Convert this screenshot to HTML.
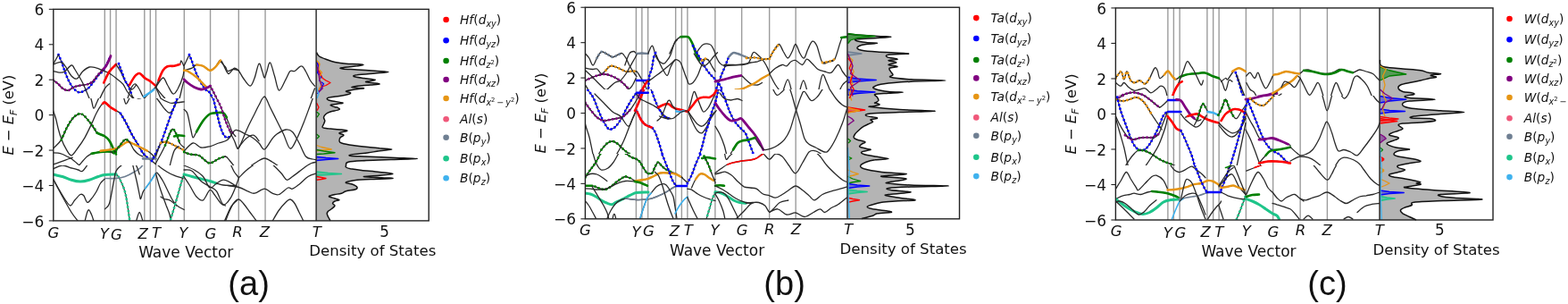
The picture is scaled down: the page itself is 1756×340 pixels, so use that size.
<!DOCTYPE html>
<html><head><meta charset="utf-8"><style>
html,body{margin:0;padding:0;background:#fff;width:1756px;height:340px;overflow:hidden}
svg{display:block}
text{font-family:'DejaVu Sans', 'Liberation Sans', sans-serif;fill:#111}
</style></head><body>
<svg width="1756" height="340" viewBox="0 0 1756 340">
<line x1="117.30" y1="10.35" x2="117.30" y2="246.90" stroke="#9c9c9c" stroke-width="1.4"/>
<line x1="123.55" y1="10.35" x2="123.55" y2="246.90" stroke="#9c9c9c" stroke-width="1.4"/>
<line x1="130.05" y1="10.35" x2="130.05" y2="246.90" stroke="#9c9c9c" stroke-width="1.4"/>
<line x1="161.80" y1="10.35" x2="161.80" y2="246.90" stroke="#9c9c9c" stroke-width="1.4"/>
<line x1="168.30" y1="10.35" x2="168.30" y2="246.90" stroke="#9c9c9c" stroke-width="1.4"/>
<line x1="174.55" y1="10.35" x2="174.55" y2="246.90" stroke="#9c9c9c" stroke-width="1.4"/>
<line x1="206.30" y1="10.35" x2="206.30" y2="246.90" stroke="#9c9c9c" stroke-width="1.4"/>
<line x1="235.55" y1="10.35" x2="235.55" y2="246.90" stroke="#9c9c9c" stroke-width="1.4"/>
<line x1="267.30" y1="10.35" x2="267.30" y2="246.90" stroke="#9c9c9c" stroke-width="1.4"/>
<line x1="297.05" y1="10.35" x2="297.05" y2="246.90" stroke="#9c9c9c" stroke-width="1.4"/>
<line x1="54.80" y1="10.35" x2="59.80" y2="10.35" stroke="#222" stroke-width="1.1"/>
<text x="49.40" y="16.95" text-anchor="end" font-size="17">6</text>
<line x1="54.80" y1="49.78" x2="59.80" y2="49.78" stroke="#222" stroke-width="1.1"/>
<text x="49.40" y="56.38" text-anchor="end" font-size="17">4</text>
<line x1="54.80" y1="89.20" x2="59.80" y2="89.20" stroke="#222" stroke-width="1.1"/>
<text x="49.40" y="95.80" text-anchor="end" font-size="17">2</text>
<line x1="54.80" y1="128.62" x2="59.80" y2="128.62" stroke="#222" stroke-width="1.1"/>
<text x="49.40" y="135.22" text-anchor="end" font-size="17">0</text>
<line x1="54.80" y1="168.05" x2="59.80" y2="168.05" stroke="#222" stroke-width="1.1"/>
<text x="49.40" y="174.65" text-anchor="end" font-size="17">−2</text>
<line x1="54.80" y1="207.48" x2="59.80" y2="207.48" stroke="#222" stroke-width="1.1"/>
<text x="49.40" y="214.08" text-anchor="end" font-size="17">−4</text>
<line x1="54.80" y1="246.90" x2="59.80" y2="246.90" stroke="#222" stroke-width="1.1"/>
<text x="49.40" y="253.50" text-anchor="end" font-size="17">−6</text>
<clipPath id="clipa"><rect x="59.80" y="10.35" width="294.30" height="236.55"/></clipPath>
<g clip-path="url(#clipa)" fill="none" stroke-linecap="round" stroke-linejoin="round">
<clipPath id="ta0"><rect x="0" y="0" width="1756" height="110"/></clipPath><g clip-path="url(#ta0)">
<path d="M65.5,61.2C66.1,62.6 67.9,66.7 69.0,69.5C70.1,72.3 70.8,75.0 72.0,78.2C73.2,81.5 74.7,85.5 76.2,88.8C77.8,92.0 79.4,95.1 81.2,97.5C83.1,99.9 85.6,102.2 87.5,103.0C89.4,103.8 90.6,103.2 92.5,102.5C94.4,101.8 96.7,100.6 98.8,98.8C100.8,96.9 103.0,93.8 105.0,91.2C107.0,88.8 108.8,85.7 110.5,83.8C112.2,81.8 113.5,81.5 115.0,79.5C116.5,77.5 118.0,74.8 119.5,72.0C121.0,69.2 123.0,64.1 123.8,62.5" stroke="#2a2a2a" stroke-width="1.2"/>
<path d="M65.5,61.2C66.1,62.6 67.9,66.7 69.0,69.5C70.1,72.3 70.8,75.0 72.0,78.2C73.2,81.5 74.7,85.5 76.2,88.8C77.8,92.0 79.4,95.1 81.2,97.5C83.1,99.9 85.6,102.2 87.5,103.0C89.4,103.8 90.6,103.2 92.5,102.5C94.4,101.8 96.7,100.6 98.8,98.8C100.8,96.9 103.0,93.8 105.0,91.2C107.0,88.8 108.8,85.7 110.5,83.8C112.2,81.8 113.5,81.5 115.0,79.5C116.5,77.5 118.0,74.8 119.5,72.0C121.0,69.2 123.0,64.1 123.8,62.5" stroke="#0000ff" stroke-width="2.9" stroke-dasharray="0 4.4"/>
<path d="M59.5,72.0L65.5,61.2" stroke="#2a2a2a" stroke-width="1.3"/>
<path d="M59.5,89.5C60.4,90.2 63.2,92.2 65.0,93.8C66.8,95.3 68.1,97.5 70.0,98.8C71.9,100.0 74.2,101.5 76.2,101.2C78.3,101.0 80.2,98.5 82.5,97.5C84.8,96.5 87.5,96.0 90.0,95.5C92.5,95.0 95.2,95.2 97.5,94.5C99.8,93.8 101.9,92.8 103.8,91.2C105.6,89.7 107.1,87.0 108.8,85.0C110.4,83.0 112.1,81.4 113.8,79.5C115.4,77.6 117.3,76.0 118.8,73.8C120.2,71.5 121.6,68.1 122.5,66.2C123.4,64.4 123.8,63.1 124.0,62.5" stroke="#2a2a2a" stroke-width="1.3"/>
<path d="M59.5,89.5C60.4,90.2 63.2,92.2 65.0,93.8C66.8,95.3 68.1,97.5 70.0,98.8C71.9,100.0 74.2,101.5 76.2,101.2C78.3,101.0 80.2,98.5 82.5,97.5C84.8,96.5 87.5,96.0 90.0,95.5C92.5,95.0 95.2,95.2 97.5,94.5C99.8,93.8 101.9,92.8 103.8,91.2C105.6,89.7 107.1,87.0 108.8,85.0C110.4,83.0 112.9,80.4 113.8,79.5" stroke="#2a2a2a" stroke-width="1.2"/>
<path d="M59.5,89.5C60.4,90.2 63.2,92.2 65.0,93.8C66.8,95.3 68.1,97.5 70.0,98.8C71.9,100.0 74.2,101.5 76.2,101.2C78.3,101.0 80.2,98.5 82.5,97.5C84.8,96.5 87.5,96.0 90.0,95.5C92.5,95.0 95.2,95.2 97.5,94.5C99.8,93.8 101.9,92.8 103.8,91.2C105.6,89.7 107.1,87.0 108.8,85.0C110.4,83.0 112.9,80.4 113.8,79.5" stroke="#800080" stroke-width="2.9" stroke-dasharray="0 4.4"/>
<path d="M113.8,79.5C114.6,78.5 117.3,76.0 118.8,73.8C120.2,71.5 121.6,68.1 122.5,66.2C123.4,64.4 123.8,63.1 124.0,62.5" stroke="#800080" stroke-width="2.8"/>
<path d="M59.5,72.0C61.0,71.6 66.4,69.0 68.8,69.5C71.1,70.0 71.9,72.4 73.8,75.0C75.6,77.6 77.9,82.8 80.0,85.0C82.1,87.2 84.2,88.8 86.2,88.0C88.3,87.2 90.2,82.2 92.5,80.0C94.8,77.8 97.5,75.7 100.0,75.0C102.5,74.3 105.0,75.1 107.5,75.8C110.0,76.4 112.5,77.7 115.0,78.8C117.5,79.8 120.0,80.5 122.5,82.0C125.0,83.5 127.5,85.5 130.0,87.5C132.5,89.5 135.4,91.2 137.5,93.8C139.6,96.2 140.6,99.8 142.5,102.5C144.4,105.2 147.7,108.8 148.8,110.0" stroke="#2a2a2a" stroke-width="1.3"/>
<path d="M59.5,79.5C60.8,79.8 65.3,81.2 67.5,81.2C69.7,81.3 70.4,81.4 72.5,80.0C74.6,78.6 78.1,73.4 80.0,73.0C81.9,72.6 81.7,74.2 83.8,77.5C85.8,80.8 89.8,87.1 92.5,92.5C95.2,97.9 97.9,105.2 100.0,110.0C102.1,114.8 103.1,121.0 105.0,121.2C106.9,121.5 109.2,115.0 111.2,111.2C113.3,107.5 115.6,101.7 117.5,98.8C119.4,95.8 121.7,94.6 122.5,93.8" stroke="#2a2a2a" stroke-width="1.3"/>
<path d="M116.2,92.5C117.3,90.4 120.2,83.4 122.5,80.0C124.8,76.6 128.8,73.3 130.0,72.0" stroke="#ff0000" stroke-width="2.6"/>
<path d="M130.0,72.0C130.8,73.3 133.1,76.6 135.0,80.0C136.9,83.4 139.2,89.2 141.2,92.5C143.3,95.8 145.6,99.6 147.5,100.0C149.4,100.4 151.7,95.8 152.5,95.0" stroke="#2a2a2a" stroke-width="1.3"/>
<path d="M133.0,71.2C133.5,72.7 135.1,76.9 136.2,80.0C137.4,83.1 138.8,87.3 140.0,90.0C141.2,92.7 142.4,93.3 143.8,96.2C145.1,99.2 147.3,105.6 148.0,107.5" stroke="#2a2a2a" stroke-width="1.2"/>
<path d="M133.0,71.2C133.5,72.7 135.1,76.9 136.2,80.0C137.4,83.1 138.8,87.3 140.0,90.0C141.2,92.7 142.4,93.3 143.8,96.2C145.1,99.2 147.3,105.6 148.0,107.5" stroke="#0000ff" stroke-width="2.9" stroke-dasharray="0 4.4"/>
<path d="M148.0,107.5C149.0,108.7 152.2,113.5 153.8,114.5C155.3,115.5 156.0,114.7 157.5,113.8C159.0,112.8 160.6,110.6 162.5,108.8C164.4,106.9 166.8,104.4 168.8,102.5C170.8,100.6 173.5,98.3 174.5,97.5" stroke="#2a2a2a" stroke-width="1.3"/>
<path d="M145.0,95.0C146.0,93.3 149.4,87.2 151.2,85.0C153.1,82.8 154.4,81.6 156.2,82.0C158.1,82.4 160.4,86.0 162.5,87.5C164.6,89.0 166.8,89.8 168.8,91.2C170.8,92.7 173.5,95.4 174.5,96.2" stroke="#ff0000" stroke-width="2.6"/>
<path d="M141.2,116.2C142.1,113.5 144.6,103.8 146.2,100.0C147.9,96.2 149.6,93.8 151.2,93.8C152.9,93.8 154.8,97.7 156.2,100.0C157.7,102.3 158.5,105.4 160.0,107.5C161.5,109.6 164.2,111.7 165.0,112.5" stroke="#2a2a2a" stroke-width="1.3"/>
<path d="M161.2,108.0C162.3,107.3 165.6,105.1 167.5,103.8C169.4,102.4 171.7,100.6 172.5,100.0" stroke="#3fb2ee" stroke-width="2.4"/>
<path d="M174.5,97.5C175.0,96.2 176.2,93.1 177.5,90.0C178.8,86.9 180.8,81.4 182.5,78.8C184.2,76.1 185.4,75.1 187.5,74.2C189.6,73.4 192.7,74.1 195.0,73.8C197.3,73.4 199.9,73.0 201.2,72.0C202.6,71.0 202.2,67.7 203.0,68.0C203.8,68.3 205.3,72.8 205.8,73.8" stroke="#2a2a2a" stroke-width="1.3"/>
<path d="M177.5,90.0C178.3,88.1 180.8,81.4 182.5,78.8C184.2,76.1 185.4,75.1 187.5,74.2C189.6,73.4 192.7,74.1 195.0,73.8C197.3,73.4 200.2,72.3 201.2,72.0" stroke="#ff0000" stroke-width="2.6"/>
<path d="M174.5,97.5C175.8,95.8 180.3,87.4 182.5,87.0C184.7,86.6 185.6,92.0 187.5,95.0C189.4,98.0 191.9,104.2 193.8,105.0C195.6,105.8 196.9,103.3 198.8,100.0C200.6,96.7 203.8,89.2 205.0,85.0C206.2,80.8 206.0,76.7 206.2,75.0" stroke="#2a2a2a" stroke-width="1.3"/>
<path d="M174.5,97.5C175.8,99.2 179.9,104.6 182.5,107.5C185.1,110.4 187.5,113.7 190.0,115.0C192.5,116.3 194.8,115.6 197.5,115.5C200.2,115.4 204.8,114.7 206.2,114.5" stroke="#2a2a2a" stroke-width="1.3"/>
<path d="M174.5,97.5C175.4,99.6 178.2,106.2 180.0,110.0C181.8,113.8 183.1,117.3 185.0,120.0C186.9,122.7 189.0,126.7 191.2,126.2C193.5,125.8 196.5,122.9 198.8,117.5C201.0,112.1 203.8,98.1 205.0,93.8C206.2,89.4 206.0,91.7 206.2,91.2" stroke="#2a2a2a" stroke-width="1.3"/>
<path d="M206.0,73.8L212.0,61.2" stroke="#2a2a2a" stroke-width="1.3"/>
<path d="M212.0,61.2C212.5,62.5 213.7,65.2 215.0,68.8C216.3,72.3 218.3,78.5 220.0,82.5C221.7,86.5 223.3,89.6 225.0,92.5C226.7,95.4 228.3,98.1 230.0,100.0C231.7,101.9 233.5,101.7 235.0,103.8C236.5,105.8 237.5,109.0 238.8,112.5C240.0,116.0 241.5,121.2 242.5,125.0C243.5,128.8 244.6,133.3 245.0,135.0" stroke="#2a2a2a" stroke-width="1.2"/>
<path d="M212.0,61.2C212.5,62.5 213.7,65.2 215.0,68.8C216.3,72.3 218.3,78.5 220.0,82.5C221.7,86.5 223.3,89.6 225.0,92.5C226.7,95.4 228.3,98.1 230.0,100.0C231.7,101.9 233.5,101.7 235.0,103.8C236.5,105.8 237.5,109.0 238.8,112.5C240.0,116.0 241.5,121.2 242.5,125.0C243.5,128.8 244.6,133.3 245.0,135.0" stroke="#0000ff" stroke-width="2.9" stroke-dasharray="0 4.4"/>
<path d="M206.0,78.8C207.5,78.3 212.7,77.3 215.0,76.2C217.3,75.2 217.9,72.9 220.0,72.5C222.1,72.1 225.0,72.7 227.5,73.8C230.0,74.8 232.7,78.5 235.0,78.8C237.3,79.0 239.2,76.9 241.2,75.0C243.2,73.1 245.1,67.1 247.0,67.5C248.9,67.9 251.0,75.0 252.5,77.5C254.0,80.0 254.6,82.7 256.2,82.5C257.9,82.3 260.6,76.8 262.5,76.2C264.4,75.8 265.8,77.6 267.5,79.5C269.2,81.4 270.4,84.7 272.5,87.5C274.6,90.3 277.9,96.2 280.0,96.2C282.1,96.2 283.3,91.7 285.0,87.5C286.7,83.3 288.5,72.5 290.0,71.2C291.5,70.0 292.7,77.4 293.8,80.0C294.8,82.6 295.4,87.0 296.2,87.0C297.1,87.0 297.7,82.8 298.8,80.0C299.8,77.2 301.0,69.2 302.5,70.0C304.0,70.8 305.8,79.8 307.5,85.0C309.2,90.2 310.4,100.6 312.5,101.2C314.6,101.9 317.9,92.4 320.0,88.8C322.1,85.1 323.3,81.0 325.0,79.5C326.7,78.0 327.9,80.5 330.0,79.5C332.1,78.5 335.4,73.7 337.5,73.8C339.6,73.8 340.8,77.3 342.5,80.0C344.2,82.7 345.8,87.3 347.5,90.0C349.2,92.7 351.7,95.2 352.5,96.2" stroke="#2a2a2a" stroke-width="1.3"/>
<path d="M247.0,68.8C247.9,69.8 251.2,73.2 252.5,75.0C253.8,76.8 253.5,79.1 255.0,79.5C256.5,79.9 259.2,77.6 261.2,77.5C263.3,77.4 266.5,78.5 267.5,78.8" stroke="#2a2a2a" stroke-width="1.3"/>
<path d="M220.0,72.5C221.2,72.7 225.0,72.7 227.5,73.8C230.0,74.8 232.7,78.5 235.0,78.8C237.3,79.0 239.2,76.9 241.2,75.0C243.2,73.1 246.0,68.8 247.0,67.5" stroke="#e69514" stroke-width="2.4"/>
<path d="M206.0,78.8C206.7,78.9 207.7,78.2 210.0,79.5C212.3,80.8 217.1,83.9 220.0,86.2C222.9,88.6 225.6,91.9 227.5,93.8C229.4,95.6 230.6,96.9 231.2,97.5" stroke="#2a2a2a" stroke-width="1.3"/>
<path d="M206.0,78.8C206.7,78.9 207.7,78.2 210.0,79.5C212.3,80.8 217.1,83.9 220.0,86.2C222.9,88.6 225.6,91.9 227.5,93.8C229.4,95.6 230.6,96.9 231.2,97.5" stroke="#e69514" stroke-width="2.4"/>
<path d="M206.0,88.8C206.7,89.4 208.1,91.0 210.0,92.5C211.9,94.0 215.0,96.2 217.5,97.5C220.0,98.8 222.9,99.8 225.0,100.0C227.1,100.2 228.2,99.4 230.0,98.8C231.8,98.1 234.6,96.7 235.5,96.2" stroke="#800080" stroke-width="2.8"/>
<path d="M235.5,96.2C236.0,97.3 237.2,99.4 238.8,102.5C240.3,105.6 243.1,110.4 245.0,115.0C246.9,119.6 248.8,126.7 250.0,130.0C251.2,133.3 252.1,134.2 252.5,135.0" stroke="#2a2a2a" stroke-width="1.2"/>
<path d="M235.5,96.2C236.0,97.3 237.2,99.4 238.8,102.5C240.3,105.6 243.1,110.4 245.0,115.0C246.9,119.6 248.8,126.7 250.0,130.0C251.2,133.3 252.1,134.2 252.5,135.0" stroke="#800080" stroke-width="2.9" stroke-dasharray="0 4.4"/>
<path d="M227.5,131.2C228.8,130.4 232.1,127.3 235.0,126.2C237.9,125.2 242.1,124.4 245.0,125.0C247.9,125.6 251.2,129.2 252.5,130.0" stroke="#008000" stroke-width="2.6"/>
<path d="M272.5,135.0C275.4,132.1 286.0,122.0 290.0,117.5C294.0,113.0 294.2,107.6 296.2,108.0C298.3,108.4 300.6,116.3 302.5,120.0C304.4,123.7 306.2,127.5 307.5,130.0C308.8,132.5 309.6,134.2 310.0,135.0" stroke="#2a2a2a" stroke-width="1.3"/>
<path d="M342.5,125.0L352.5,98.8" stroke="#2a2a2a" stroke-width="1.3"/>
</g>
<clipPath id="ta1"><rect x="0" y="110" width="1756" height="75"/></clipPath><g clip-path="url(#ta1)">
<path d="M59.5,123.8C60.0,125.2 61.5,129.0 62.5,132.5C63.5,136.0 64.5,141.2 65.5,145.0C66.5,148.8 67.4,152.0 68.8,155.5C70.1,159.0 71.9,163.2 73.8,166.2C75.6,169.3 77.7,174.0 80.0,173.8C82.3,173.5 85.0,168.3 87.5,165.0C90.0,161.7 92.5,158.1 95.0,153.8C97.5,149.4 100.4,143.1 102.5,138.8C104.6,134.4 105.8,130.8 107.5,127.5C109.2,124.2 110.8,120.9 112.5,118.8C114.2,116.6 115.6,114.3 117.5,114.5C119.4,114.7 121.7,118.5 123.8,120.0C125.8,121.5 128.1,122.6 130.0,123.8C131.9,124.9 133.1,124.7 135.0,127.0C136.9,129.3 139.2,133.7 141.2,137.5C143.3,141.3 145.2,145.8 147.5,150.0C149.8,154.2 152.9,159.0 155.0,162.5C157.1,166.0 158.3,169.0 160.0,171.2C161.7,173.5 163.3,174.8 165.0,176.2C166.7,177.7 168.4,178.8 170.0,180.0C171.6,181.2 173.8,183.1 174.5,183.8" stroke="#2a2a2a" stroke-width="1.3"/>
<path d="M115.0,116.0C115.4,115.8 116.0,113.8 117.5,114.5C119.0,115.2 121.7,118.5 123.8,120.0C125.8,121.5 129.0,123.1 130.0,123.8" stroke="#ff0000" stroke-width="2.6"/>
<path d="M135.0,127.0C136.0,128.8 139.2,133.7 141.2,137.5C143.3,141.3 145.2,145.8 147.5,150.0C149.8,154.2 152.9,159.0 155.0,162.5C157.1,166.0 158.3,169.0 160.0,171.2C161.7,173.5 164.2,175.4 165.0,176.2" stroke="#2a2a2a" stroke-width="1.2"/>
<path d="M135.0,127.0C136.0,128.8 139.2,133.7 141.2,137.5C143.3,141.3 145.2,145.8 147.5,150.0C149.8,154.2 152.9,159.0 155.0,162.5C157.1,166.0 158.3,169.0 160.0,171.2C161.7,173.5 164.2,175.4 165.0,176.2" stroke="#0000ff" stroke-width="2.9" stroke-dasharray="0 4.4"/>
<path d="M59.5,166.2C61.0,164.6 66.2,160.2 68.8,156.2C71.3,152.3 72.7,146.7 75.0,142.5C77.3,138.3 79.8,133.8 82.5,131.2C85.2,128.8 88.1,126.5 91.2,127.5C94.4,128.5 98.3,134.0 101.2,137.5C104.2,141.0 106.0,146.2 108.8,148.8C111.5,151.2 115.2,151.0 117.5,152.5C119.8,154.0 120.8,155.0 122.5,157.5C124.2,160.0 126.2,165.0 127.5,167.5C128.8,170.0 129.6,171.7 130.0,172.5" stroke="#2a2a2a" stroke-width="1.3"/>
<path d="M68.8,156.2C69.8,154.0 72.7,146.7 75.0,142.5C77.3,138.3 79.8,133.8 82.5,131.2C85.2,128.8 88.1,126.5 91.2,127.5C94.4,128.5 98.3,134.0 101.2,137.5C104.2,141.0 107.5,146.9 108.8,148.8" stroke="#2a2a2a" stroke-width="1.2"/>
<path d="M68.8,156.2C69.8,154.0 72.7,146.7 75.0,142.5C77.3,138.3 79.8,133.8 82.5,131.2C85.2,128.8 88.1,126.5 91.2,127.5C94.4,128.5 98.3,134.0 101.2,137.5C104.2,141.0 107.5,146.9 108.8,148.8" stroke="#008000" stroke-width="2.9" stroke-dasharray="0 4.4"/>
<path d="M108.8,148.8C110.2,149.4 115.2,151.0 117.5,152.5C119.8,154.0 120.8,155.0 122.5,157.5C124.2,160.0 126.2,165.0 127.5,167.5C128.8,170.0 129.6,171.7 130.0,172.5" stroke="#008000" stroke-width="2.6"/>
<path d="M98.8,98.8C99.4,101.0 101.5,108.8 102.5,112.5C103.5,116.2 104.0,121.0 105.0,121.2C106.0,121.5 107.3,116.9 108.8,113.8C110.2,110.6 112.7,105.0 113.8,102.5C114.8,100.0 114.8,99.4 115.0,98.8" stroke="#2a2a2a" stroke-width="1.3"/>
<path d="M59.5,170.8C60.4,170.8 63.2,171.0 65.0,171.2C66.8,171.5 68.3,171.9 70.0,172.5C71.7,173.1 73.3,174.2 75.0,175.0C76.7,175.8 77.9,176.0 80.0,177.5C82.1,179.0 85.8,182.3 87.5,183.8C89.2,185.2 89.6,185.8 90.0,186.2" stroke="#2a2a2a" stroke-width="1.3"/>
<path d="M87.5,186.2C89.2,184.4 94.6,177.5 97.5,175.0C100.4,172.5 102.5,172.1 105.0,171.2C107.5,170.4 110.0,170.3 112.5,170.0C115.0,169.7 117.1,169.5 120.0,169.5C122.9,169.5 128.3,169.9 130.0,170.0" stroke="#2a2a2a" stroke-width="1.3"/>
<path d="M102.5,171.8C104.2,171.5 109.6,170.4 112.5,170.0C115.4,169.6 117.1,169.5 120.0,169.5C122.9,169.5 128.3,169.9 130.0,170.0" stroke="#008000" stroke-width="2.6"/>
<path d="M60.0,183.8C61.2,183.3 64.6,182.3 67.5,181.2C70.4,180.2 75.2,178.3 77.5,177.5C79.8,176.7 80.6,176.5 81.2,176.2" stroke="#2a2a2a" stroke-width="1.3"/>
<path d="M112.5,168.8C115.4,168.3 125.4,167.7 130.0,166.2C134.6,164.8 137.7,161.2 140.0,160.0C142.3,158.8 142.1,158.5 143.8,158.8C145.4,159.0 147.3,160.0 150.0,161.2C152.7,162.5 157.5,165.0 160.0,166.2C162.5,167.5 163.3,167.7 165.0,168.8C166.7,169.8 168.4,171.0 170.0,172.5C171.6,174.0 173.8,176.7 174.5,177.5" stroke="#2a2a2a" stroke-width="1.3"/>
<path d="M112.5,168.8C115.4,168.3 125.4,167.7 130.0,166.2C134.6,164.8 137.7,161.2 140.0,160.0C142.3,158.8 142.1,158.5 143.8,158.8C145.4,159.0 147.3,160.0 150.0,161.2C152.7,162.5 157.5,165.0 160.0,166.2C162.5,167.5 164.2,168.3 165.0,168.8" stroke="#e69514" stroke-width="2.4"/>
<path d="M123.8,169.5C124.4,169.8 126.0,172.0 127.5,171.2C129.0,170.5 130.4,167.5 132.5,165.0C134.6,162.5 137.9,157.3 140.0,156.2C142.1,155.2 143.3,156.9 145.0,158.8C146.7,160.6 148.3,165.2 150.0,167.5C151.7,169.8 153.3,171.2 155.0,172.5C156.7,173.8 159.2,174.6 160.0,175.0" stroke="#2a2a2a" stroke-width="1.3"/>
<path d="M127.5,171.2C128.3,170.2 130.4,167.5 132.5,165.0C134.6,162.5 137.9,157.3 140.0,156.2C142.1,155.2 144.2,158.3 145.0,158.8" stroke="#2a2a2a" stroke-width="1.2"/>
<path d="M127.5,171.2C128.3,170.2 130.4,167.5 132.5,165.0C134.6,162.5 137.9,157.3 140.0,156.2C142.1,155.2 144.2,158.3 145.0,158.8" stroke="#008000" stroke-width="2.9" stroke-dasharray="0 4.4"/>
<path d="M160.0,177.5L174.5,177.5" stroke="#6f7f92" stroke-width="2.4"/>
<path d="M77.5,98.0C78.3,98.5 80.8,100.4 82.5,101.2C84.2,102.1 85.8,102.9 87.5,103.0C89.2,103.1 90.8,102.8 92.5,102.0C94.2,101.2 96.7,98.7 97.5,98.0" stroke="#2a2a2a" stroke-width="1.2"/>
<path d="M77.5,98.0C78.3,98.5 80.8,100.4 82.5,101.2C84.2,102.1 85.8,102.9 87.5,103.0C89.2,103.1 90.8,102.8 92.5,102.0C94.2,101.2 96.7,98.7 97.5,98.0" stroke="#0000ff" stroke-width="2.9" stroke-dasharray="0 4.4"/>
<path d="M65.0,97.5C65.8,97.9 68.1,99.4 70.0,100.0C71.9,100.6 74.2,101.6 76.2,101.2C78.3,100.9 81.5,98.5 82.5,98.0" stroke="#2a2a2a" stroke-width="1.2"/>
<path d="M65.0,97.5C65.8,97.9 68.1,99.4 70.0,100.0C71.9,100.6 74.2,101.6 76.2,101.2C78.3,100.9 81.5,98.5 82.5,98.0" stroke="#800080" stroke-width="2.9" stroke-dasharray="0 4.4"/>
<path d="M135.0,98.8C135.6,100.6 137.7,107.1 138.8,110.0C139.8,112.9 140.2,116.2 141.2,116.2C142.3,116.2 143.5,112.5 145.0,110.0C146.5,107.5 149.2,102.7 150.0,101.2" stroke="#2a2a2a" stroke-width="1.3"/>
<path d="M142.5,98.8C143.5,100.0 146.7,104.4 148.8,106.2C150.8,108.1 153.1,109.6 155.0,110.0C156.9,110.4 158.3,109.4 160.0,108.8C161.7,108.1 163.3,107.1 165.0,106.2C166.7,105.4 168.4,104.8 170.0,103.8C171.6,102.7 173.8,100.6 174.5,100.0" stroke="#2a2a2a" stroke-width="1.3"/>
<path d="M160.0,108.8C160.8,108.3 163.3,107.1 165.0,106.2C166.7,105.4 169.2,104.2 170.0,103.8" stroke="#3fb2ee" stroke-width="2.4"/>
<path d="M170.0,100.0C171.7,101.7 176.7,107.5 180.0,110.0C183.3,112.5 187.5,114.2 190.0,115.0C192.5,115.8 192.3,115.2 195.0,115.0C197.7,114.8 204.4,114.0 206.2,113.8" stroke="#2a2a2a" stroke-width="1.3"/>
<path d="M170.0,102.5C171.2,104.2 175.0,109.2 177.5,112.5C180.0,115.8 182.9,120.2 185.0,122.5C187.1,124.8 188.3,126.7 190.0,126.2C191.7,125.8 193.3,123.1 195.0,120.0C196.7,116.9 198.8,111.0 200.0,107.5C201.2,104.0 202.1,100.2 202.5,98.8" stroke="#2a2a2a" stroke-width="1.3"/>
<path d="M170.0,180.0C171.7,176.7 176.7,167.9 180.0,160.0C183.3,152.1 187.1,140.4 190.0,132.5C192.9,124.6 195.6,118.1 197.5,112.5C199.4,106.9 200.6,101.0 201.2,98.8" stroke="#2a2a2a" stroke-width="1.2"/>
<path d="M170.0,180.0C171.7,176.7 176.7,167.9 180.0,160.0C183.3,152.1 187.1,140.4 190.0,132.5C192.9,124.6 195.6,118.1 197.5,112.5C199.4,106.9 200.6,101.0 201.2,98.8" stroke="#0000ff" stroke-width="2.9" stroke-dasharray="0 4.4"/>
<path d="M174.5,182.5C175.4,180.8 178.2,175.8 180.0,172.5C181.8,169.2 182.9,167.1 185.0,162.5C187.1,157.9 190.4,147.1 192.5,145.0C194.6,142.9 196.0,147.5 197.5,150.0C199.0,152.5 199.8,157.5 201.2,160.0C202.7,162.5 205.4,164.2 206.2,165.0" stroke="#2a2a2a" stroke-width="1.3"/>
<path d="M185.0,162.5C186.2,159.6 190.4,147.1 192.5,145.0C194.6,142.9 196.0,147.5 197.5,150.0C199.0,152.5 200.6,158.3 201.2,160.0" stroke="#2a2a2a" stroke-width="1.2"/>
<path d="M185.0,162.5C186.2,159.6 190.4,147.1 192.5,145.0C194.6,142.9 196.0,147.5 197.5,150.0C199.0,152.5 200.6,158.3 201.2,160.0" stroke="#008000" stroke-width="2.9" stroke-dasharray="0 4.4"/>
<path d="M195.0,152.5C195.8,152.3 198.1,151.3 200.0,151.2C201.9,151.2 205.2,151.9 206.2,152.0" stroke="#008000" stroke-width="2.6"/>
<path d="M174.5,175.0C175.4,172.5 178.2,162.7 180.0,160.0C181.8,157.3 183.3,158.8 185.0,158.8C186.7,158.8 188.3,159.4 190.0,160.0C191.7,160.6 193.3,161.7 195.0,162.5C196.7,163.3 198.3,164.2 200.0,165.0C201.7,165.8 204.2,167.1 205.0,167.5" stroke="#2a2a2a" stroke-width="1.3"/>
<path d="M180.0,160.0C180.8,159.8 183.3,158.8 185.0,158.8C186.7,158.8 188.3,159.4 190.0,160.0C191.7,160.6 193.3,161.7 195.0,162.5C196.7,163.3 198.3,164.2 200.0,165.0C201.7,165.8 204.2,167.1 205.0,167.5" stroke="#2a2a2a" stroke-width="1.2"/>
<path d="M180.0,160.0C180.8,159.8 183.3,158.8 185.0,158.8C186.7,158.8 188.3,159.4 190.0,160.0C191.7,160.6 193.3,161.7 195.0,162.5C196.7,163.3 198.3,164.2 200.0,165.0C201.7,165.8 204.2,167.1 205.0,167.5" stroke="#e69514" stroke-width="2.9" stroke-dasharray="0 4.4"/>
<path d="M190.0,186.2C190.8,183.3 193.3,172.5 195.0,168.8C196.7,165.0 199.2,164.6 200.0,163.8" stroke="#2a2a2a" stroke-width="1.3"/>
<path d="M206.2,122.5C206.9,123.3 208.8,123.8 210.0,127.5C211.2,131.2 212.7,140.6 213.8,145.0C214.8,149.4 215.2,153.3 216.2,153.8C217.3,154.2 218.1,150.6 220.0,147.5C221.9,144.4 225.0,138.3 227.5,135.0C230.0,131.7 232.5,129.0 235.0,127.5C237.5,126.0 240.0,126.5 242.5,126.2C245.0,126.0 247.9,124.8 250.0,126.2C252.1,127.7 253.3,131.5 255.0,135.0C256.7,138.5 258.5,144.6 260.0,147.5C261.5,150.4 263.1,151.7 263.8,152.5" stroke="#2a2a2a" stroke-width="1.3"/>
<path d="M220.0,147.5C221.2,145.4 225.0,138.3 227.5,135.0C230.0,131.7 232.5,129.0 235.0,127.5C237.5,126.0 240.0,126.5 242.5,126.2C245.0,126.0 248.1,125.4 250.0,126.2C251.9,127.1 253.1,130.4 253.8,131.2" stroke="#008000" stroke-width="2.6"/>
<path d="M235.0,98.8C235.6,100.6 237.5,105.6 238.8,110.0C240.0,114.4 241.2,120.0 242.5,125.0C243.8,130.0 245.0,135.8 246.2,140.0C247.5,144.2 248.8,147.7 250.0,150.0C251.2,152.3 252.3,153.3 253.8,153.8C255.2,154.2 257.9,152.7 258.8,152.5" stroke="#2a2a2a" stroke-width="1.2"/>
<path d="M235.0,98.8C235.6,100.6 237.5,105.6 238.8,110.0C240.0,114.4 241.2,120.0 242.5,125.0C243.8,130.0 245.0,135.8 246.2,140.0C247.5,144.2 248.8,147.7 250.0,150.0C251.2,152.3 252.3,153.3 253.8,153.8C255.2,154.2 257.9,152.7 258.8,152.5" stroke="#0000ff" stroke-width="2.9" stroke-dasharray="0 4.4"/>
<path d="M237.5,101.2C238.3,102.7 240.8,106.9 242.5,110.0C244.2,113.1 245.8,115.8 247.5,120.0C249.2,124.2 250.8,130.6 252.5,135.0C254.2,139.4 256.0,144.0 257.5,146.2C259.0,148.5 260.6,148.3 261.2,148.8" stroke="#2a2a2a" stroke-width="1.2"/>
<path d="M237.5,101.2C238.3,102.7 240.8,106.9 242.5,110.0C244.2,113.1 245.8,115.8 247.5,120.0C249.2,124.2 250.8,130.6 252.5,135.0C254.2,139.4 256.0,144.0 257.5,146.2C259.0,148.5 260.6,148.3 261.2,148.8" stroke="#800080" stroke-width="2.9" stroke-dasharray="0 4.4"/>
<path d="M206.2,168.8C207.9,167.3 213.1,160.6 216.2,160.0C219.4,159.4 221.9,164.4 225.0,165.0C228.1,165.6 231.7,164.6 235.0,163.8C238.3,162.9 241.7,161.2 245.0,160.0C248.3,158.8 252.1,158.5 255.0,156.2C257.9,154.0 260.4,147.9 262.5,146.2C264.6,144.6 265.4,145.6 267.5,146.2C269.6,146.9 272.5,148.8 275.0,150.0C277.5,151.2 280.0,152.1 282.5,153.8C285.0,155.4 287.7,157.8 290.0,160.0C292.3,162.2 293.8,167.8 296.2,167.0C298.8,166.2 302.7,157.8 305.0,155.0C307.3,152.2 307.5,151.7 310.0,150.0C312.5,148.3 317.1,145.4 320.0,145.0C322.9,144.6 325.0,145.0 327.5,147.5C330.0,150.0 332.5,155.4 335.0,160.0C337.5,164.6 340.0,172.0 342.5,175.0C345.0,178.0 348.0,177.4 350.0,178.0C352.0,178.6 353.8,178.6 354.5,178.8" stroke="#2a2a2a" stroke-width="1.3"/>
<path d="M257.5,147.5C258.3,149.2 261.0,154.4 262.5,157.5C264.0,160.6 265.0,165.8 266.2,166.2C267.5,166.7 268.1,164.0 270.0,160.0C271.9,156.0 275.0,147.9 277.5,142.5C280.0,137.1 282.9,131.7 285.0,127.5C287.1,123.3 288.1,120.8 290.0,117.5C291.9,114.2 294.2,107.6 296.2,108.0C298.3,108.4 300.2,115.5 302.5,120.0C304.8,124.5 307.5,130.0 310.0,135.0C312.5,140.0 315.0,144.8 317.5,150.0C320.0,155.2 322.5,165.4 325.0,166.2C327.5,167.1 330.0,159.8 332.5,155.0C335.0,150.2 337.5,143.8 340.0,137.5C342.5,131.2 345.4,123.1 347.5,117.5C349.6,111.9 351.3,106.9 352.5,103.8C353.7,100.6 354.2,99.6 354.5,98.8" stroke="#2a2a2a" stroke-width="1.3"/>
<path d="M266.2,166.2C267.7,164.5 272.1,158.0 275.0,155.5C277.9,153.0 281.2,150.9 283.8,151.2C286.2,151.6 289.0,156.5 290.0,157.5" stroke="#2a2a2a" stroke-width="1.3"/>
<path d="M206.2,170.0C207.3,170.4 209.8,171.9 212.5,172.5C215.2,173.1 220.0,172.9 222.5,173.8C225.0,174.6 225.4,176.0 227.5,177.5C229.6,179.0 232.1,182.5 235.0,182.5C237.9,182.5 242.1,178.8 245.0,177.5C247.9,176.2 250.4,174.6 252.5,175.0C254.6,175.4 255.8,178.1 257.5,180.0C259.2,181.9 261.7,185.2 262.5,186.2" stroke="#2a2a2a" stroke-width="1.3"/>
<path d="M206.2,170.0C207.3,170.4 209.8,171.9 212.5,172.5C215.2,173.1 220.0,172.9 222.5,173.8C225.0,174.6 225.4,176.0 227.5,177.5C229.6,179.0 232.1,182.5 235.0,182.5C237.9,182.5 242.1,178.8 245.0,177.5C247.9,176.2 251.2,175.4 252.5,175.0" stroke="#2a2a2a" stroke-width="1.2"/>
<path d="M206.2,170.0C207.3,170.4 209.8,171.9 212.5,172.5C215.2,173.1 220.0,172.9 222.5,173.8C225.0,174.6 225.4,176.0 227.5,177.5C229.6,179.0 232.1,182.5 235.0,182.5C237.9,182.5 242.1,178.8 245.0,177.5C247.9,176.2 251.2,175.4 252.5,175.0" stroke="#008000" stroke-width="2.9" stroke-dasharray="0 4.4"/>
<path d="M280.0,186.2C281.2,185.4 284.8,182.8 287.5,181.2C290.2,179.7 293.3,177.0 296.2,177.0C299.2,177.0 302.3,179.7 305.0,181.2C307.7,182.8 311.2,185.4 312.5,186.2" stroke="#2a2a2a" stroke-width="1.3"/>
<path d="M342.5,186.2C343.5,185.6 346.8,183.3 348.8,182.5C350.8,181.7 353.5,181.5 354.5,181.2" stroke="#2a2a2a" stroke-width="1.3"/>
</g>
<clipPath id="ta2"><rect x="0" y="185" width="1756" height="75"/></clipPath><g clip-path="url(#ta2)">
<path d="M59.5,195.0C61.2,195.4 66.6,196.5 70.0,197.5C73.4,198.5 76.7,200.3 80.0,201.2C83.3,202.2 86.7,203.0 90.0,203.0C93.3,203.0 96.7,202.2 100.0,201.2C103.3,200.3 107.1,198.5 110.0,197.5C112.9,196.5 114.2,195.9 117.5,195.5C120.8,195.1 127.9,195.1 130.0,195.0" stroke="#1ec58a" stroke-width="3.0"/>
<path d="M130.0,195.0C130.4,195.4 131.2,195.4 132.5,197.5C133.8,199.6 136.0,203.8 137.5,207.5C139.0,211.2 140.0,213.8 141.2,220.0C142.5,226.2 144.2,239.6 145.0,245.0C145.8,250.4 146.0,251.2 146.2,252.5" stroke="#2a2a2a" stroke-width="1.2"/>
<path d="M130.0,195.0C130.4,195.4 131.2,195.4 132.5,197.5C133.8,199.6 136.0,203.8 137.5,207.5C139.0,211.2 140.0,213.8 141.2,220.0C142.5,226.2 144.2,239.6 145.0,245.0C145.8,250.4 146.0,251.2 146.2,252.5" stroke="#1ec58a" stroke-width="2.9" stroke-dasharray="0 4.4"/>
<path d="M59.5,188.8C61.2,188.1 66.6,185.1 70.0,185.0C73.4,184.9 77.1,187.2 80.0,188.0C82.9,188.8 85.4,189.5 87.5,190.0C89.6,190.5 90.4,192.7 92.5,191.2C94.6,189.8 97.9,184.4 100.0,181.2C102.1,178.1 103.8,174.4 105.0,172.5C106.2,170.6 107.1,170.4 107.5,170.0" stroke="#2a2a2a" stroke-width="1.3"/>
<path d="M59.5,200.0C60.4,201.7 62.8,206.2 65.0,210.0C67.2,213.8 70.2,219.2 72.5,222.5C74.8,225.8 76.9,229.8 78.8,230.0C80.6,230.2 81.9,225.8 83.8,223.8C85.6,221.7 88.3,218.3 90.0,217.5C91.7,216.7 92.5,217.3 93.8,218.8C95.0,220.2 96.2,225.4 97.5,226.2C98.8,227.1 99.6,225.6 101.2,223.8C102.9,221.9 105.6,218.1 107.5,215.0C109.4,211.9 110.8,207.5 112.5,205.0C114.2,202.5 116.7,200.8 117.5,200.0" stroke="#2a2a2a" stroke-width="1.3"/>
<path d="M60.0,201.2C61.7,204.4 66.7,214.0 70.0,220.0C73.3,226.0 77.1,232.9 80.0,237.5C82.9,242.1 86.2,245.8 87.5,247.5" stroke="#2a2a2a" stroke-width="1.3"/>
<path d="M95.0,247.5C95.6,245.4 97.5,236.2 98.8,235.0C100.0,233.8 101.5,237.9 102.5,240.0C103.5,242.1 104.6,246.2 105.0,247.5" stroke="#2a2a2a" stroke-width="1.3"/>
<path d="M117.5,199.5C119.6,199.5 126.2,199.8 130.0,199.5C133.8,199.2 136.7,198.7 140.0,197.5C143.3,196.3 147.1,194.2 150.0,192.5C152.9,190.8 155.4,189.4 157.5,187.5C159.6,185.6 160.6,182.9 162.5,181.2C164.4,179.6 167.1,178.2 168.8,177.5C170.4,176.8 171.9,177.1 172.5,177.0" stroke="#6f7f92" stroke-width="1.6"/>
<path d="M117.5,233.8C118.3,232.7 120.8,232.7 122.5,227.5C124.2,222.3 126.2,208.5 127.5,202.5C128.8,196.5 128.3,194.4 130.0,191.2C131.7,188.1 134.6,185.7 137.5,183.8C140.4,181.8 145.0,179.3 147.5,179.5C150.0,179.7 151.0,182.4 152.5,185.0C154.0,187.6 155.6,193.3 156.2,195.0" stroke="#2a2a2a" stroke-width="1.3"/>
<path d="M147.5,179.5C148.3,182.9 151.0,193.7 152.5,200.0C154.0,206.3 155.4,213.8 156.2,217.5C157.1,221.2 156.9,222.9 157.5,222.5C158.1,222.1 159.2,216.9 160.0,215.0C160.8,213.1 161.0,213.3 162.5,211.2C164.0,209.2 166.8,205.4 168.8,202.5C170.8,199.6 173.0,195.0 174.5,193.8C176.0,192.5 176.2,193.5 177.5,195.0C178.8,196.5 180.8,199.6 182.5,202.5C184.2,205.4 185.8,209.2 187.5,212.5C189.2,215.8 190.8,219.6 192.5,222.5C194.2,225.4 196.7,228.8 197.5,230.0" stroke="#2a2a2a" stroke-width="1.3"/>
<path d="M162.5,211.2C163.5,209.8 166.8,205.4 168.8,202.5C170.8,199.6 173.5,195.2 174.5,193.8" stroke="#3fb2ee" stroke-width="1.6"/>
<path d="M174.5,193.8C175.0,195.6 176.2,200.6 177.5,205.0C178.8,209.4 181.0,215.8 182.5,220.0C184.0,224.2 185.0,226.7 186.2,230.0C187.5,233.3 189.2,237.1 190.0,240.0C190.8,242.9 191.0,246.2 191.2,247.5" stroke="#2a2a2a" stroke-width="1.3"/>
<path d="M180.0,220.0C180.6,220.4 182.1,221.9 183.8,222.5C185.4,223.1 188.1,222.9 190.0,223.8C191.9,224.6 193.3,226.2 195.0,227.5C196.7,228.8 198.1,230.1 200.0,231.2C201.9,232.4 205.2,234.0 206.2,234.5" stroke="#2a2a2a" stroke-width="1.3"/>
<path d="M191.2,245.0C191.9,242.9 193.5,237.5 195.0,232.5C196.5,227.5 198.3,220.8 200.0,215.0C201.7,209.2 204.0,200.8 205.0,197.5C206.0,194.2 206.0,195.4 206.2,195.0" stroke="#2a2a2a" stroke-width="1.2"/>
<path d="M191.2,245.0C191.9,242.9 193.5,237.5 195.0,232.5C196.5,227.5 198.3,220.8 200.0,215.0C201.7,209.2 204.0,200.8 205.0,197.5C206.0,194.2 206.0,195.4 206.2,195.0" stroke="#1ec58a" stroke-width="2.9" stroke-dasharray="0 4.4"/>
<path d="M174.5,182.5C175.4,183.3 177.8,185.8 180.0,187.5C182.2,189.2 185.0,191.0 187.5,192.5C190.0,194.0 192.1,195.1 195.0,196.2C197.9,197.4 203.3,199.0 205.0,199.5" stroke="#2a2a2a" stroke-width="1.3"/>
<path d="M152.5,247.5C153.1,245.8 155.0,237.5 156.2,237.5C157.5,237.5 159.4,245.8 160.0,247.5" stroke="#2a2a2a" stroke-width="1.3"/>
<path d="M206.0,195.0C207.5,195.4 211.8,196.7 215.0,197.5C218.2,198.3 221.7,199.2 225.0,200.0C228.3,200.8 232.1,201.7 235.0,202.5C237.9,203.3 241.2,204.6 242.5,205.0" stroke="#1ec58a" stroke-width="3.0"/>
<path d="M242.5,205.0C243.8,205.3 247.5,206.6 250.0,207.0C252.5,207.4 255.0,207.4 257.5,207.5C260.0,207.6 263.8,207.5 265.0,207.5" stroke="#2a2a2a" stroke-width="1.3"/>
<path d="M206.0,170.0C207.5,170.8 211.8,173.3 215.0,175.0C218.2,176.7 221.7,178.5 225.0,180.0C228.3,181.5 231.7,183.8 235.0,183.8C238.3,183.8 242.1,181.5 245.0,180.0C247.9,178.5 250.4,174.6 252.5,175.0C254.6,175.4 255.8,179.6 257.5,182.5C259.2,185.4 260.8,189.8 262.5,192.5C264.2,195.2 266.7,197.7 267.5,198.8" stroke="#2a2a2a" stroke-width="1.3"/>
<path d="M206.0,170.0C207.5,170.8 211.8,173.3 215.0,175.0C218.2,176.7 221.7,178.5 225.0,180.0C228.3,181.5 231.7,183.8 235.0,183.8C238.3,183.8 242.1,181.5 245.0,180.0C247.9,178.5 251.2,175.8 252.5,175.0" stroke="#008000" stroke-width="1.6"/>
<path d="M206.0,185.0C207.9,185.8 213.9,187.9 217.5,190.0C221.1,192.1 224.6,194.2 227.5,197.5C230.4,200.8 232.5,208.8 235.0,210.0C237.5,211.2 240.0,206.5 242.5,205.0C245.0,203.5 247.5,201.5 250.0,201.2C252.5,201.0 255.0,202.5 257.5,203.8C260.0,205.0 263.8,207.9 265.0,208.8" stroke="#2a2a2a" stroke-width="1.3"/>
<path d="M206.0,190.0C207.5,190.2 211.8,189.2 215.0,191.2C218.2,193.3 221.7,199.6 225.0,202.5C228.3,205.4 232.1,206.9 235.0,208.8C237.9,210.6 240.0,210.4 242.5,213.8C245.0,217.1 247.5,227.3 250.0,228.8C252.5,230.2 255.4,225.2 257.5,222.5C259.6,219.8 260.8,216.5 262.5,212.5C264.2,208.5 266.7,201.0 267.5,198.8" stroke="#2a2a2a" stroke-width="1.3"/>
<path d="M206.0,197.5C207.1,199.2 210.2,203.8 212.5,207.5C214.8,211.2 217.5,217.3 220.0,220.0C222.5,222.7 225.0,225.0 227.5,223.8C230.0,222.5 232.9,213.5 235.0,212.5C237.1,211.5 237.9,215.0 240.0,217.5C242.1,220.0 245.4,225.4 247.5,227.5C249.6,229.6 251.7,229.6 252.5,230.0" stroke="#2a2a2a" stroke-width="1.3"/>
<path d="M267.5,198.8C268.8,197.5 272.1,193.8 275.0,191.2C277.9,188.8 281.5,186.0 285.0,183.8C288.5,181.5 292.9,177.5 296.2,177.5C299.6,177.5 301.9,181.0 305.0,183.8C308.1,186.5 312.3,190.8 315.0,193.8C317.7,196.7 319.2,200.6 321.2,201.2C323.3,201.9 324.8,199.4 327.5,197.5C330.2,195.6 334.2,192.5 337.5,190.0C340.8,187.5 344.7,184.6 347.5,182.5C350.3,180.4 353.3,178.3 354.5,177.5" stroke="#2a2a2a" stroke-width="1.3"/>
<path d="M255.0,207.5C257.1,207.8 263.8,208.5 267.5,209.5C271.2,210.5 274.6,212.6 277.5,213.8C280.4,214.9 281.9,216.7 285.0,216.2C288.1,215.8 292.9,211.2 296.2,211.2C299.6,211.2 302.3,215.2 305.0,216.2C307.7,217.3 309.6,218.5 312.5,217.5C315.4,216.5 320.0,211.0 322.5,210.0C325.0,209.0 325.4,211.9 327.5,211.2C329.6,210.6 332.1,208.5 335.0,206.2C337.9,204.0 341.8,199.6 345.0,197.5C348.2,195.4 352.9,194.4 354.5,193.8" stroke="#2a2a2a" stroke-width="1.3"/>
<path d="M252.5,247.5C253.3,245.4 255.8,238.5 257.5,235.0C259.2,231.5 260.8,228.2 262.5,226.2C264.2,224.2 265.8,222.8 267.5,223.0C269.2,223.2 270.4,225.1 272.5,227.5C274.6,229.9 277.5,234.2 280.0,237.5C282.5,240.8 286.2,245.8 287.5,247.5" stroke="#2a2a2a" stroke-width="1.3"/>
<path d="M251.2,247.5C252.5,244.8 256.5,235.1 258.8,231.2C261.0,227.4 264.0,225.6 265.0,224.5" stroke="#2a2a2a" stroke-width="1.3"/>
<path d="M305.0,247.5C306.2,245.4 310.0,238.5 312.5,235.0C315.0,231.5 317.9,228.2 320.0,226.2C322.1,224.2 323.3,222.8 325.0,223.0C326.7,223.2 328.3,225.1 330.0,227.5C331.7,229.9 333.3,234.2 335.0,237.5C336.7,240.8 339.2,245.8 340.0,247.5" stroke="#2a2a2a" stroke-width="1.3"/>
<path d="M342.5,170.0C343.3,170.8 345.5,173.3 347.5,175.0C349.5,176.7 353.3,179.2 354.5,180.0" stroke="#2a2a2a" stroke-width="1.3"/>
</g>
</g>
<path d="M354.5,58.8C355.0,59.5 355.8,61.8 357.5,63.0C359.2,64.2 362.1,65.2 365.0,66.2C367.9,67.3 371.2,68.7 375.0,69.5C378.8,70.3 383.3,70.9 387.5,71.2C391.7,71.6 396.8,71.5 400.0,71.8C403.2,72.0 407.0,72.2 407.0,72.5C407.0,72.8 404.1,73.2 400.0,73.8C395.9,74.3 385.2,75.2 382.5,75.8C379.8,76.3 380.8,76.6 383.8,77.0C386.7,77.4 394.0,77.6 400.0,78.0C406.0,78.4 414.2,78.8 420.0,79.2C425.8,79.7 435.0,80.0 435.0,80.5C435.0,81.0 425.8,81.5 420.0,82.0C414.2,82.5 404.0,83.2 400.0,83.8C396.0,84.3 395.0,84.9 396.2,85.5C397.5,86.1 403.5,86.9 407.5,87.5C411.5,88.1 419.0,88.7 420.0,89.2C421.0,89.8 415.4,90.3 413.8,90.8C412.1,91.2 408.1,91.2 410.0,91.8C411.9,92.2 424.2,93.2 425.0,93.8C425.8,94.3 419.2,94.6 415.0,95.0C410.8,95.4 403.5,95.8 400.0,96.2C396.5,96.7 393.8,97.2 393.8,97.5C393.8,97.8 397.7,98.0 400.0,98.2C402.3,98.5 407.9,98.5 407.5,98.8C407.1,99.0 400.8,99.5 397.5,100.0C394.2,100.5 388.3,101.4 387.5,102.0C386.7,102.6 392.1,103.2 392.5,103.8C392.9,104.3 392.1,104.9 390.0,105.5C387.9,106.1 383.3,107.0 380.0,107.5C376.7,108.0 372.3,108.2 370.0,108.8C367.7,109.2 366.2,109.9 366.2,110.5C366.2,111.1 367.1,111.8 370.0,112.5C372.9,113.2 382.5,114.4 383.8,115.0C385.0,115.6 379.8,115.8 377.5,116.2C375.2,116.7 370.2,116.9 370.0,117.5C369.8,118.1 375.0,119.6 376.2,120.0C377.5,120.4 376.9,119.6 377.5,120.0C378.1,120.4 381.2,121.7 380.0,122.5C378.8,123.3 372.5,124.2 370.0,125.0C367.5,125.8 366.2,126.5 365.0,127.5C363.8,128.5 362.7,130.0 362.5,131.2C362.3,132.5 363.8,133.8 363.8,135.0C363.8,136.2 362.9,137.5 362.5,138.8C362.1,140.0 360.4,141.7 361.2,142.5C362.1,143.3 364.0,143.3 367.5,143.8C371.0,144.2 379.0,144.6 382.5,145.0C386.0,145.4 389.2,145.6 388.8,146.2C388.3,146.9 380.6,147.9 380.0,148.8C379.4,149.6 384.8,150.4 385.0,151.2C385.2,152.1 382.1,152.7 381.2,153.8C380.4,154.8 379.8,156.5 380.0,157.5C380.2,158.5 380.0,159.2 382.5,160.0C385.0,160.8 390.0,161.8 395.0,162.5C400.0,163.2 407.5,164.0 412.5,164.5C417.5,165.0 420.6,165.3 425.0,165.8C429.4,166.2 438.8,166.5 438.8,167.0C438.8,167.5 429.4,168.1 425.0,168.8C420.6,169.4 417.7,170.0 412.5,170.8C407.3,171.5 397.1,172.4 393.8,173.0C390.4,173.6 390.2,173.9 392.5,174.2C394.8,174.6 400.0,174.7 407.5,175.0C415.0,175.3 427.5,175.8 437.5,176.2C447.5,176.7 467.5,177.1 467.5,177.5C467.5,177.9 447.1,178.2 437.5,178.5C427.9,178.8 417.9,179.0 410.0,179.5C402.1,180.0 393.8,180.3 390.0,181.2C386.2,182.2 387.9,184.0 387.5,185.0C387.1,186.0 386.7,186.4 387.5,187.0C388.3,187.6 389.6,188.2 392.5,188.8C395.4,189.3 399.6,189.9 405.0,190.5C410.4,191.1 419.2,191.8 425.0,192.5C430.8,193.2 440.0,193.9 440.0,194.5C440.0,195.1 430.4,195.8 425.0,196.2C419.6,196.8 408.8,197.2 407.5,197.5C406.2,197.8 412.1,197.9 417.5,198.2C422.9,198.6 440.4,199.1 440.0,199.5C439.6,199.9 421.7,200.2 415.0,200.5C408.3,200.8 404.2,200.8 400.0,201.2C395.8,201.7 392.1,202.5 390.0,203.0C387.9,203.5 386.7,204.0 387.5,204.5C388.3,205.0 392.9,205.4 395.0,206.2C397.1,207.1 399.6,208.5 400.0,209.5C400.4,210.5 399.6,211.3 397.5,212.0C395.4,212.7 390.0,213.0 387.5,213.8C385.0,214.5 384.6,215.6 382.5,216.2C380.4,216.9 377.1,217.1 375.0,217.5C372.9,217.9 371.0,218.3 370.0,218.8C369.0,219.2 367.9,219.5 368.8,220.0C369.6,220.5 373.1,221.4 375.0,222.0C376.9,222.6 380.0,223.2 380.0,223.8C380.0,224.2 376.2,224.4 375.0,225.0C373.8,225.6 372.5,226.7 372.5,227.5C372.5,228.3 375.2,229.0 375.0,230.0C374.8,231.0 372.5,232.7 371.2,233.8C370.0,234.8 368.3,235.4 367.5,236.2C366.7,237.1 366.2,237.7 366.2,238.8C366.2,239.8 366.9,241.2 367.5,242.5C368.1,243.8 369.6,246.0 370.0,246.8L354.10,246.90L354.10,58.75Z" fill="#b4b4b4" stroke="none"/>
<path d="M354.10,175.50 L354.50,175.50 L365.00,176.50 L378.75,177.50 L365.00,178.50 L354.50,179.50 L354.10,179.50Z" fill="#8080c0" stroke="none"/>
<path d="M354.10,192.00 L354.50,192.00 L367.50,193.50 L382.50,194.50 L367.50,195.50 L354.50,196.25 L354.10,196.25Z" fill="#60c0a0" stroke="none"/>
<path d="M354.5,58.8C355.0,59.5 355.8,61.8 357.5,63.0C359.2,64.2 362.1,65.2 365.0,66.2C367.9,67.3 371.2,68.7 375.0,69.5C378.8,70.3 383.3,70.9 387.5,71.2C391.7,71.6 396.8,71.5 400.0,71.8C403.2,72.0 407.0,72.2 407.0,72.5C407.0,72.8 404.1,73.2 400.0,73.8C395.9,74.3 385.2,75.2 382.5,75.8C379.8,76.3 380.8,76.6 383.8,77.0C386.7,77.4 394.0,77.6 400.0,78.0C406.0,78.4 414.2,78.8 420.0,79.2C425.8,79.7 435.0,80.0 435.0,80.5C435.0,81.0 425.8,81.5 420.0,82.0C414.2,82.5 404.0,83.2 400.0,83.8C396.0,84.3 395.0,84.9 396.2,85.5C397.5,86.1 403.5,86.9 407.5,87.5C411.5,88.1 419.0,88.7 420.0,89.2C421.0,89.8 415.4,90.3 413.8,90.8C412.1,91.2 408.1,91.2 410.0,91.8C411.9,92.2 424.2,93.2 425.0,93.8C425.8,94.3 419.2,94.6 415.0,95.0C410.8,95.4 403.5,95.8 400.0,96.2C396.5,96.7 393.8,97.2 393.8,97.5C393.8,97.8 397.7,98.0 400.0,98.2C402.3,98.5 407.9,98.5 407.5,98.8C407.1,99.0 400.8,99.5 397.5,100.0C394.2,100.5 388.3,101.4 387.5,102.0C386.7,102.6 392.1,103.2 392.5,103.8C392.9,104.3 392.1,104.9 390.0,105.5C387.9,106.1 383.3,107.0 380.0,107.5C376.7,108.0 372.3,108.2 370.0,108.8C367.7,109.2 366.2,109.9 366.2,110.5C366.2,111.1 367.1,111.8 370.0,112.5C372.9,113.2 382.5,114.4 383.8,115.0C385.0,115.6 379.8,115.8 377.5,116.2C375.2,116.7 370.2,116.9 370.0,117.5C369.8,118.1 375.0,119.6 376.2,120.0C377.5,120.4 376.9,119.6 377.5,120.0C378.1,120.4 381.2,121.7 380.0,122.5C378.8,123.3 372.5,124.2 370.0,125.0C367.5,125.8 366.2,126.5 365.0,127.5C363.8,128.5 362.7,130.0 362.5,131.2C362.3,132.5 363.8,133.8 363.8,135.0C363.8,136.2 362.9,137.5 362.5,138.8C362.1,140.0 360.4,141.7 361.2,142.5C362.1,143.3 364.0,143.3 367.5,143.8C371.0,144.2 379.0,144.6 382.5,145.0C386.0,145.4 389.2,145.6 388.8,146.2C388.3,146.9 380.6,147.9 380.0,148.8C379.4,149.6 384.8,150.4 385.0,151.2C385.2,152.1 382.1,152.7 381.2,153.8C380.4,154.8 379.8,156.5 380.0,157.5C380.2,158.5 380.0,159.2 382.5,160.0C385.0,160.8 390.0,161.8 395.0,162.5C400.0,163.2 407.5,164.0 412.5,164.5C417.5,165.0 420.6,165.3 425.0,165.8C429.4,166.2 438.8,166.5 438.8,167.0C438.8,167.5 429.4,168.1 425.0,168.8C420.6,169.4 417.7,170.0 412.5,170.8C407.3,171.5 397.1,172.4 393.8,173.0C390.4,173.6 390.2,173.9 392.5,174.2C394.8,174.6 400.0,174.7 407.5,175.0C415.0,175.3 427.5,175.8 437.5,176.2C447.5,176.7 467.5,177.1 467.5,177.5C467.5,177.9 447.1,178.2 437.5,178.5C427.9,178.8 417.9,179.0 410.0,179.5C402.1,180.0 393.8,180.3 390.0,181.2C386.2,182.2 387.9,184.0 387.5,185.0C387.1,186.0 386.7,186.4 387.5,187.0C388.3,187.6 389.6,188.2 392.5,188.8C395.4,189.3 399.6,189.9 405.0,190.5C410.4,191.1 419.2,191.8 425.0,192.5C430.8,193.2 440.0,193.9 440.0,194.5C440.0,195.1 430.4,195.8 425.0,196.2C419.6,196.8 408.8,197.2 407.5,197.5C406.2,197.8 412.1,197.9 417.5,198.2C422.9,198.6 440.4,199.1 440.0,199.5C439.6,199.9 421.7,200.2 415.0,200.5C408.3,200.8 404.2,200.8 400.0,201.2C395.8,201.7 392.1,202.5 390.0,203.0C387.9,203.5 386.7,204.0 387.5,204.5C388.3,205.0 392.9,205.4 395.0,206.2C397.1,207.1 399.6,208.5 400.0,209.5C400.4,210.5 399.6,211.3 397.5,212.0C395.4,212.7 390.0,213.0 387.5,213.8C385.0,214.5 384.6,215.6 382.5,216.2C380.4,216.9 377.1,217.1 375.0,217.5C372.9,217.9 371.0,218.3 370.0,218.8C369.0,219.2 367.9,219.5 368.8,220.0C369.6,220.5 373.1,221.4 375.0,222.0C376.9,222.6 380.0,223.2 380.0,223.8C380.0,224.2 376.2,224.4 375.0,225.0C373.8,225.6 372.5,226.7 372.5,227.5C372.5,228.3 375.2,229.0 375.0,230.0C374.8,231.0 372.5,232.7 371.2,233.8C370.0,234.8 368.3,235.4 367.5,236.2C366.7,237.1 366.2,237.7 366.2,238.8C366.2,239.8 366.9,241.2 367.5,242.5C368.1,243.8 369.6,246.0 370.0,246.8" fill="none" stroke="#111" stroke-width="1.5" stroke-linejoin="round"/>
<path d="M354.50,70.00 L357.50,72.50 L356.25,77.50 L358.75,82.50 L361.25,87.50 L365.00,90.00 L370.00,92.50 L365.00,95.50 L358.75,97.50 L356.25,102.50" fill="none" stroke="#ff0000" stroke-width="1.3" stroke-linejoin="round"/>
<path d="M354.50,68.75 L357.00,75.00 L355.50,81.25 L359.50,86.25 L357.50,90.00 L362.50,93.75 L358.75,100.00 L355.50,105.00" fill="none" stroke="#0000ff" stroke-width="1.3" stroke-linejoin="round"/>
<path d="M354.50,67.50 L358.00,71.25 L357.00,77.50 L360.50,81.25 L357.50,86.25 L360.00,95.00 L357.00,101.25" fill="none" stroke="#e69514" stroke-width="1.3" stroke-linejoin="round"/>
<path d="M354.50,72.50 L356.50,80.00 L358.00,90.00 L361.25,98.75 L356.25,103.75" fill="none" stroke="#800080" stroke-width="1.3" stroke-linejoin="round"/>
<path d="M354.50,97.50 L357.00,105.00 L355.00,110.00" fill="none" stroke="#3fb2ee" stroke-width="1.3" stroke-linejoin="round"/>
<path d="M354.50,115.00 L357.00,120.00 L355.00,123.75" fill="none" stroke="#ff0000" stroke-width="1.3" stroke-linejoin="round"/>
<path d="M354.50,162.50 L360.00,164.50 L371.25,167.00 L360.00,168.00 L354.50,168.75" fill="none" stroke="#e69514" stroke-width="1.3" stroke-linejoin="round"/>
<path d="M354.50,167.50 L362.50,169.00 L375.00,170.75 L362.50,172.00 L354.50,172.50" fill="none" stroke="#008000" stroke-width="1.3" stroke-linejoin="round"/>
<path d="M354.50,175.50 L365.00,176.50 L378.75,177.50 L365.00,178.50 L354.50,179.50" fill="none" stroke="#0000ff" stroke-width="1.3" stroke-linejoin="round"/>
<path d="M354.50,192.00 L367.50,193.50 L382.50,194.50 L367.50,195.50 L354.50,196.25" fill="none" stroke="#1ec58a" stroke-width="1.3" stroke-linejoin="round"/>
<path d="M354.50,197.50 L360.00,198.50 L365.00,199.50 L360.00,200.50 L354.50,201.25" fill="none" stroke="#ff0000" stroke-width="1.3" stroke-linejoin="round"/>
<path d="M354.50,125.00 L357.50,127.50 L355.00,131.25" fill="none" stroke="#008000" stroke-width="1.3" stroke-linejoin="round"/>
<path d="M354.50,150.00 L357.50,152.50 L355.00,155.00" fill="none" stroke="#008000" stroke-width="1.3" stroke-linejoin="round"/>
<rect x="59.80" y="10.35" width="420.40" height="236.55" fill="none" stroke="#222" stroke-width="1.4"/>
<line x1="354.10" y1="10.35" x2="354.10" y2="246.90" stroke="#222" stroke-width="1.4"/>
<text x="60.00" y="265.50" text-anchor="middle" font-size="16.5" font-style="italic">G</text>
<text x="116.80" y="267.40" text-anchor="middle" font-size="16.5" font-style="italic">Y</text>
<text x="130.50" y="268.00" text-anchor="middle" font-size="16.5" font-style="italic">G</text>
<text x="160.10" y="266.80" text-anchor="middle" font-size="16.5" font-style="italic">Z</text>
<text x="175.10" y="266.20" text-anchor="middle" font-size="16.5" font-style="italic">T</text>
<text x="205.20" y="266.00" text-anchor="middle" font-size="16.5" font-style="italic">Y</text>
<text x="235.80" y="266.80" text-anchor="middle" font-size="16.5" font-style="italic">G</text>
<text x="266.10" y="264.90" text-anchor="middle" font-size="16.5" font-style="italic">R</text>
<text x="296.30" y="264.90" text-anchor="middle" font-size="16.5" font-style="italic">Z</text>
<text x="354.80" y="264.90" text-anchor="middle" font-size="16.5" font-style="italic">T</text>
<text x="430.50" y="264.60" text-anchor="middle" font-size="16.8">5</text>
<text x="208.25" y="287.50" text-anchor="middle" font-size="17">Wave Vector</text>
<text x="417.25" y="286.40" text-anchor="middle" font-size="16.6">Density of States</text>
<text transform="translate(15.30,128.62) rotate(-90)" text-anchor="middle" font-size="16.3" ><tspan font-style="italic">E</tspan> − <tspan font-style="italic">E</tspan><tspan font-size="11" dy="3.5" font-style="italic">F</tspan><tspan dy="-3.5"> (eV)</tspan></text>
<circle cx="499.60" cy="22.00" r="3.3" fill="#ff0000"/>
<text x="515.00" y="26.80" font-size="13.8"><tspan font-style="italic">Hf</tspan>(<tspan font-style="italic">d</tspan><tspan font-size="9.6" dy="3.2" font-style="italic">xy</tspan><tspan dy="-3.2">)</tspan></text>
<circle cx="499.60" cy="45.25" r="3.3" fill="#0000ff"/>
<text x="515.00" y="50.05" font-size="13.8"><tspan font-style="italic">Hf</tspan>(<tspan font-style="italic">d</tspan><tspan font-size="9.6" dy="3.2" font-style="italic">yz</tspan><tspan dy="-3.2">)</tspan></text>
<circle cx="499.60" cy="68.00" r="3.3" fill="#008000"/>
<text x="515.00" y="72.80" font-size="13.8"><tspan font-style="italic">Hf</tspan>(<tspan font-style="italic">d</tspan><tspan font-size="9.6" dy="3.2" font-style="italic">z</tspan><tspan font-size="6.8" dy="-4.5">2</tspan><tspan dy="1.3">)</tspan></text>
<circle cx="499.60" cy="89.00" r="3.3" fill="#800080"/>
<text x="515.00" y="93.80" font-size="13.8"><tspan font-style="italic">Hf</tspan>(<tspan font-style="italic">d</tspan><tspan font-size="9.6" dy="3.2" font-style="italic">xz</tspan><tspan dy="-3.2">)</tspan></text>
<circle cx="499.60" cy="110.00" r="3.3" fill="#e69514"/>
<text x="515.00" y="114.80" font-size="13.8"><tspan font-style="italic">Hf</tspan>(<tspan font-style="italic">d</tspan><tspan font-size="9.6" dy="3.2" font-style="italic">x</tspan><tspan font-size="6.8" dy="-4.5">2</tspan><tspan font-size="9.6" dy="4.5"> − </tspan><tspan font-size="9.6" font-style="italic">y</tspan><tspan font-size="6.8" dy="-4.5">2</tspan><tspan dy="1.3">)</tspan></text>
<circle cx="499.60" cy="133.25" r="3.3" fill="#f0587a"/>
<text x="515.00" y="138.05" font-size="13.8"><tspan font-style="italic">Al</tspan>(<tspan font-style="italic">s</tspan>)</text>
<circle cx="499.60" cy="153.75" r="3.3" fill="#6f7f92"/>
<text x="515.00" y="158.55" font-size="13.8"><tspan font-style="italic">B</tspan>(<tspan font-style="italic">p</tspan><tspan font-size="9.6" dy="3.2" font-style="italic">y</tspan><tspan dy="-3.2">)</tspan></text>
<circle cx="499.60" cy="177.30" r="3.3" fill="#1ec58a"/>
<text x="515.00" y="182.10" font-size="13.8"><tspan font-style="italic">B</tspan>(<tspan font-style="italic">p</tspan><tspan font-size="9.6" dy="3.2" font-style="italic">x</tspan><tspan dy="-3.2">)</tspan></text>
<circle cx="499.60" cy="199.20" r="3.3" fill="#3fb2ee"/>
<text x="515.00" y="204.00" font-size="13.8"><tspan font-style="italic">B</tspan>(<tspan font-style="italic">p</tspan><tspan font-size="9.6" dy="3.2" font-style="italic">z</tspan><tspan dy="-3.2">)</tspan></text>
<text x="278.60" y="330" text-anchor="middle" style="font-family:'Liberation Sans',Arial,sans-serif;font-size:38px">(a)</text>
<line x1="712.40" y1="8.24" x2="712.40" y2="244.80" stroke="#9c9c9c" stroke-width="1.4"/>
<line x1="718.90" y1="8.24" x2="718.90" y2="244.80" stroke="#9c9c9c" stroke-width="1.4"/>
<line x1="725.65" y1="8.24" x2="725.65" y2="244.80" stroke="#9c9c9c" stroke-width="1.4"/>
<line x1="756.65" y1="8.24" x2="756.65" y2="244.80" stroke="#9c9c9c" stroke-width="1.4"/>
<line x1="763.40" y1="8.24" x2="763.40" y2="244.80" stroke="#9c9c9c" stroke-width="1.4"/>
<line x1="769.90" y1="8.24" x2="769.90" y2="244.80" stroke="#9c9c9c" stroke-width="1.4"/>
<line x1="800.90" y1="8.24" x2="800.90" y2="244.80" stroke="#9c9c9c" stroke-width="1.4"/>
<line x1="830.65" y1="8.24" x2="830.65" y2="244.80" stroke="#9c9c9c" stroke-width="1.4"/>
<line x1="861.65" y1="8.24" x2="861.65" y2="244.80" stroke="#9c9c9c" stroke-width="1.4"/>
<line x1="891.15" y1="8.24" x2="891.15" y2="244.80" stroke="#9c9c9c" stroke-width="1.4"/>
<line x1="650.40" y1="8.24" x2="655.40" y2="8.24" stroke="#222" stroke-width="1.1"/>
<text x="645.00" y="14.84" text-anchor="end" font-size="17">6</text>
<line x1="650.40" y1="47.67" x2="655.40" y2="47.67" stroke="#222" stroke-width="1.1"/>
<text x="645.00" y="54.27" text-anchor="end" font-size="17">4</text>
<line x1="650.40" y1="87.09" x2="655.40" y2="87.09" stroke="#222" stroke-width="1.1"/>
<text x="645.00" y="93.69" text-anchor="end" font-size="17">2</text>
<line x1="650.40" y1="126.52" x2="655.40" y2="126.52" stroke="#222" stroke-width="1.1"/>
<text x="645.00" y="133.12" text-anchor="end" font-size="17">0</text>
<line x1="650.40" y1="165.95" x2="655.40" y2="165.95" stroke="#222" stroke-width="1.1"/>
<text x="645.00" y="172.55" text-anchor="end" font-size="17">−2</text>
<line x1="650.40" y1="205.37" x2="655.40" y2="205.37" stroke="#222" stroke-width="1.1"/>
<text x="645.00" y="211.97" text-anchor="end" font-size="17">−4</text>
<line x1="650.40" y1="244.80" x2="655.40" y2="244.80" stroke="#222" stroke-width="1.1"/>
<text x="645.00" y="251.40" text-anchor="end" font-size="17">−6</text>
<clipPath id="clipb"><rect x="655.40" y="8.24" width="293.50" height="236.56"/></clipPath>
<g clip-path="url(#clipb)" fill="none" stroke-linecap="round" stroke-linejoin="round">
<clipPath id="tb0"><rect x="0" y="0" width="1756" height="100"/></clipPath><g clip-path="url(#tb0)">
<path d="M655.5,60.0C656.2,60.8 658.3,62.8 659.8,65.0C661.2,67.2 662.5,73.0 664.0,73.0C665.5,73.0 666.9,67.5 668.5,65.0C670.1,62.5 671.6,58.8 673.5,58.0C675.4,57.2 677.7,59.5 679.8,60.5C681.8,61.5 683.9,63.6 686.0,63.8C688.1,63.9 690.5,62.0 692.2,61.2C694.0,60.5 695.0,58.9 696.5,59.5C698.0,60.1 699.6,62.8 701.0,65.0C702.4,67.2 703.3,70.3 704.8,73.0C706.2,75.7 708.4,79.2 709.8,81.2C711.1,83.3 712.5,84.8 713.0,85.5" stroke="#2a2a2a" stroke-width="1.3"/>
<path d="M668.5,65.0C669.3,63.8 671.6,58.8 673.5,58.0C675.4,57.2 677.7,59.5 679.8,60.5C681.8,61.5 683.9,63.6 686.0,63.8C688.1,63.9 690.5,62.0 692.2,61.2C694.0,60.5 695.8,59.8 696.5,59.5" stroke="#2a2a2a" stroke-width="1.2"/>
<path d="M668.5,65.0C669.3,63.8 671.6,58.8 673.5,58.0C675.4,57.2 677.7,59.5 679.8,60.5C681.8,61.5 683.9,63.6 686.0,63.8C688.1,63.9 690.5,62.0 692.2,61.2C694.0,60.5 695.8,59.8 696.5,59.5" stroke="#6f7f92" stroke-width="2.9" stroke-dasharray="0 4.4"/>
<path d="M699.8,73.0C700.6,70.8 703.1,62.6 704.8,60.0C706.4,57.4 708.4,57.5 709.8,57.5C711.1,57.5 711.5,59.7 713.0,60.0C714.5,60.3 716.4,59.5 718.5,59.5C720.6,59.5 724.5,59.9 725.8,60.0" stroke="#2a2a2a" stroke-width="1.3"/>
<path d="M713.0,60.0C713.9,59.9 716.4,59.5 718.5,59.5C720.6,59.5 724.5,59.9 725.8,60.0" stroke="#6f7f92" stroke-width="2.4"/>
<path d="M655.5,76.2C656.8,76.5 661.3,77.4 663.5,77.5C665.7,77.6 666.8,76.2 668.5,77.0C670.2,77.8 671.8,82.2 673.5,82.5C675.2,82.8 676.8,80.2 678.5,78.8C680.2,77.3 681.4,74.3 683.5,73.8C685.6,73.2 688.1,74.5 691.0,75.5C693.9,76.5 698.1,79.3 701.0,80.0C703.9,80.7 706.5,79.5 708.5,79.5C710.5,79.5 711.5,78.9 713.0,80.0C714.5,81.1 715.7,83.8 717.2,86.2C718.8,88.8 720.8,91.9 722.2,95.0C723.7,98.1 725.4,103.3 726.0,105.0" stroke="#2a2a2a" stroke-width="1.3"/>
<path d="M678.5,78.8C679.3,77.9 681.4,74.3 683.5,73.8C685.6,73.2 688.1,74.5 691.0,75.5C693.9,76.5 698.1,79.3 701.0,80.0C703.9,80.7 706.5,79.5 708.5,79.5C710.5,79.5 712.2,79.9 713.0,80.0" stroke="#2a2a2a" stroke-width="1.2"/>
<path d="M678.5,78.8C679.3,77.9 681.4,74.3 683.5,73.8C685.6,73.2 688.1,74.5 691.0,75.5C693.9,76.5 698.1,79.3 701.0,80.0C703.9,80.7 706.5,79.5 708.5,79.5C710.5,79.5 712.2,79.9 713.0,80.0" stroke="#e69514" stroke-width="2.9" stroke-dasharray="0 4.4"/>
<path d="M655.5,90.0C657.2,89.2 662.6,86.7 666.0,85.5C669.4,84.3 673.1,83.2 676.0,83.0C678.9,82.8 681.0,83.7 683.5,84.5C686.0,85.3 688.5,86.5 691.0,88.0C693.5,89.5 696.3,91.8 698.5,93.8C700.7,95.7 702.3,99.3 704.0,99.5C705.7,99.7 707.1,97.0 708.5,95.0C709.9,93.0 711.6,88.8 712.2,87.5" stroke="#2a2a2a" stroke-width="1.3"/>
<path d="M655.5,90.0C657.2,89.2 662.6,86.7 666.0,85.5C669.4,84.3 673.1,83.2 676.0,83.0C678.9,82.8 681.0,83.7 683.5,84.5C686.0,85.3 688.5,86.5 691.0,88.0C693.5,89.5 696.3,91.8 698.5,93.8C700.7,95.7 703.1,98.5 704.0,99.5" stroke="#2a2a2a" stroke-width="1.2"/>
<path d="M655.5,90.0C657.2,89.2 662.6,86.7 666.0,85.5C669.4,84.3 673.1,83.2 676.0,83.0C678.9,82.8 681.0,83.7 683.5,84.5C686.0,85.3 688.5,86.5 691.0,88.0C693.5,89.5 696.3,91.8 698.5,93.8C700.7,95.7 703.1,98.5 704.0,99.5" stroke="#800080" stroke-width="2.9" stroke-dasharray="0 4.4"/>
<path d="M655.5,78.8C656.4,79.6 659.2,82.1 661.0,83.8C662.8,85.4 663.9,86.7 666.0,88.8C668.1,90.8 671.4,94.3 673.5,96.2C675.6,98.2 677.0,100.2 678.5,100.5C680.0,100.8 680.6,99.3 682.2,98.0C683.9,96.7 686.4,93.8 688.5,92.5C690.6,91.2 692.7,91.7 694.8,90.0C696.8,88.3 699.1,85.2 701.0,82.5C702.9,79.8 704.3,76.7 706.0,73.8C707.7,70.8 709.8,67.1 711.0,65.0C712.2,62.9 712.7,61.9 713.0,61.2" stroke="#2a2a2a" stroke-width="1.3"/>
<path d="M655.5,95.0C656.0,95.8 657.6,98.3 658.5,100.0C659.4,101.7 660.6,104.2 661.0,105.0" stroke="#2a2a2a" stroke-width="1.3"/>
<path d="M713.0,90.0L725.8,90.0" stroke="#0000ff" stroke-width="2.4"/>
<path d="M713.0,103.0L725.8,103.0" stroke="#0000ff" stroke-width="2.4"/>
<path d="M716.5,105.0C717.5,103.3 720.7,97.5 722.2,95.0C723.8,92.5 725.2,90.8 725.8,90.0" stroke="#ff0000" stroke-width="2.6"/>
<path d="M725.8,60.0C726.5,58.5 729.0,50.6 730.5,51.2C732.0,51.9 733.4,60.8 734.8,63.8C736.1,66.7 737.0,67.5 738.5,68.8C740.0,70.0 742.0,71.5 743.5,71.2C745.0,71.0 746.0,69.2 747.2,67.5C748.5,65.8 749.6,64.6 751.0,61.2C752.4,57.9 754.2,50.4 755.5,47.5C756.8,44.6 757.4,44.8 758.5,43.8C759.6,42.7 761.6,41.7 762.2,41.2" stroke="#2a2a2a" stroke-width="1.3"/>
<path d="M762.2,41.2C763.1,41.2 765.8,41.0 767.2,41.0C768.7,41.0 770.0,40.8 771.0,41.5C772.0,42.2 772.7,43.6 773.5,45.0C774.3,46.4 775.2,47.9 776.0,50.0C776.8,52.1 777.7,55.2 778.5,57.5C779.3,59.8 780.2,62.1 781.0,63.8C781.8,65.4 783.1,66.9 783.5,67.5" stroke="#008000" stroke-width="2.6"/>
<path d="M749.8,60.0C750.7,58.0 754.0,50.6 755.5,48.0C757.0,45.4 758.0,45.1 758.5,44.5" stroke="#2a2a2a" stroke-width="1.3"/>
<path d="M726.0,102.5C726.2,99.6 726.6,89.2 727.2,85.0C727.9,80.8 728.9,81.0 729.8,77.5C730.6,74.0 731.4,67.0 732.2,63.8C733.1,60.5 734.3,59.0 734.8,58.0" stroke="#2a2a2a" stroke-width="1.2"/>
<path d="M726.0,102.5C726.2,99.6 726.6,89.2 727.2,85.0C727.9,80.8 728.9,81.0 729.8,77.5C730.6,74.0 731.4,67.0 732.2,63.8C733.1,60.5 734.3,59.0 734.8,58.0" stroke="#0000ff" stroke-width="2.9" stroke-dasharray="0 4.4"/>
<path d="M734.8,61.2C735.4,62.7 737.2,67.3 738.5,70.0C739.8,72.7 740.8,75.1 742.2,77.5C743.7,79.9 745.8,84.9 747.2,84.5C748.7,84.1 749.6,77.8 751.0,75.0C752.4,72.2 754.2,68.8 755.5,67.5C756.8,66.2 757.4,66.6 758.5,67.0C759.6,67.4 761.0,67.8 762.2,70.0C763.5,72.2 764.8,76.7 766.0,80.0C767.2,83.3 768.8,87.7 769.8,90.0C770.7,92.3 770.5,93.3 771.5,93.8C772.5,94.2 774.4,94.0 776.0,92.5C777.6,91.0 779.3,88.3 781.0,85.0C782.7,81.7 784.5,75.6 786.0,72.5C787.5,69.4 788.5,67.1 789.8,66.2C791.0,65.4 792.2,66.2 793.5,67.5C794.8,68.8 796.0,71.7 797.2,73.8C798.5,75.8 800.4,79.0 801.0,80.0" stroke="#2a2a2a" stroke-width="1.3"/>
<path d="M725.8,91.2C727.0,90.3 731.0,87.4 733.5,85.5C736.0,83.6 738.5,82.0 741.0,80.0C743.5,78.0 746.0,75.9 748.5,73.8C751.0,71.6 754.8,68.1 756.0,67.0" stroke="#2a2a2a" stroke-width="1.3"/>
<path d="M776.0,51.2C776.8,52.7 779.3,57.1 781.0,60.0C782.7,62.9 784.3,65.8 786.0,68.8C787.7,71.7 789.3,75.0 791.0,77.5C792.7,80.0 794.3,81.9 796.0,83.8C797.7,85.6 799.3,86.9 801.0,88.8C802.7,90.6 804.3,92.3 806.0,95.0C807.7,97.7 810.2,103.3 811.0,105.0" stroke="#2a2a2a" stroke-width="1.2"/>
<path d="M776.0,51.2C776.8,52.7 779.3,57.1 781.0,60.0C782.7,62.9 784.3,65.8 786.0,68.8C787.7,71.7 789.3,75.0 791.0,77.5C792.7,80.0 794.3,81.9 796.0,83.8C797.7,85.6 799.3,86.9 801.0,88.8C802.7,90.6 804.3,92.3 806.0,95.0C807.7,97.7 810.2,103.3 811.0,105.0" stroke="#0000ff" stroke-width="2.9" stroke-dasharray="0 4.4"/>
<path d="M781.0,57.5C782.0,56.2 785.0,51.3 787.2,50.0C789.5,48.7 792.9,48.9 794.8,49.5C796.6,50.1 797.5,52.0 798.5,53.8C799.5,55.5 800.6,59.0 801.0,60.0" stroke="#2a2a2a" stroke-width="1.3"/>
<path d="M777.2,60.0C778.3,61.7 781.8,67.7 783.5,70.0C785.2,72.3 786.0,73.3 787.2,73.8C788.5,74.2 789.8,73.3 791.0,72.5C792.2,71.7 793.3,70.4 794.8,68.8C796.2,67.1 798.3,64.2 799.8,62.5C801.2,60.8 802.9,59.4 803.5,58.8" stroke="#2a2a2a" stroke-width="1.3"/>
<path d="M786.0,67.5C786.6,67.2 788.5,65.8 789.8,65.8C791.0,65.7 792.9,66.8 793.5,67.0" stroke="#2a2a2a" stroke-width="1.2"/>
<path d="M786.0,67.5C786.6,67.2 788.5,65.8 789.8,65.8C791.0,65.7 792.9,66.8 793.5,67.0" stroke="#e69514" stroke-width="2.9" stroke-dasharray="0 4.4"/>
<path d="M801.0,102.5C801.6,100.8 803.5,95.8 804.8,92.5C806.0,89.2 807.2,85.6 808.5,82.5C809.8,79.4 811.0,76.9 812.2,73.8C813.5,70.6 815.4,65.4 816.0,63.8" stroke="#2a2a2a" stroke-width="1.2"/>
<path d="M801.0,102.5C801.6,100.8 803.5,95.8 804.8,92.5C806.0,89.2 807.2,85.6 808.5,82.5C809.8,79.4 811.0,76.9 812.2,73.8C813.5,70.6 815.4,65.4 816.0,63.8" stroke="#0000ff" stroke-width="2.9" stroke-dasharray="0 4.4"/>
<path d="M816.0,63.8C816.8,63.0 819.3,59.9 821.0,59.2C822.7,58.6 824.3,59.5 826.0,60.0C827.7,60.5 829.1,61.2 831.0,62.0C832.9,62.8 836.2,64.1 837.2,64.5" stroke="#2a2a2a" stroke-width="1.3"/>
<path d="M816.0,63.8C816.8,63.0 819.3,59.9 821.0,59.2C822.7,58.6 824.3,59.5 826.0,60.0C827.7,60.5 829.1,61.2 831.0,62.0C832.9,62.8 836.2,64.1 837.2,64.5" stroke="#6f7f92" stroke-width="2.4"/>
<path d="M801.0,61.2C801.6,62.5 803.5,66.9 804.8,68.8C806.0,70.6 807.2,71.7 808.5,72.5C809.8,73.3 811.6,73.5 812.2,73.8" stroke="#2a2a2a" stroke-width="1.3"/>
<path d="M811.0,72.5C812.7,72.5 817.7,72.5 821.0,72.5C824.3,72.5 828.1,72.9 831.0,72.5C833.9,72.1 836.4,72.3 838.5,70.0C840.6,67.7 841.8,60.2 843.5,58.8C845.2,57.3 846.8,60.0 848.5,61.2C850.2,62.5 851.8,64.2 853.5,66.2C855.2,68.3 857.1,71.2 858.5,73.8C859.9,76.2 861.2,80.0 861.8,81.2" stroke="#2a2a2a" stroke-width="1.3"/>
<path d="M811.0,73.8C813.5,73.5 821.8,72.9 826.0,72.5C830.2,72.1 833.5,71.7 836.0,71.2C838.5,70.8 838.9,70.4 841.0,70.0C843.1,69.6 846.0,69.4 848.5,68.8C851.0,68.1 853.8,66.8 856.0,66.2C858.2,65.7 860.8,65.6 861.8,65.5" stroke="#2a2a2a" stroke-width="1.3"/>
<path d="M836.0,65.0C837.7,64.9 843.1,64.3 846.0,64.5C848.9,64.7 850.9,66.0 853.5,66.2C856.1,66.5 860.4,65.8 861.8,65.8" stroke="#2a2a2a" stroke-width="1.2"/>
<path d="M836.0,65.0C837.7,64.9 843.1,64.3 846.0,64.5C848.9,64.7 850.9,66.0 853.5,66.2C856.1,66.5 860.4,65.8 861.8,65.8" stroke="#e69514" stroke-width="2.9" stroke-dasharray="0 4.4"/>
<path d="M801.0,91.2C802.7,90.8 807.7,89.6 811.0,88.8C814.3,87.9 817.9,87.0 821.0,86.2C824.1,85.5 827.5,84.1 829.8,84.5C832.0,84.9 832.9,87.2 834.8,88.8C836.6,90.3 838.7,92.7 841.0,93.8C843.3,94.8 846.4,95.2 848.5,95.0C850.6,94.8 852.7,92.9 853.5,92.5" stroke="#2a2a2a" stroke-width="1.3"/>
<path d="M801.0,91.2C802.7,90.8 807.7,89.6 811.0,88.8C814.3,87.9 817.9,87.0 821.0,86.2C824.1,85.5 828.3,84.8 829.8,84.5" stroke="#800080" stroke-width="2.8"/>
<path d="M823.5,100.5C824.8,100.3 828.5,100.2 831.0,99.5C833.5,98.8 836.0,97.4 838.5,96.2C841.0,95.1 843.5,94.0 846.0,92.5C848.5,91.0 850.9,89.1 853.5,87.5C856.1,85.9 860.4,83.8 861.8,83.0" stroke="#2a2a2a" stroke-width="1.3"/>
<path d="M823.5,100.5C824.8,100.3 828.5,100.2 831.0,99.5C833.5,98.8 836.0,97.4 838.5,96.2C841.0,95.1 843.5,94.0 846.0,92.5C848.5,91.0 850.9,89.1 853.5,87.5C856.1,85.9 860.4,83.8 861.8,83.0" stroke="#e69514" stroke-width="2.4"/>
<path d="M861.8,65.8C862.5,64.4 864.2,60.2 866.0,57.5C867.8,54.8 870.4,49.5 872.2,49.5C874.1,49.5 875.6,54.9 877.2,57.5C878.9,60.1 880.6,65.0 882.2,65.0C883.9,65.0 885.8,60.1 887.2,57.5C888.7,54.9 889.5,49.1 891.0,49.5C892.5,49.9 894.4,57.4 896.0,60.0C897.6,62.6 899.0,65.8 900.5,65.0C902.0,64.2 903.2,58.1 904.8,55.0C906.3,51.9 908.1,46.9 909.8,46.2C911.4,45.6 912.9,47.3 914.8,51.2C916.6,55.2 918.7,67.1 921.0,70.0C923.3,72.9 926.2,69.4 928.5,68.8C930.8,68.1 932.7,69.8 934.8,66.2C936.8,62.7 939.5,51.5 941.0,47.5C942.5,43.5 942.2,43.0 943.5,42.0C944.8,41.0 948.1,41.4 949.0,41.2" stroke="#2a2a2a" stroke-width="1.3"/>
<path d="M861.8,65.8C862.5,64.4 864.2,60.2 866.0,57.5C867.8,54.8 871.2,50.8 872.2,49.5" stroke="#2a2a2a" stroke-width="1.2"/>
<path d="M861.8,65.8C862.5,64.4 864.2,60.2 866.0,57.5C867.8,54.8 871.2,50.8 872.2,49.5" stroke="#e69514" stroke-width="2.9" stroke-dasharray="0 4.4"/>
<path d="M921.0,70.0C922.2,69.8 926.2,69.4 928.5,68.8C930.8,68.1 933.7,66.7 934.8,66.2" stroke="#2a2a2a" stroke-width="1.2"/>
<path d="M921.0,70.0C922.2,69.8 926.2,69.4 928.5,68.8C930.8,68.1 933.7,66.7 934.8,66.2" stroke="#e69514" stroke-width="2.9" stroke-dasharray="0 4.4"/>
<path d="M942.2,42.0L949.0,41.2" stroke="#008000" stroke-width="2.6"/>
<path d="M861.8,82.5C862.9,81.5 866.1,77.9 868.5,76.2C870.9,74.6 873.9,72.9 876.0,72.5C878.1,72.1 879.3,74.4 881.0,73.8C882.7,73.1 884.3,69.8 886.0,68.8C887.7,67.7 888.9,66.9 891.0,67.5C893.1,68.1 896.4,72.7 898.5,72.5C900.6,72.3 901.6,66.5 903.5,66.2C905.4,66.0 907.7,69.4 909.8,71.2C911.8,73.1 913.7,76.0 916.0,77.5C918.3,79.0 921.0,79.4 923.5,80.0C926.0,80.6 928.5,82.5 931.0,81.2C933.5,80.0 936.4,72.7 938.5,72.5C940.6,72.3 941.8,77.6 943.5,80.0C945.2,82.4 948.1,85.8 949.0,87.0" stroke="#2a2a2a" stroke-width="1.3"/>
<path d="M861.8,82.5C862.9,84.6 866.1,91.2 868.5,95.0C870.9,98.8 874.8,103.3 876.0,105.0" stroke="#2a2a2a" stroke-width="1.3"/>
<path d="M876.0,105.0C877.0,102.3 880.4,88.8 882.2,88.8C884.1,88.8 886.4,102.3 887.2,105.0" stroke="#2a2a2a" stroke-width="1.3"/>
<path d="M894.8,105.0C895.6,102.5 898.1,90.0 899.8,90.0C901.4,90.0 903.9,102.5 904.8,105.0" stroke="#2a2a2a" stroke-width="1.3"/>
<path d="M916.0,105.0C916.8,101.5 919.3,85.8 921.0,83.8C922.7,81.7 924.3,89.0 926.0,92.5C927.7,96.0 930.2,102.9 931.0,105.0" stroke="#2a2a2a" stroke-width="1.3"/>
<path d="M938.5,105.0C939.3,103.3 941.8,97.5 943.5,95.0C945.2,92.5 948.1,90.8 949.0,90.0" stroke="#2a2a2a" stroke-width="1.3"/>
</g>
<clipPath id="tb1"><rect x="0" y="100" width="1756" height="72"/></clipPath><g clip-path="url(#tb1)">
<path d="M655.5,97.5C656.2,98.3 658.2,100.4 659.8,102.5C661.3,104.6 663.1,106.7 664.8,110.0C666.4,113.3 668.1,118.5 669.8,122.5C671.4,126.5 672.9,130.2 674.8,133.8C676.6,137.3 679.3,142.0 681.0,143.8C682.7,145.5 683.3,144.9 684.8,144.5C686.2,144.1 687.9,143.2 689.8,141.2C691.6,139.2 694.1,135.6 696.0,132.5C697.9,129.4 699.3,125.6 701.0,122.5C702.7,119.4 704.3,116.5 706.0,113.8C707.7,111.0 709.8,107.9 711.0,106.2C712.2,104.6 712.7,104.2 713.0,103.8" stroke="#2a2a2a" stroke-width="1.2"/>
<path d="M655.5,97.5C656.2,98.3 658.2,100.4 659.8,102.5C661.3,104.6 663.1,106.7 664.8,110.0C666.4,113.3 668.1,118.5 669.8,122.5C671.4,126.5 672.9,130.2 674.8,133.8C676.6,137.3 679.3,142.0 681.0,143.8C682.7,145.5 683.3,144.9 684.8,144.5C686.2,144.1 687.9,143.2 689.8,141.2C691.6,139.2 694.1,135.6 696.0,132.5C697.9,129.4 699.3,125.6 701.0,122.5C702.7,119.4 704.3,116.5 706.0,113.8C707.7,111.0 709.8,107.9 711.0,106.2C712.2,104.6 712.7,104.2 713.0,103.8" stroke="#0000ff" stroke-width="2.9" stroke-dasharray="0 4.4"/>
<path d="M655.5,115.0C656.4,116.2 658.8,119.8 661.0,122.5C663.2,125.2 666.0,129.2 668.5,131.2C671.0,133.3 673.5,134.6 676.0,135.0C678.5,135.4 681.0,134.2 683.5,133.8C686.0,133.3 688.5,133.1 691.0,132.5C693.5,131.9 696.0,131.7 698.5,130.0C701.0,128.3 703.9,125.0 706.0,122.5C708.1,120.0 709.5,117.3 711.0,115.0C712.5,112.7 713.5,111.2 714.8,108.8C716.0,106.2 717.2,102.3 718.5,100.0C719.8,97.7 721.6,95.8 722.2,95.0" stroke="#2a2a2a" stroke-width="1.3"/>
<path d="M655.5,115.0C656.4,116.2 658.8,119.8 661.0,122.5C663.2,125.2 666.0,129.2 668.5,131.2C671.0,133.3 673.5,134.6 676.0,135.0C678.5,135.4 681.0,134.2 683.5,133.8C686.0,133.3 688.5,133.1 691.0,132.5C693.5,131.9 696.0,131.7 698.5,130.0C701.0,128.3 704.8,123.8 706.0,122.5" stroke="#2a2a2a" stroke-width="1.2"/>
<path d="M655.5,115.0C656.4,116.2 658.8,119.8 661.0,122.5C663.2,125.2 666.0,129.2 668.5,131.2C671.0,133.3 673.5,134.6 676.0,135.0C678.5,135.4 681.0,134.2 683.5,133.8C686.0,133.3 688.5,133.1 691.0,132.5C693.5,131.9 696.0,131.7 698.5,130.0C701.0,128.3 704.8,123.8 706.0,122.5" stroke="#800080" stroke-width="2.9" stroke-dasharray="0 4.4"/>
<path d="M714.8,108.8C715.4,107.3 717.2,102.3 718.5,100.0C719.8,97.7 721.6,95.8 722.2,95.0" stroke="#800080" stroke-width="2.8"/>
<path d="M666.0,105.0C667.7,106.7 672.7,111.7 676.0,115.0C679.3,118.3 682.9,122.5 686.0,125.0C689.1,127.5 691.8,127.3 694.8,130.0C697.7,132.7 701.2,140.8 703.5,141.2C705.8,141.7 707.0,135.4 708.5,132.5C710.0,129.6 711.6,125.2 712.2,123.8" stroke="#2a2a2a" stroke-width="1.3"/>
<path d="M654.0,132.5C654.4,134.2 655.7,139.6 656.5,142.5C657.3,145.4 658.2,147.3 659.0,150.0C659.8,152.7 660.4,154.8 661.2,158.8C662.1,162.7 663.5,170.0 664.2,173.5C665.0,177.0 665.3,178.9 665.5,180.0" stroke="#2a2a2a" stroke-width="1.3"/>
<path d="M666.0,180.0C667.2,177.9 671.2,170.8 673.5,167.5C675.8,164.2 677.7,162.1 679.8,160.5C681.8,158.9 683.9,157.9 686.0,158.0C688.1,158.1 690.4,159.9 692.2,161.2C694.1,162.6 695.4,164.6 697.2,166.2C699.1,167.9 701.2,169.8 703.5,171.2C705.8,172.7 708.7,173.8 711.0,175.0C713.3,176.2 716.2,178.1 717.2,178.8" stroke="#2a2a2a" stroke-width="1.3"/>
<path d="M673.5,167.5C674.5,166.3 677.7,162.1 679.8,160.5C681.8,158.9 683.9,157.9 686.0,158.0C688.1,158.1 690.4,159.9 692.2,161.2C694.1,162.6 695.4,164.6 697.2,166.2C699.1,167.9 701.2,169.8 703.5,171.2C705.8,172.7 708.7,173.8 711.0,175.0C713.3,176.2 716.2,178.1 717.2,178.8" stroke="#2a2a2a" stroke-width="1.2"/>
<path d="M673.5,167.5C674.5,166.3 677.7,162.1 679.8,160.5C681.8,158.9 683.9,157.9 686.0,158.0C688.1,158.1 690.4,159.9 692.2,161.2C694.1,162.6 695.4,164.6 697.2,166.2C699.1,167.9 701.2,169.8 703.5,171.2C705.8,172.7 708.7,173.8 711.0,175.0C713.3,176.2 716.2,178.1 717.2,178.8" stroke="#008000" stroke-width="2.9" stroke-dasharray="0 4.4"/>
<path d="M686.0,180.0C687.2,177.9 691.4,171.2 693.5,167.5C695.6,163.8 696.8,161.2 698.5,157.5C700.2,153.8 701.8,149.2 703.5,145.0C705.2,140.8 706.9,136.2 708.5,132.5C710.1,128.8 712.2,124.2 713.0,122.5" stroke="#2a2a2a" stroke-width="1.3"/>
<path d="M711.0,123.8C711.4,122.9 712.5,121.0 713.5,118.8C714.5,116.5 715.8,113.5 717.2,110.0C718.7,106.5 721.2,100.0 722.2,97.5C723.3,95.0 723.3,95.4 723.5,95.0" stroke="#ff0000" stroke-width="2.6"/>
<path d="M713.0,103.8L725.8,103.8" stroke="#0000ff" stroke-width="2.4"/>
<path d="M713.5,125.0C714.3,126.7 716.8,132.5 718.5,135.0C720.2,137.5 721.6,138.8 723.5,140.0C725.4,141.2 728.1,141.2 729.8,142.5C731.4,143.8 732.2,145.0 733.5,147.5C734.8,150.0 736.0,153.8 737.2,157.5C738.5,161.2 740.0,166.2 741.0,170.0C742.0,173.8 743.1,178.3 743.5,180.0" stroke="#2a2a2a" stroke-width="1.2"/>
<path d="M713.5,125.0C714.3,126.7 716.8,132.5 718.5,135.0C720.2,137.5 721.6,138.8 723.5,140.0C725.4,141.2 728.1,141.2 729.8,142.5C731.4,143.8 732.2,145.0 733.5,147.5C734.8,150.0 736.0,153.8 737.2,157.5C738.5,161.2 740.0,166.2 741.0,170.0C742.0,173.8 743.1,178.3 743.5,180.0" stroke="#0000ff" stroke-width="2.9" stroke-dasharray="0 4.4"/>
<path d="M713.5,125.0C714.3,126.7 716.8,132.5 718.5,135.0C720.2,137.5 721.6,138.8 723.5,140.0C725.4,141.2 728.7,142.1 729.8,142.5" stroke="#ff0000" stroke-width="2.6"/>
<path d="M713.0,105.0C713.5,105.8 714.2,108.5 716.0,110.0C717.8,111.5 721.0,112.5 723.5,113.8C726.0,115.0 728.5,116.0 731.0,117.5C733.5,119.0 736.2,120.4 738.5,122.5C740.8,124.6 742.7,128.3 744.8,130.0C746.8,131.7 750.0,132.1 751.0,132.5" stroke="#2a2a2a" stroke-width="1.3"/>
<path d="M727.2,95.0C727.9,96.7 729.8,101.7 731.0,105.0C732.2,108.3 733.5,112.1 734.8,115.0C736.0,117.9 737.0,120.0 738.5,122.5C740.0,125.0 741.8,128.3 743.5,130.0C745.2,131.7 747.7,132.1 748.5,132.5" stroke="#2a2a2a" stroke-width="1.2"/>
<path d="M727.2,95.0C727.9,96.7 729.8,101.7 731.0,105.0C732.2,108.3 733.5,112.1 734.8,115.0C736.0,117.9 737.0,120.0 738.5,122.5C740.0,125.0 741.8,128.3 743.5,130.0C745.2,131.7 747.7,132.1 748.5,132.5" stroke="#0000ff" stroke-width="2.9" stroke-dasharray="0 4.4"/>
<path d="M737.2,120.0C738.3,119.5 741.6,117.6 743.5,117.0C745.4,116.4 746.8,115.8 748.5,116.2C750.2,116.8 751.8,119.0 753.5,120.0C755.2,121.0 756.4,121.4 758.5,122.0C760.6,122.6 764.0,123.2 766.0,123.8C768.0,124.2 769.8,124.8 770.5,125.0" stroke="#ff0000" stroke-width="2.6"/>
<path d="M736.0,135.0C736.8,134.2 738.9,133.8 741.0,130.0C743.1,126.2 746.4,114.4 748.5,112.5C750.6,110.6 752.0,117.1 753.5,118.8C755.0,120.4 756.6,121.9 757.2,122.5" stroke="#2a2a2a" stroke-width="1.3"/>
<path d="M757.2,124.5C758.1,124.6 760.8,125.1 762.2,125.0C763.7,124.9 765.4,124.0 766.0,123.8" stroke="#3fb2ee" stroke-width="2.4"/>
<path d="M738.5,130.0C739.8,130.4 743.5,132.1 746.0,132.5C748.5,132.9 751.4,133.1 753.5,132.5C755.6,131.9 756.8,130.0 758.5,128.8C760.2,127.5 761.5,125.8 763.5,125.0C765.5,124.2 769.3,124.0 770.5,123.8" stroke="#2a2a2a" stroke-width="1.3"/>
<path d="M770.5,124.5C771.0,122.9 772.4,118.7 773.5,115.0C774.6,111.3 776.0,103.3 777.2,102.5C778.5,101.7 779.5,106.7 781.0,110.0C782.5,113.3 784.8,120.0 786.0,122.5C787.2,125.0 787.2,125.4 788.5,125.0C789.8,124.6 791.8,122.5 793.5,120.0C795.2,117.5 797.2,112.5 798.5,110.0C799.8,107.5 800.6,105.8 801.0,105.0" stroke="#2a2a2a" stroke-width="1.3"/>
<path d="M770.5,124.5C771.4,123.3 774.2,119.7 776.0,117.5C777.8,115.3 779.1,112.7 781.0,111.2C782.9,109.8 785.0,109.2 787.2,108.8C789.5,108.3 792.7,109.4 794.8,108.8C796.8,108.1 798.3,106.7 799.8,105.0C801.2,103.3 802.9,99.8 803.5,98.8" stroke="#ff0000" stroke-width="2.6"/>
<path d="M770.5,124.5C771.4,125.8 774.2,130.1 776.0,132.5C777.8,134.9 779.3,137.3 781.0,138.8C782.7,140.2 784.3,141.5 786.0,141.2C787.7,141.0 789.3,139.4 791.0,137.5C792.7,135.6 794.3,132.1 796.0,130.0C797.7,127.9 800.0,126.0 801.0,125.0C802.0,124.0 802.0,124.0 802.2,123.8" stroke="#2a2a2a" stroke-width="1.3"/>
<path d="M770.5,124.5C771.4,126.7 774.2,133.9 776.0,137.5C777.8,141.1 779.3,144.4 781.0,146.2C782.7,148.1 784.3,149.4 786.0,148.8C787.7,148.1 789.3,145.2 791.0,142.5C792.7,139.8 794.3,135.4 796.0,132.5C797.7,129.6 800.2,126.2 801.0,125.0" stroke="#2a2a2a" stroke-width="1.3"/>
<path d="M781.0,180.0C781.8,177.5 784.5,170.0 786.0,165.0C787.5,160.0 788.5,154.4 789.8,150.0C791.0,145.6 792.2,142.9 793.5,138.8C794.8,134.6 796.0,129.0 797.2,125.0C798.5,121.0 799.7,119.6 801.0,115.0C802.3,110.4 804.5,100.4 805.2,97.5" stroke="#2a2a2a" stroke-width="1.2"/>
<path d="M781.0,180.0C781.8,177.5 784.5,170.0 786.0,165.0C787.5,160.0 788.5,154.4 789.8,150.0C791.0,145.6 792.2,142.9 793.5,138.8C794.8,134.6 796.0,129.0 797.2,125.0C798.5,121.0 799.7,119.6 801.0,115.0C802.3,110.4 804.5,100.4 805.2,97.5" stroke="#0000ff" stroke-width="2.9" stroke-dasharray="0 4.4"/>
<path d="M805.2,97.5C806.0,98.8 808.4,102.1 809.8,105.0C811.1,107.9 812.2,111.7 813.5,115.0C814.8,118.3 815.8,121.7 817.2,125.0C818.7,128.3 820.6,132.3 822.2,135.0C823.9,137.7 825.8,139.6 827.2,141.2C828.7,142.9 829.8,143.8 831.0,145.0C832.2,146.2 833.7,147.1 834.8,148.8C835.8,150.4 836.2,152.3 837.2,155.0C838.3,157.7 839.8,161.7 841.0,165.0C842.2,168.3 843.7,172.5 844.8,175.0C845.8,177.5 846.8,179.2 847.2,180.0" stroke="#2a2a2a" stroke-width="1.2"/>
<path d="M805.2,97.5C806.0,98.8 808.4,102.1 809.8,105.0C811.1,107.9 812.2,111.7 813.5,115.0C814.8,118.3 815.8,121.7 817.2,125.0C818.7,128.3 820.6,132.3 822.2,135.0C823.9,137.7 825.8,139.6 827.2,141.2C828.7,142.9 829.8,143.8 831.0,145.0C832.2,146.2 833.7,147.1 834.8,148.8C835.8,150.4 836.2,152.3 837.2,155.0C838.3,157.7 839.8,161.7 841.0,165.0C842.2,168.3 843.7,172.5 844.8,175.0C845.8,177.5 846.8,179.2 847.2,180.0" stroke="#0000ff" stroke-width="2.9" stroke-dasharray="0 4.4"/>
<path d="M801.0,115.0C801.8,116.2 804.1,120.0 806.0,122.5C807.9,125.0 810.2,127.9 812.2,130.0C814.3,132.1 816.2,134.4 818.5,135.0C820.8,135.6 824.1,134.2 826.0,133.8C827.9,133.3 828.5,132.1 829.8,132.5C831.0,132.9 832.0,134.6 833.5,136.2C835.0,137.9 836.6,140.2 838.5,142.5C840.4,144.8 842.9,147.5 844.8,150.0C846.6,152.5 848.1,154.6 849.8,157.5C851.4,160.4 853.9,165.8 854.8,167.5" stroke="#2a2a2a" stroke-width="1.3"/>
<path d="M801.0,115.0C801.8,116.2 804.1,120.0 806.0,122.5C807.9,125.0 810.2,127.9 812.2,130.0C814.3,132.1 816.2,134.4 818.5,135.0C820.8,135.6 824.1,134.2 826.0,133.8C827.9,133.3 828.5,132.1 829.8,132.5C831.0,132.9 832.0,134.6 833.5,136.2C835.0,137.9 836.6,140.2 838.5,142.5C840.4,144.8 842.9,147.5 844.8,150.0C846.6,152.5 848.1,154.6 849.8,157.5C851.4,160.4 853.9,165.8 854.8,167.5" stroke="#800080" stroke-width="2.8"/>
<path d="M806.0,103.8C806.8,104.8 808.9,108.6 811.0,110.0C813.1,111.4 816.0,111.9 818.5,112.0C821.0,112.1 823.9,110.4 826.0,110.5C828.1,110.6 830.2,112.2 831.0,112.5" stroke="#2a2a2a" stroke-width="1.3"/>
<path d="M821.0,98.8C822.7,98.5 828.1,98.1 831.0,97.5C833.9,96.9 837.2,95.4 838.5,95.0" stroke="#e69514" stroke-width="2.4"/>
<path d="M801.0,141.2C801.8,142.7 804.3,146.5 806.0,150.0C807.7,153.5 809.5,157.9 811.0,162.5C812.5,167.1 813.9,174.6 814.8,177.5C815.6,180.4 815.8,179.6 816.0,180.0" stroke="#2a2a2a" stroke-width="1.3"/>
<path d="M814.8,177.5C815.8,175.8 819.1,170.4 821.0,167.5C822.9,164.6 824.3,161.7 826.0,160.0C827.7,158.3 828.9,158.1 831.0,157.5C833.1,156.9 836.0,156.9 838.5,156.2C841.0,155.6 844.8,154.2 846.0,153.8" stroke="#2a2a2a" stroke-width="1.3"/>
<path d="M821.0,167.5C821.8,166.2 824.3,161.7 826.0,160.0C827.7,158.3 828.9,158.1 831.0,157.5C833.1,156.9 836.0,156.9 838.5,156.2C841.0,155.6 844.8,154.2 846.0,153.8" stroke="#008000" stroke-width="2.6"/>
<path d="M846.0,155.0C846.8,156.2 849.3,160.4 851.0,162.5C852.7,164.6 853.9,166.9 856.0,167.5C858.1,168.1 861.0,167.1 863.5,166.2C866.0,165.4 868.5,164.2 871.0,162.5C873.5,160.8 876.2,159.2 878.5,156.2C880.8,153.3 882.7,150.2 884.8,145.0C886.8,139.8 888.9,131.2 891.0,125.0C893.1,118.8 895.6,111.2 897.2,107.5C898.9,103.8 899.1,101.7 901.0,102.5C902.9,103.3 906.0,111.7 908.5,112.5C911.0,113.3 913.9,109.6 916.0,107.5C918.1,105.4 919.3,102.1 921.0,100.0C922.7,97.9 925.2,95.8 926.0,95.0" stroke="#2a2a2a" stroke-width="1.3"/>
<path d="M863.5,95.0C864.5,96.9 867.7,105.0 869.8,106.2C871.8,107.5 873.7,104.0 876.0,102.5C878.3,101.0 881.0,94.4 883.5,97.5C886.0,100.6 888.9,114.6 891.0,121.2C893.1,127.9 894.3,131.9 896.0,137.5C897.7,143.1 899.3,151.0 901.0,155.0C902.7,159.0 903.9,159.6 906.0,161.2C908.1,162.9 910.6,163.5 913.5,165.0C916.4,166.5 921.0,169.6 923.5,170.0C926.0,170.4 926.4,170.0 928.5,167.5C930.6,165.0 933.5,160.0 936.0,155.0C938.5,150.0 941.3,143.3 943.5,137.5C945.7,131.7 948.1,122.9 949.0,120.0" stroke="#2a2a2a" stroke-width="1.3"/>
<path d="M901.0,180.0C901.8,178.3 903.9,171.9 906.0,170.0C908.1,168.1 911.2,168.3 913.5,168.8C915.8,169.2 917.7,171.0 919.8,172.5C921.8,174.0 925.0,176.7 926.0,177.5" stroke="#2a2a2a" stroke-width="1.3"/>
<path d="M926.0,95.0C927.7,97.5 933.1,106.2 936.0,110.0C938.9,113.8 941.3,115.8 943.5,117.5C945.7,119.2 948.1,119.6 949.0,120.0" stroke="#2a2a2a" stroke-width="1.3"/>
</g>
<clipPath id="tb2"><rect x="0" y="172" width="1756" height="88"/></clipPath><g clip-path="url(#tb2)">
<path d="M658.5,155.0C659.1,156.7 660.8,160.6 662.2,165.0C663.7,169.4 665.5,177.4 667.2,181.5C669.0,185.6 670.8,188.6 673.0,189.8C675.2,190.9 678.3,189.5 680.5,188.2C682.7,187.0 684.5,184.7 686.2,182.5C688.0,180.3 689.3,177.6 690.8,175.0C692.2,172.4 693.8,169.6 695.0,167.0C696.2,164.4 697.5,160.8 698.0,159.5" stroke="#2a2a2a" stroke-width="1.3"/>
<path d="M655.4,198.5C656.4,197.0 659.3,192.5 661.3,189.7C663.3,186.9 665.2,184.8 667.2,181.6C669.2,178.4 671.5,173.4 673.0,170.6C674.5,167.8 675.5,165.9 676.0,165.0" stroke="#2a2a2a" stroke-width="1.3"/>
<path d="M655.4,198.5C656.4,197.0 659.3,192.5 661.3,189.7C663.3,186.9 665.2,184.8 667.2,181.6C669.2,178.4 671.5,173.4 673.0,170.6C674.5,167.8 675.5,165.9 676.0,165.0" stroke="#2a2a2a" stroke-width="1.2"/>
<path d="M655.4,198.5C656.4,197.0 659.3,192.5 661.3,189.7C663.3,186.9 665.2,184.8 667.2,181.6C669.2,178.4 671.5,173.4 673.0,170.6C674.5,167.8 675.5,165.9 676.0,165.0" stroke="#008000" stroke-width="2.9" stroke-dasharray="0 4.4"/>
<path d="M701.0,171.8C702.0,172.4 705.0,174.7 707.0,175.8C709.0,176.8 711.2,177.1 712.8,178.0C714.3,178.9 715.3,179.5 716.5,181.0C717.7,182.5 718.7,184.7 720.0,186.8C721.3,188.8 723.2,192.3 724.5,193.5C725.8,194.7 726.5,194.0 727.5,194.0C728.5,194.0 729.5,194.7 730.5,193.5C731.5,192.3 732.4,188.8 733.5,186.8C734.6,184.8 735.8,181.8 737.0,181.5C738.2,181.2 739.4,184.0 740.8,185.2C742.1,186.5 743.3,187.9 745.0,189.0C746.7,190.1 749.0,191.2 751.0,192.0C753.0,192.8 754.8,192.9 757.0,194.0C759.2,195.1 763.0,197.8 764.2,198.5" stroke="#2a2a2a" stroke-width="1.3"/>
<path d="M701.0,171.8C702.0,172.4 705.0,174.7 707.0,175.8C709.0,176.8 711.2,177.1 712.8,178.0C714.3,178.9 715.3,179.5 716.5,181.0C717.7,182.5 718.7,184.7 720.0,186.8C721.3,188.8 723.2,192.3 724.5,193.5C725.8,194.7 726.5,194.0 727.5,194.0C728.5,194.0 729.5,194.7 730.5,193.5C731.5,192.3 732.4,188.8 733.5,186.8C734.6,184.8 735.8,181.8 737.0,181.5C738.2,181.2 739.4,184.0 740.8,185.2C742.1,186.5 743.3,187.9 745.0,189.0C746.7,190.1 750.0,191.5 751.0,192.0" stroke="#2a2a2a" stroke-width="1.2"/>
<path d="M701.0,171.8C702.0,172.4 705.0,174.7 707.0,175.8C709.0,176.8 711.2,177.1 712.8,178.0C714.3,178.9 715.3,179.5 716.5,181.0C717.7,182.5 718.7,184.7 720.0,186.8C721.3,188.8 723.2,192.3 724.5,193.5C725.8,194.7 726.5,194.0 727.5,194.0C728.5,194.0 729.5,194.7 730.5,193.5C731.5,192.3 732.4,188.8 733.5,186.8C734.6,184.8 735.8,181.8 737.0,181.5C738.2,181.2 739.4,184.0 740.8,185.2C742.1,186.5 743.3,187.9 745.0,189.0C746.7,190.1 750.0,191.5 751.0,192.0" stroke="#008000" stroke-width="2.9" stroke-dasharray="0 4.4"/>
<path d="M655.0,207.8C656.4,207.8 661.3,207.6 663.2,207.8C665.2,207.9 665.1,208.2 666.5,208.8C667.9,209.2 669.6,210.2 671.5,210.8C673.4,211.3 675.7,212.3 677.8,212.0C679.8,211.7 682.0,210.1 684.0,208.8C686.0,207.4 688.0,205.3 690.0,203.8C692.0,202.2 694.5,200.5 696.2,199.5C698.0,198.5 698.8,197.5 700.5,197.5C702.2,197.5 704.6,198.7 706.5,199.5C708.4,200.3 709.7,202.0 711.8,202.2C713.8,202.5 716.8,201.6 719.0,201.2C721.2,200.9 722.6,201.0 725.0,200.2C727.4,199.5 730.8,197.6 733.2,196.5C735.7,195.4 737.1,194.0 739.5,193.5C741.9,193.0 745.0,193.3 747.8,193.5C750.5,193.7 753.6,193.8 756.0,194.5C758.4,195.2 759.8,196.0 762.0,197.5C764.2,199.0 768.0,202.7 769.2,203.8" stroke="#2a2a2a" stroke-width="1.3"/>
<path d="M666.5,208.8C667.3,209.1 669.6,210.2 671.5,210.8C673.4,211.3 675.7,212.3 677.8,212.0C679.8,211.7 682.0,210.1 684.0,208.8C686.0,207.4 688.0,205.3 690.0,203.8C692.0,202.2 694.5,200.5 696.2,199.5C698.0,198.5 698.8,197.5 700.5,197.5C702.2,197.5 705.5,199.2 706.5,199.5" stroke="#2a2a2a" stroke-width="1.2"/>
<path d="M666.5,208.8C667.3,209.1 669.6,210.2 671.5,210.8C673.4,211.3 675.7,212.3 677.8,212.0C679.8,211.7 682.0,210.1 684.0,208.8C686.0,207.4 688.0,205.3 690.0,203.8C692.0,202.2 694.5,200.5 696.2,199.5C698.0,198.5 698.8,197.5 700.5,197.5C702.2,197.5 705.5,199.2 706.5,199.5" stroke="#008000" stroke-width="2.9" stroke-dasharray="0 4.4"/>
<path d="M711.8,202.2C713.0,202.1 716.8,201.6 719.0,201.2C721.2,200.9 722.6,201.0 725.0,200.2C727.4,199.5 730.8,197.6 733.2,196.5C735.7,195.4 737.1,194.0 739.5,193.5C741.9,193.0 745.0,193.3 747.8,193.5C750.5,193.7 753.6,193.8 756.0,194.5C758.4,195.2 761.0,197.0 762.0,197.5" stroke="#e69514" stroke-width="2.4"/>
<path d="M655.0,207.8L663.2,207.8" stroke="#008000" stroke-width="2.6"/>
<path d="M655.0,197.5C656.0,197.0 658.8,194.9 661.0,194.5C663.2,194.1 666.0,194.2 668.5,195.0C671.0,195.8 674.1,198.2 676.0,199.5C677.9,200.8 679.1,202.0 679.8,202.5" stroke="#2a2a2a" stroke-width="1.3"/>
<path d="M679.8,210.8C680.8,210.2 683.9,208.8 686.0,207.8C688.1,206.8 689.8,205.6 692.2,204.8C694.7,203.9 697.4,202.8 700.5,202.5C703.6,202.2 708.0,202.7 710.8,203.0C713.5,203.3 714.4,203.5 716.8,204.2C719.1,205.0 723.6,207.2 725.0,207.8" stroke="#2a2a2a" stroke-width="1.3"/>
<path d="M710.8,203.0C711.8,203.2 714.4,203.5 716.8,204.2C719.1,205.0 723.6,207.2 725.0,207.8" stroke="#008000" stroke-width="2.6"/>
<path d="M655.0,216.0C656.0,216.2 659.2,216.3 661.2,217.0C663.3,217.7 665.4,218.8 667.5,220.0C669.6,221.2 671.7,223.0 673.8,224.2C675.8,225.5 677.9,226.5 679.8,227.2C681.6,228.0 683.3,228.9 685.0,228.8C686.7,228.6 688.1,227.2 690.0,226.2C691.9,225.3 694.2,224.3 696.2,223.2C698.3,222.2 700.5,221.0 702.5,220.0C704.5,219.0 706.8,217.8 708.5,217.0C710.2,216.2 709.8,215.8 712.8,215.5C715.7,215.2 723.8,215.1 726.0,215.0" stroke="#1ec58a" stroke-width="3.0"/>
<path d="M655.0,210.8C656.0,210.8 659.2,211.0 661.2,211.2C663.3,211.5 665.4,211.9 667.5,212.0C669.6,212.1 671.9,212.2 673.8,212.0C675.6,211.8 677.9,211.0 678.8,210.8" stroke="#2a2a2a" stroke-width="1.3"/>
<path d="M663.2,208.8C664.3,210.5 667.4,215.5 669.5,219.0C671.6,222.5 674.0,226.4 675.8,229.5C677.5,232.6 678.8,235.0 679.8,237.5C680.8,240.0 681.4,243.3 681.8,244.5" stroke="#2a2a2a" stroke-width="1.3"/>
<path d="M655.0,224.2C655.7,225.1 657.9,227.5 659.2,229.5C660.6,231.5 661.9,234.0 663.2,236.5C664.6,239.0 666.8,243.2 667.5,244.5" stroke="#2a2a2a" stroke-width="1.3"/>
<path d="M686.0,244.5C686.2,243.8 686.8,240.8 687.2,240.0C687.7,239.2 688.1,239.2 688.5,240.0C688.9,240.8 689.5,243.8 689.8,244.5" stroke="#2a2a2a" stroke-width="1.3"/>
<path d="M679.8,244.5C680.5,243.0 682.5,238.2 684.0,235.5C685.5,232.8 687.3,230.1 689.0,228.2C690.7,226.4 692.3,225.2 694.2,224.2C696.2,223.2 698.5,222.5 700.5,222.2C702.5,222.0 704.5,222.5 706.5,222.8C708.5,223.0 710.3,223.4 712.8,223.5C715.2,223.6 718.2,223.5 721.0,223.2C723.8,223.0 726.5,223.0 729.2,222.2C732.0,221.5 734.8,220.2 737.5,219.0C740.2,217.8 743.0,216.5 745.8,215.0C748.5,213.5 752.1,210.8 754.0,209.8C755.9,208.7 756.5,208.7 757.0,208.5" stroke="#2a2a2a" stroke-width="1.3"/>
<path d="M700.5,222.2C701.5,222.3 704.5,222.5 706.5,222.8C708.5,223.0 710.3,223.4 712.8,223.5C715.2,223.6 718.2,223.5 721.0,223.2C723.8,223.0 726.5,223.0 729.2,222.2C732.0,221.5 734.8,220.2 737.5,219.0C740.2,217.8 743.0,216.5 745.8,215.0C748.5,213.5 752.1,210.8 754.0,209.8C755.9,208.7 756.5,208.7 757.0,208.5" stroke="#6f7f92" stroke-width="1.6"/>
<path d="M757.0,208.0L769.0,208.0" stroke="#0000ff" stroke-width="2.4"/>
<path d="M738.5,165.0C739.3,167.1 741.8,173.3 743.5,177.5C745.2,181.7 746.8,185.8 748.5,190.0C750.2,194.2 752.0,199.6 753.5,202.5C755.0,205.4 756.6,206.7 757.2,207.5" stroke="#2a2a2a" stroke-width="1.2"/>
<path d="M738.5,165.0C739.3,167.1 741.8,173.3 743.5,177.5C745.2,181.7 746.8,185.8 748.5,190.0C750.2,194.2 752.0,199.6 753.5,202.5C755.0,205.4 756.6,206.7 757.2,207.5" stroke="#0000ff" stroke-width="2.9" stroke-dasharray="0 4.4"/>
<path d="M769.8,205.2C770.5,203.7 773.0,199.5 774.5,196.0C776.0,192.5 777.5,187.8 779.0,184.0C780.5,180.2 782.5,175.8 783.8,173.5C785.0,171.2 785.5,171.4 786.2,170.0C787.0,168.6 787.7,165.8 788.0,165.0" stroke="#2a2a2a" stroke-width="1.2"/>
<path d="M769.8,205.2C770.5,203.7 773.0,199.5 774.5,196.0C776.0,192.5 777.5,187.8 779.0,184.0C780.5,180.2 782.5,175.8 783.8,173.5C785.0,171.2 785.5,171.4 786.2,170.0C787.0,168.6 787.7,165.8 788.0,165.0" stroke="#0000ff" stroke-width="2.9" stroke-dasharray="0 4.4"/>
<path d="M716.8,244.5C717.5,242.3 719.6,235.4 721.0,231.5C722.4,227.6 723.6,223.8 725.0,221.2C726.4,218.7 727.5,218.1 729.2,216.0C731.0,213.9 733.2,210.5 735.2,208.8C737.3,207.0 739.8,206.1 741.5,205.8C743.2,205.4 744.4,205.7 745.8,206.8C747.1,207.8 748.4,209.8 749.8,212.0C751.1,214.2 753.0,216.8 754.0,220.0C755.0,223.2 755.3,227.4 756.0,231.5C756.7,235.6 757.7,242.3 758.0,244.5" stroke="#2a2a2a" stroke-width="1.3"/>
<path d="M716.8,244.5C717.5,242.3 719.6,235.4 721.0,231.5C722.4,227.6 723.6,223.8 725.0,221.2C726.4,218.7 728.5,216.9 729.2,216.0" stroke="#3fb2ee" stroke-width="1.6"/>
<path d="M733.2,192.2C734.0,193.0 736.1,194.1 737.5,196.5C738.9,198.9 740.1,202.6 741.5,206.8C742.9,210.9 744.4,216.8 745.8,221.2C747.1,225.7 748.4,229.6 749.8,233.5C751.1,237.4 753.3,242.7 754.0,244.5" stroke="#2a2a2a" stroke-width="1.3"/>
<path d="M756.0,238.8C756.7,237.5 758.3,234.1 760.0,231.5C761.7,228.9 764.5,225.2 766.2,223.2C768.0,221.3 769.6,220.5 770.2,220.0" stroke="#3fb2ee" stroke-width="1.6"/>
<path d="M769.8,211.2C770.5,211.4 772.5,211.3 774.5,212.2C776.5,213.2 779.2,215.6 781.5,217.0C783.8,218.4 786.2,219.5 788.5,220.5C790.8,221.5 793.4,222.3 795.5,223.0C797.6,223.7 800.1,224.2 801.0,224.5" stroke="#2a2a2a" stroke-width="1.3"/>
<path d="M769.8,220.5C770.5,222.3 773.0,227.9 774.5,231.2C776.0,234.6 777.8,238.2 779.0,240.5C780.2,242.8 781.1,244.5 781.5,245.2" stroke="#2a2a2a" stroke-width="1.3"/>
<path d="M774.5,210.0C775.2,208.4 777.5,203.0 779.0,200.5C780.5,198.0 782.2,195.7 783.8,194.8C785.3,193.8 786.9,194.2 788.5,194.8C790.1,195.3 791.5,197.1 793.2,198.2C795.0,199.4 797.7,201.4 799.0,201.8C800.3,202.1 800.7,200.7 801.0,200.5" stroke="#2a2a2a" stroke-width="1.3"/>
<path d="M779.0,200.5C779.8,199.5 782.2,195.7 783.8,194.8C785.3,193.8 786.9,194.2 788.5,194.8C790.1,195.3 791.5,197.1 793.2,198.2C795.0,199.4 798.0,201.2 799.0,201.8" stroke="#e69514" stroke-width="2.4"/>
<path d="M786.2,177.0C787.0,176.8 789.5,176.1 791.0,176.0C792.5,175.9 793.8,176.2 795.5,176.5C797.2,176.8 800.1,177.3 801.0,177.5" stroke="#008000" stroke-width="2.6"/>
<path d="M788.5,174.8C789.3,176.3 791.9,180.9 793.2,184.0C794.6,187.1 795.6,190.5 796.8,193.5C797.9,196.5 799.5,199.8 800.2,201.8C801.0,203.7 800.9,204.5 801.0,205.0" stroke="#2a2a2a" stroke-width="1.3"/>
<path d="M788.5,174.8C789.3,176.3 791.9,180.9 793.2,184.0C794.6,187.1 796.2,191.9 796.8,193.5" stroke="#2a2a2a" stroke-width="1.2"/>
<path d="M788.5,174.8C789.3,176.3 791.9,180.9 793.2,184.0C794.6,187.1 796.2,191.9 796.8,193.5" stroke="#008000" stroke-width="2.9" stroke-dasharray="0 4.4"/>
<path d="M791.0,245.2C791.6,243.3 793.3,237.4 794.5,233.5C795.7,229.6 796.9,224.7 798.0,221.8C799.1,218.8 800.5,216.8 801.0,215.8" stroke="#2a2a2a" stroke-width="1.2"/>
<path d="M791.0,245.2C791.6,243.3 793.3,237.4 794.5,233.5C795.7,229.6 796.9,224.7 798.0,221.8C799.1,218.8 800.5,216.8 801.0,215.8" stroke="#1ec58a" stroke-width="2.9" stroke-dasharray="0 4.4"/>
<path d="M801.0,214.8C802.0,214.9 805.0,215.0 807.2,215.8C809.5,216.5 812.1,218.1 814.5,219.5C816.9,220.9 819.2,222.8 821.5,224.0C823.8,225.2 826.2,226.0 828.5,226.5C830.8,227.0 834.3,227.1 835.5,227.2" stroke="#1ec58a" stroke-width="3.0"/>
<path d="M835.5,227.2C836.7,227.1 840.4,226.6 842.8,226.5C845.1,226.4 847.4,225.9 849.8,226.5C852.1,227.1 854.8,228.2 856.8,230.0C858.7,231.8 859.9,236.4 861.5,237.0C863.1,237.6 864.3,235.2 866.2,233.5C868.2,231.8 870.5,228.1 873.2,226.5C876.0,224.9 881.2,224.4 882.8,224.0" stroke="#2a2a2a" stroke-width="1.3"/>
<path d="M801.0,207.8C801.9,207.7 804.6,207.2 806.2,207.2C807.9,207.2 810.2,207.7 811.0,207.8" stroke="#008000" stroke-width="2.6"/>
<path d="M801.0,207.8C802.5,208.5 807.1,210.7 809.8,212.2C812.4,213.8 814.4,215.4 816.8,217.0C819.1,218.6 821.4,220.4 823.8,221.8C826.1,223.1 829.0,224.5 831.0,225.2C833.0,226.0 833.8,226.1 835.5,226.5C837.2,226.9 840.1,227.3 841.0,227.5" stroke="#2a2a2a" stroke-width="1.3"/>
<path d="M801.0,215.8C802.0,215.6 805.4,214.5 807.2,214.8C809.1,215.0 810.4,215.5 812.0,217.0C813.6,218.5 815.2,221.2 816.8,224.0C818.3,226.8 819.9,230.3 821.5,233.5C823.1,236.7 825.3,241.0 826.2,243.0C827.2,245.0 827.1,244.9 827.2,245.2" stroke="#2a2a2a" stroke-width="1.3"/>
<path d="M801.0,217.0C801.7,218.2 803.5,220.9 805.0,224.0C806.5,227.1 808.6,232.2 809.8,235.8C810.9,239.3 811.6,243.7 812.0,245.2" stroke="#2a2a2a" stroke-width="1.3"/>
<path d="M801.0,194.8C801.9,194.5 804.4,193.9 806.2,193.5C808.1,193.1 809.9,191.9 812.0,192.2C814.1,192.6 816.6,194.0 819.0,195.8C821.4,197.5 823.9,200.8 826.2,203.0C828.6,205.2 830.9,207.6 833.2,208.8C835.6,209.9 837.9,209.6 840.2,210.0C842.6,210.4 844.9,210.1 847.2,211.2C849.6,212.4 852.1,215.8 854.5,217.0C856.9,218.2 859.4,218.0 861.8,218.8C864.1,219.5 866.1,221.5 868.5,221.2C870.9,221.0 873.5,219.0 876.0,217.5C878.5,216.0 881.0,214.1 883.5,212.5C886.0,210.9 888.5,208.0 891.0,208.0C893.5,208.0 896.0,210.7 898.5,212.5C901.0,214.3 903.7,216.9 906.0,218.8C908.3,220.6 909.8,224.0 912.2,223.8C914.8,223.5 917.9,219.2 921.0,217.5C924.1,215.8 927.7,214.8 931.0,213.8C934.3,212.7 938.0,212.1 941.0,211.2C944.0,210.4 947.7,209.2 949.0,208.8" stroke="#2a2a2a" stroke-width="1.3"/>
<path d="M801.0,193.5C802.0,192.7 805.0,190.3 807.2,188.8C809.5,187.2 812.1,185.2 814.5,184.0C816.9,182.8 818.8,182.4 821.5,181.8C824.2,181.1 827.6,180.5 830.8,180.0C833.9,179.5 837.5,179.5 840.2,179.0C843.0,178.5 844.9,178.1 847.2,177.0C849.6,175.9 852.1,172.0 854.5,172.2C856.9,172.5 859.2,178.2 861.5,178.2C863.8,178.2 866.1,172.8 868.5,172.2C870.9,171.7 873.5,172.9 876.0,175.0C878.5,177.1 881.0,181.9 883.5,185.0C886.0,188.1 888.5,194.2 891.0,193.8C893.5,193.3 896.0,186.5 898.5,182.5C901.0,178.5 903.9,172.3 906.0,170.0C908.1,167.7 908.9,167.9 911.0,168.8C913.1,169.6 916.0,172.3 918.5,175.0C921.0,177.7 923.1,181.7 926.0,185.0C928.9,188.3 933.1,192.3 936.0,195.0C938.9,197.7 941.3,199.8 943.5,201.2C945.7,202.7 948.1,203.3 949.0,203.8" stroke="#2a2a2a" stroke-width="1.3"/>
<path d="M814.5,184.0C815.7,183.6 818.8,182.4 821.5,181.8C824.2,181.1 827.6,180.5 830.8,180.0C833.9,179.5 837.5,179.5 840.2,179.0C843.0,178.5 844.9,178.1 847.2,177.0C849.6,175.9 853.3,173.0 854.5,172.2" stroke="#ff0000" stroke-width="1.6"/>
<path d="M807.2,162.5C807.9,163.8 810.0,167.4 811.0,170.0C812.0,172.6 812.3,177.5 813.2,178.2C814.2,179.0 815.4,176.1 816.8,174.8C818.1,173.4 820.4,171.6 821.5,170.0C822.6,168.4 823.2,165.8 823.5,165.0" stroke="#2a2a2a" stroke-width="1.3"/>
<path d="M823.8,245.2C825.0,244.1 829.0,240.2 831.0,238.2C833.0,236.3 834.0,235.1 835.5,233.5C837.0,231.9 838.7,229.7 840.2,228.5C841.8,227.3 844.2,226.8 845.0,226.5" stroke="#2a2a2a" stroke-width="1.3"/>
<path d="M861.8,237.5C863.3,236.9 867.8,233.3 871.0,233.8C874.2,234.2 877.7,239.3 881.0,240.0C884.3,240.7 887.7,237.6 891.0,238.0C894.3,238.4 897.7,242.6 901.0,242.5C904.3,242.4 908.1,239.0 911.0,237.5C913.9,236.0 916.4,233.8 918.5,233.8C920.6,233.8 921.4,237.7 923.5,237.5C925.6,237.3 928.5,234.0 931.0,232.5C933.5,231.0 935.5,230.8 938.5,228.8C941.5,226.8 947.2,221.9 949.0,220.5" stroke="#2a2a2a" stroke-width="1.3"/>
</g>
</g>
<path d="M949.5,38.0C951.2,38.2 954.5,38.6 960.0,39.0C965.5,39.4 976.2,40.1 982.5,40.5C988.8,40.9 998.0,40.9 998.0,41.2C998.0,41.6 988.8,42.1 982.5,42.5C976.2,42.9 964.0,43.2 960.0,43.8C956.0,44.2 957.1,44.9 958.8,45.5C960.4,46.1 966.0,47.0 970.0,47.5C974.0,48.0 982.5,47.9 982.5,48.2C982.5,48.6 973.3,49.0 970.0,49.5C966.7,50.0 964.2,50.5 962.5,51.2C960.8,52.0 959.6,52.9 960.0,53.8C960.4,54.6 961.2,55.5 965.0,56.2C968.8,57.0 973.8,57.4 982.5,58.0C991.2,58.6 1015.4,59.5 1017.5,60.0C1019.6,60.5 999.0,60.6 995.0,61.2C991.0,61.9 992.1,62.9 993.8,63.8C995.4,64.6 1004.8,65.6 1005.0,66.2C1005.2,66.9 995.2,66.9 995.0,67.5C994.8,68.1 1003.8,69.2 1003.8,70.0C1003.8,70.8 994.8,71.8 995.0,72.5C995.2,73.2 1004.8,73.9 1005.0,74.5C1005.2,75.1 997.5,75.3 996.2,76.2C995.0,77.2 996.9,78.8 997.5,80.0C998.1,81.2 1000.0,82.7 1000.0,83.8C1000.0,84.8 994.2,85.4 997.5,86.2C1000.8,87.1 1009.8,88.1 1020.0,88.8C1030.2,89.4 1058.8,89.6 1058.8,90.0C1058.8,90.4 1031.5,90.6 1020.0,91.2C1008.5,91.9 996.9,92.8 990.0,93.8C983.1,94.7 980.4,96.0 978.8,97.0C977.1,98.0 977.3,98.6 980.0,99.5C982.7,100.4 989.8,101.9 995.0,102.5C1000.2,103.1 1011.2,103.0 1011.2,103.2C1011.2,103.5 1000.2,103.9 995.0,104.2C989.8,104.6 982.1,104.8 980.0,105.5C977.9,106.2 981.9,107.6 982.5,108.8C983.1,109.9 984.2,111.5 983.8,112.5C983.3,113.5 980.6,114.6 980.0,115.0C979.4,115.4 979.2,114.7 980.0,115.0C980.8,115.3 985.4,116.4 985.0,117.0C984.6,117.6 979.2,118.3 977.5,118.8C975.8,119.2 970.0,118.9 975.0,119.5C980.0,120.1 995.4,121.7 1007.5,122.5C1019.6,123.3 1047.5,123.8 1047.5,124.2C1047.5,124.8 1019.6,125.0 1007.5,125.5C995.4,126.0 981.2,126.3 975.0,127.0C968.8,127.7 968.8,128.7 970.0,129.5C971.2,130.3 981.7,131.3 982.5,132.0C983.3,132.7 975.8,133.0 975.0,133.8C974.2,134.5 977.9,135.4 977.5,136.2C977.1,137.1 974.2,137.9 972.5,138.8C970.8,139.6 969.2,140.2 967.5,141.2C965.8,142.3 964.2,143.5 962.5,145.0C960.8,146.5 958.5,148.5 957.5,150.0C956.5,151.5 955.8,152.7 956.2,153.8C956.7,154.8 957.9,155.4 960.0,156.2C962.1,157.1 967.9,157.9 968.8,158.8C969.6,159.6 966.0,160.4 965.0,161.2C964.0,162.1 962.5,163.1 962.5,163.8C962.5,164.4 963.8,164.6 965.0,165.0C966.2,165.4 968.3,165.8 970.0,166.2C971.7,166.7 975.8,166.9 975.0,167.5C974.2,168.1 966.2,169.2 965.0,170.0C963.8,170.8 965.0,171.7 967.5,172.5C970.0,173.3 975.4,174.2 980.0,175.0C984.6,175.8 995.0,176.9 995.0,177.5C995.0,178.1 984.2,178.1 980.0,178.8C975.8,179.4 972.7,180.2 970.0,181.2C967.3,182.3 964.2,183.8 963.8,185.0C963.3,186.2 963.5,187.5 967.5,188.8C971.5,190.0 979.6,191.5 987.5,192.5C995.4,193.5 1013.8,193.9 1015.0,194.5C1016.2,195.1 999.6,195.8 995.0,196.2C990.4,196.8 984.2,196.9 987.5,197.5C990.8,198.1 1013.8,199.0 1015.0,200.0C1016.2,201.0 998.3,202.9 995.0,203.8C991.7,204.6 990.8,204.5 995.0,205.0C999.2,205.5 1008.8,206.5 1020.0,207.0C1031.2,207.5 1062.5,207.7 1062.5,208.0C1062.5,208.3 1031.2,208.6 1020.0,209.0C1008.8,209.4 998.8,209.9 995.0,210.5C991.2,211.1 993.3,211.8 997.5,212.5C1001.7,213.2 1020.4,214.2 1020.0,215.0C1019.6,215.8 999.6,216.9 995.0,217.5C990.4,218.1 990.4,218.1 992.5,218.8C994.6,219.4 1002.1,220.4 1007.5,221.2C1012.9,222.1 1025.8,223.1 1025.0,223.8C1024.2,224.4 1008.8,224.6 1002.5,225.0C996.2,225.4 991.7,225.6 987.5,226.2C983.3,226.9 980.2,227.9 977.5,228.8C974.8,229.6 971.2,230.4 971.2,231.2C971.2,232.1 973.5,232.9 977.5,233.8C981.5,234.6 991.7,235.6 995.0,236.2C998.3,236.9 999.6,237.1 997.5,237.5C995.4,237.9 985.8,238.1 982.5,238.8C979.2,239.4 980.4,240.3 977.5,241.2C974.6,242.2 967.1,244.0 965.0,244.5L948.90,244.80L948.90,38.00Z" fill="#b4b4b4" stroke="none"/>
<path d="M948.90,37.50 L949.50,37.50 L960.00,39.00 L980.00,40.50 L960.00,42.50 L952.50,45.00 L949.50,48.75 L948.90,48.75Z" fill="#4a9a4a" stroke="none"/>
<path d="M948.90,58.00 L949.50,58.00 L957.50,59.00 L965.00,60.00 L957.50,61.00 L949.50,62.00 L948.90,62.00Z" fill="#9aa6b4" stroke="none"/>
<path d="M948.90,86.25 L949.50,86.25 L960.00,88.00 L981.25,89.50 L960.00,91.00 L949.50,92.50 L948.90,92.50Z" fill="#6060d0" stroke="none"/>
<path d="M948.90,100.00 L949.50,100.00 L960.00,101.75 L980.00,103.00 L960.00,104.50 L949.50,106.25 L948.90,106.25Z" fill="#6060d0" stroke="none"/>
<path d="M948.90,120.00 L949.50,120.00 L957.50,121.25 L968.75,123.00 L957.50,124.50 L949.50,125.50 L948.90,125.50Z" fill="#e06060" stroke="none"/>
<path d="M948.90,205.50 L949.50,205.50 L960.00,207.00 L973.75,208.00 L960.00,209.00 L949.50,210.50 L948.90,210.50Z" fill="#7070c8" stroke="none"/>
<path d="M948.90,212.00 L949.50,212.00 L960.00,213.50 L971.25,214.50 L960.00,215.50 L949.50,217.00 L948.90,217.00Z" fill="#60c0a0" stroke="none"/>
<path d="M949.5,38.0C951.2,38.2 954.5,38.6 960.0,39.0C965.5,39.4 976.2,40.1 982.5,40.5C988.8,40.9 998.0,40.9 998.0,41.2C998.0,41.6 988.8,42.1 982.5,42.5C976.2,42.9 964.0,43.2 960.0,43.8C956.0,44.2 957.1,44.9 958.8,45.5C960.4,46.1 966.0,47.0 970.0,47.5C974.0,48.0 982.5,47.9 982.5,48.2C982.5,48.6 973.3,49.0 970.0,49.5C966.7,50.0 964.2,50.5 962.5,51.2C960.8,52.0 959.6,52.9 960.0,53.8C960.4,54.6 961.2,55.5 965.0,56.2C968.8,57.0 973.8,57.4 982.5,58.0C991.2,58.6 1015.4,59.5 1017.5,60.0C1019.6,60.5 999.0,60.6 995.0,61.2C991.0,61.9 992.1,62.9 993.8,63.8C995.4,64.6 1004.8,65.6 1005.0,66.2C1005.2,66.9 995.2,66.9 995.0,67.5C994.8,68.1 1003.8,69.2 1003.8,70.0C1003.8,70.8 994.8,71.8 995.0,72.5C995.2,73.2 1004.8,73.9 1005.0,74.5C1005.2,75.1 997.5,75.3 996.2,76.2C995.0,77.2 996.9,78.8 997.5,80.0C998.1,81.2 1000.0,82.7 1000.0,83.8C1000.0,84.8 994.2,85.4 997.5,86.2C1000.8,87.1 1009.8,88.1 1020.0,88.8C1030.2,89.4 1058.8,89.6 1058.8,90.0C1058.8,90.4 1031.5,90.6 1020.0,91.2C1008.5,91.9 996.9,92.8 990.0,93.8C983.1,94.7 980.4,96.0 978.8,97.0C977.1,98.0 977.3,98.6 980.0,99.5C982.7,100.4 989.8,101.9 995.0,102.5C1000.2,103.1 1011.2,103.0 1011.2,103.2C1011.2,103.5 1000.2,103.9 995.0,104.2C989.8,104.6 982.1,104.8 980.0,105.5C977.9,106.2 981.9,107.6 982.5,108.8C983.1,109.9 984.2,111.5 983.8,112.5C983.3,113.5 980.6,114.6 980.0,115.0C979.4,115.4 979.2,114.7 980.0,115.0C980.8,115.3 985.4,116.4 985.0,117.0C984.6,117.6 979.2,118.3 977.5,118.8C975.8,119.2 970.0,118.9 975.0,119.5C980.0,120.1 995.4,121.7 1007.5,122.5C1019.6,123.3 1047.5,123.8 1047.5,124.2C1047.5,124.8 1019.6,125.0 1007.5,125.5C995.4,126.0 981.2,126.3 975.0,127.0C968.8,127.7 968.8,128.7 970.0,129.5C971.2,130.3 981.7,131.3 982.5,132.0C983.3,132.7 975.8,133.0 975.0,133.8C974.2,134.5 977.9,135.4 977.5,136.2C977.1,137.1 974.2,137.9 972.5,138.8C970.8,139.6 969.2,140.2 967.5,141.2C965.8,142.3 964.2,143.5 962.5,145.0C960.8,146.5 958.5,148.5 957.5,150.0C956.5,151.5 955.8,152.7 956.2,153.8C956.7,154.8 957.9,155.4 960.0,156.2C962.1,157.1 967.9,157.9 968.8,158.8C969.6,159.6 966.0,160.4 965.0,161.2C964.0,162.1 962.5,163.1 962.5,163.8C962.5,164.4 963.8,164.6 965.0,165.0C966.2,165.4 968.3,165.8 970.0,166.2C971.7,166.7 975.8,166.9 975.0,167.5C974.2,168.1 966.2,169.2 965.0,170.0C963.8,170.8 965.0,171.7 967.5,172.5C970.0,173.3 975.4,174.2 980.0,175.0C984.6,175.8 995.0,176.9 995.0,177.5C995.0,178.1 984.2,178.1 980.0,178.8C975.8,179.4 972.7,180.2 970.0,181.2C967.3,182.3 964.2,183.8 963.8,185.0C963.3,186.2 963.5,187.5 967.5,188.8C971.5,190.0 979.6,191.5 987.5,192.5C995.4,193.5 1013.8,193.9 1015.0,194.5C1016.2,195.1 999.6,195.8 995.0,196.2C990.4,196.8 984.2,196.9 987.5,197.5C990.8,198.1 1013.8,199.0 1015.0,200.0C1016.2,201.0 998.3,202.9 995.0,203.8C991.7,204.6 990.8,204.5 995.0,205.0C999.2,205.5 1008.8,206.5 1020.0,207.0C1031.2,207.5 1062.5,207.7 1062.5,208.0C1062.5,208.3 1031.2,208.6 1020.0,209.0C1008.8,209.4 998.8,209.9 995.0,210.5C991.2,211.1 993.3,211.8 997.5,212.5C1001.7,213.2 1020.4,214.2 1020.0,215.0C1019.6,215.8 999.6,216.9 995.0,217.5C990.4,218.1 990.4,218.1 992.5,218.8C994.6,219.4 1002.1,220.4 1007.5,221.2C1012.9,222.1 1025.8,223.1 1025.0,223.8C1024.2,224.4 1008.8,224.6 1002.5,225.0C996.2,225.4 991.7,225.6 987.5,226.2C983.3,226.9 980.2,227.9 977.5,228.8C974.8,229.6 971.2,230.4 971.2,231.2C971.2,232.1 973.5,232.9 977.5,233.8C981.5,234.6 991.7,235.6 995.0,236.2C998.3,236.9 999.6,237.1 997.5,237.5C995.4,237.9 985.8,238.1 982.5,238.8C979.2,239.4 980.4,240.3 977.5,241.2C974.6,242.2 967.1,244.0 965.0,244.5" fill="none" stroke="#111" stroke-width="1.5" stroke-linejoin="round"/>
<path d="M949.50,37.50 L960.00,39.00 L980.00,40.50 L960.00,42.50 L952.50,45.00 L949.50,48.75" fill="none" stroke="#008000" stroke-width="1.3" stroke-linejoin="round"/>
<path d="M949.50,58.00 L957.50,59.00 L965.00,60.00 L957.50,61.00 L949.50,62.00" fill="none" stroke="#6f7f92" stroke-width="1.3" stroke-linejoin="round"/>
<path d="M949.50,86.25 L960.00,88.00 L981.25,89.50 L960.00,91.00 L949.50,92.50" fill="none" stroke="#0000ff" stroke-width="1.3" stroke-linejoin="round"/>
<path d="M949.50,100.00 L960.00,101.75 L980.00,103.00 L960.00,104.50 L949.50,106.25" fill="none" stroke="#0000ff" stroke-width="1.3" stroke-linejoin="round"/>
<path d="M949.50,62.50 L955.00,67.50 L952.50,72.50 L956.25,80.00 L952.50,87.50 L955.00,95.00 L951.25,105.00 L953.75,112.50" fill="none" stroke="#e69514" stroke-width="1.3" stroke-linejoin="round"/>
<path d="M949.50,65.00 L953.75,70.00 L951.25,76.25 L955.00,83.75 L952.00,92.50 L956.25,100.00 L951.25,110.00" fill="none" stroke="#ff0000" stroke-width="1.3" stroke-linejoin="round"/>
<path d="M949.50,60.00 L952.00,66.25 L955.00,73.75 L952.50,82.50 L963.75,90.00 L952.50,97.50 L955.00,107.50" fill="none" stroke="#800080" stroke-width="1.3" stroke-linejoin="round"/>
<path d="M949.50,120.00 L957.50,121.25 L968.75,123.00 L957.50,124.50 L949.50,125.50" fill="none" stroke="#ff0000" stroke-width="1.3" stroke-linejoin="round"/>
<path d="M949.50,120.50 L955.00,122.00 L962.50,123.75 L955.00,125.00 L949.50,126.25" fill="none" stroke="#e69514" stroke-width="1.3" stroke-linejoin="round"/>
<path d="M949.50,130.00 L953.75,132.50 L956.25,135.00 L952.50,137.50 L949.50,140.00" fill="none" stroke="#800080" stroke-width="1.3" stroke-linejoin="round"/>
<path d="M949.50,155.00 L952.50,157.50 L950.00,160.00" fill="none" stroke="#008000" stroke-width="1.3" stroke-linejoin="round"/>
<path d="M949.50,175.00 L953.75,177.00 L950.00,179.00" fill="none" stroke="#008000" stroke-width="1.3" stroke-linejoin="round"/>
<path d="M949.50,190.00 L955.00,192.50 L961.25,194.50 L955.00,196.25 L949.50,197.50" fill="none" stroke="#e69514" stroke-width="1.3" stroke-linejoin="round"/>
<path d="M949.50,197.50 L955.00,200.00 L963.75,202.50 L955.00,203.75 L949.50,205.00" fill="none" stroke="#008000" stroke-width="1.3" stroke-linejoin="round"/>
<path d="M949.50,205.50 L960.00,207.00 L973.75,208.00 L960.00,209.00 L949.50,210.50" fill="none" stroke="#0000ff" stroke-width="1.3" stroke-linejoin="round"/>
<path d="M949.50,212.00 L960.00,213.50 L971.25,214.50 L960.00,215.50 L949.50,217.00" fill="none" stroke="#1ec58a" stroke-width="1.3" stroke-linejoin="round"/>
<path d="M949.50,221.25 L955.00,222.50 L962.50,223.75 L955.00,225.00 L949.50,226.25" fill="none" stroke="#ff0000" stroke-width="1.3" stroke-linejoin="round"/>
<path d="M949.50,165.00 L951.25,190.00 L950.00,215.00 L951.25,244.50" fill="none" stroke="#3fb2ee" stroke-width="1.3" stroke-linejoin="round"/>
<rect x="655.40" y="8.24" width="419.10" height="236.56" fill="none" stroke="#222" stroke-width="1.4"/>
<line x1="948.90" y1="8.24" x2="948.90" y2="244.80" stroke="#222" stroke-width="1.4"/>
<text x="655.30" y="262.50" text-anchor="middle" font-size="16.5" font-style="italic">G</text>
<text x="712.50" y="264.50" text-anchor="middle" font-size="16.5" font-style="italic">Y</text>
<text x="726.40" y="263.80" text-anchor="middle" font-size="16.5" font-style="italic">G</text>
<text x="755.50" y="263.50" text-anchor="middle" font-size="16.5" font-style="italic">Z</text>
<text x="770.80" y="263.20" text-anchor="middle" font-size="16.5" font-style="italic">T</text>
<text x="800.50" y="262.90" text-anchor="middle" font-size="16.5" font-style="italic">Y</text>
<text x="831.10" y="263.30" text-anchor="middle" font-size="16.5" font-style="italic">G</text>
<text x="861.70" y="262.00" text-anchor="middle" font-size="16.5" font-style="italic">R</text>
<text x="891.50" y="262.00" text-anchor="middle" font-size="16.5" font-style="italic">Z</text>
<text x="950.10" y="262.00" text-anchor="middle" font-size="16.5" font-style="italic">T</text>
<text x="1019.30" y="262.60" text-anchor="middle" font-size="16.8">5</text>
<text x="803.05" y="286.00" text-anchor="middle" font-size="17">Wave Vector</text>
<text x="1011.60" y="283.80" text-anchor="middle" font-size="16.6">Density of States</text>
<text transform="translate(610.90,126.52) rotate(-90)" text-anchor="middle" font-size="16.3" ><tspan font-style="italic">E</tspan> − <tspan font-style="italic">E</tspan><tspan font-size="11" dy="3.5" font-style="italic">F</tspan><tspan dy="-3.5"> (eV)</tspan></text>
<circle cx="1093.30" cy="20.10" r="3.3" fill="#ff0000"/>
<text x="1109.50" y="24.90" font-size="13.8"><tspan font-style="italic">Ta</tspan>(<tspan font-style="italic">d</tspan><tspan font-size="9.6" dy="3.2" font-style="italic">xy</tspan><tspan dy="-3.2">)</tspan></text>
<circle cx="1093.30" cy="43.00" r="3.3" fill="#0000ff"/>
<text x="1109.50" y="47.80" font-size="13.8"><tspan font-style="italic">Ta</tspan>(<tspan font-style="italic">d</tspan><tspan font-size="9.6" dy="3.2" font-style="italic">yz</tspan><tspan dy="-3.2">)</tspan></text>
<circle cx="1093.30" cy="67.00" r="3.3" fill="#008000"/>
<text x="1109.50" y="71.80" font-size="13.8"><tspan font-style="italic">Ta</tspan>(<tspan font-style="italic">d</tspan><tspan font-size="9.6" dy="3.2" font-style="italic">z</tspan><tspan font-size="6.8" dy="-4.5">2</tspan><tspan dy="1.3">)</tspan></text>
<circle cx="1093.30" cy="87.40" r="3.3" fill="#800080"/>
<text x="1109.50" y="92.20" font-size="13.8"><tspan font-style="italic">Ta</tspan>(<tspan font-style="italic">d</tspan><tspan font-size="9.6" dy="3.2" font-style="italic">xz</tspan><tspan dy="-3.2">)</tspan></text>
<circle cx="1093.30" cy="108.10" r="3.3" fill="#e69514"/>
<text x="1109.50" y="112.90" font-size="13.8"><tspan font-style="italic">Ta</tspan>(<tspan font-style="italic">d</tspan><tspan font-size="9.6" dy="3.2" font-style="italic">x</tspan><tspan font-size="6.8" dy="-4.5">2</tspan><tspan font-size="9.6" dy="4.5"> − </tspan><tspan font-size="9.6" font-style="italic">y</tspan><tspan font-size="6.8" dy="-4.5">2</tspan><tspan dy="1.3">)</tspan></text>
<circle cx="1093.30" cy="131.40" r="3.3" fill="#f0587a"/>
<text x="1109.50" y="136.20" font-size="13.8"><tspan font-style="italic">Al</tspan>(<tspan font-style="italic">s</tspan>)</text>
<circle cx="1093.30" cy="151.80" r="3.3" fill="#6f7f92"/>
<text x="1109.50" y="156.60" font-size="13.8"><tspan font-style="italic">B</tspan>(<tspan font-style="italic">p</tspan><tspan font-size="9.6" dy="3.2" font-style="italic">y</tspan><tspan dy="-3.2">)</tspan></text>
<circle cx="1093.30" cy="175.70" r="3.3" fill="#1ec58a"/>
<text x="1109.50" y="180.50" font-size="13.8"><tspan font-style="italic">B</tspan>(<tspan font-style="italic">p</tspan><tspan font-size="9.6" dy="3.2" font-style="italic">x</tspan><tspan dy="-3.2">)</tspan></text>
<circle cx="1093.30" cy="197.10" r="3.3" fill="#3fb2ee"/>
<text x="1109.50" y="201.90" font-size="13.8"><tspan font-style="italic">B</tspan>(<tspan font-style="italic">p</tspan><tspan font-size="9.6" dy="3.2" font-style="italic">z</tspan><tspan dy="-3.2">)</tspan></text>
<text x="878.60" y="330" text-anchor="middle" style="font-family:'Liberation Sans',Arial,sans-serif;font-size:38px">(b)</text>
<line x1="1307.90" y1="8.94" x2="1307.90" y2="246.00" stroke="#9c9c9c" stroke-width="1.4"/>
<line x1="1314.40" y1="8.94" x2="1314.40" y2="246.00" stroke="#9c9c9c" stroke-width="1.4"/>
<line x1="1321.15" y1="8.94" x2="1321.15" y2="246.00" stroke="#9c9c9c" stroke-width="1.4"/>
<line x1="1351.90" y1="8.94" x2="1351.90" y2="246.00" stroke="#9c9c9c" stroke-width="1.4"/>
<line x1="1358.65" y1="8.94" x2="1358.65" y2="246.00" stroke="#9c9c9c" stroke-width="1.4"/>
<line x1="1365.15" y1="8.94" x2="1365.15" y2="246.00" stroke="#9c9c9c" stroke-width="1.4"/>
<line x1="1395.40" y1="8.94" x2="1395.40" y2="246.00" stroke="#9c9c9c" stroke-width="1.4"/>
<line x1="1425.65" y1="8.94" x2="1425.65" y2="246.00" stroke="#9c9c9c" stroke-width="1.4"/>
<line x1="1456.15" y1="8.94" x2="1456.15" y2="246.00" stroke="#9c9c9c" stroke-width="1.4"/>
<line x1="1486.40" y1="8.94" x2="1486.40" y2="246.00" stroke="#9c9c9c" stroke-width="1.4"/>
<line x1="1244.40" y1="8.94" x2="1249.40" y2="8.94" stroke="#222" stroke-width="1.1"/>
<text x="1239.00" y="15.54" text-anchor="end" font-size="17">6</text>
<line x1="1244.40" y1="48.45" x2="1249.40" y2="48.45" stroke="#222" stroke-width="1.1"/>
<text x="1239.00" y="55.05" text-anchor="end" font-size="17">4</text>
<line x1="1244.40" y1="87.96" x2="1249.40" y2="87.96" stroke="#222" stroke-width="1.1"/>
<text x="1239.00" y="94.56" text-anchor="end" font-size="17">2</text>
<line x1="1244.40" y1="127.47" x2="1249.40" y2="127.47" stroke="#222" stroke-width="1.1"/>
<text x="1239.00" y="134.07" text-anchor="end" font-size="17">0</text>
<line x1="1244.40" y1="166.98" x2="1249.40" y2="166.98" stroke="#222" stroke-width="1.1"/>
<text x="1239.00" y="173.58" text-anchor="end" font-size="17">−2</text>
<line x1="1244.40" y1="206.49" x2="1249.40" y2="206.49" stroke="#222" stroke-width="1.1"/>
<text x="1239.00" y="213.09" text-anchor="end" font-size="17">−4</text>
<line x1="1244.40" y1="246.00" x2="1249.40" y2="246.00" stroke="#222" stroke-width="1.1"/>
<text x="1239.00" y="252.60" text-anchor="end" font-size="17">−6</text>
<clipPath id="clipc"><rect x="1249.40" y="8.94" width="295.60" height="237.06"/></clipPath>
<g clip-path="url(#clipc)" fill="none" stroke-linecap="round" stroke-linejoin="round">
<clipPath id="tc0"><rect x="0" y="0" width="1756" height="107"/></clipPath><g clip-path="url(#tc0)">
<path d="M1249.5,87.5C1250.5,86.2 1254.0,79.8 1255.5,80.0C1257.0,80.2 1257.7,88.8 1258.8,88.8C1259.8,88.8 1260.8,79.8 1262.0,80.0C1263.2,80.2 1264.7,87.9 1266.2,90.0C1267.8,92.1 1269.6,92.5 1271.2,92.5C1272.9,92.5 1274.4,89.8 1276.2,90.0C1278.1,90.2 1280.6,94.2 1282.5,93.8C1284.4,93.3 1285.8,90.4 1287.5,87.5C1289.2,84.6 1291.5,77.7 1293.0,76.2C1294.5,74.8 1295.3,76.9 1296.2,78.8C1297.2,80.6 1297.5,86.7 1298.8,87.5C1300.0,88.3 1302.2,85.1 1303.8,83.8C1305.3,82.4 1306.5,79.3 1308.0,79.5C1309.5,79.7 1311.1,83.5 1312.5,85.0C1313.9,86.5 1314.8,88.5 1316.2,88.8C1317.7,89.0 1319.4,87.1 1321.2,86.2C1323.1,85.4 1325.2,84.4 1327.5,83.8C1329.8,83.1 1332.5,82.8 1335.0,82.5C1337.5,82.2 1340.4,82.2 1342.5,82.0C1344.6,81.8 1345.8,81.2 1347.5,81.2C1349.2,81.3 1350.8,81.9 1352.5,82.5C1354.2,83.1 1355.4,84.2 1357.5,85.0C1359.6,85.8 1363.1,86.2 1365.0,87.5C1366.9,88.8 1367.5,90.2 1368.8,92.5C1370.0,94.8 1371.2,101.7 1372.5,101.2C1373.8,100.8 1375.0,91.7 1376.2,90.0C1377.5,88.3 1379.4,91.0 1380.0,91.2" stroke="#2a2a2a" stroke-width="1.3"/>
<path d="M1249.5,87.5C1250.5,86.2 1254.0,79.8 1255.5,80.0C1257.0,80.2 1257.7,88.8 1258.8,88.8C1259.8,88.8 1260.8,79.8 1262.0,80.0C1263.2,80.2 1264.7,87.9 1266.2,90.0C1267.8,92.1 1269.6,92.5 1271.2,92.5C1272.9,92.5 1274.4,89.8 1276.2,90.0C1278.1,90.2 1280.6,94.2 1282.5,93.8C1284.4,93.3 1286.7,88.5 1287.5,87.5" stroke="#2a2a2a" stroke-width="1.2"/>
<path d="M1249.5,87.5C1250.5,86.2 1254.0,79.8 1255.5,80.0C1257.0,80.2 1257.7,88.8 1258.8,88.8C1259.8,88.8 1260.8,79.8 1262.0,80.0C1263.2,80.2 1264.7,87.9 1266.2,90.0C1267.8,92.1 1269.6,92.5 1271.2,92.5C1272.9,92.5 1274.4,89.8 1276.2,90.0C1278.1,90.2 1280.6,94.2 1282.5,93.8C1284.4,93.3 1286.7,88.5 1287.5,87.5" stroke="#e69514" stroke-width="2.9" stroke-dasharray="0 4.4"/>
<path d="M1303.8,83.8C1304.5,83.0 1306.5,79.3 1308.0,79.5C1309.5,79.7 1311.1,83.5 1312.5,85.0C1313.9,86.5 1315.6,88.1 1316.2,88.8" stroke="#e69514" stroke-width="2.4"/>
<path d="M1321.2,86.2C1322.3,85.8 1325.2,84.4 1327.5,83.8C1329.8,83.1 1332.5,82.8 1335.0,82.5C1337.5,82.2 1340.4,82.2 1342.5,82.0C1344.6,81.8 1345.8,81.2 1347.5,81.2C1349.2,81.3 1350.8,81.9 1352.5,82.5C1354.2,83.1 1355.4,84.2 1357.5,85.0C1359.6,85.8 1363.8,87.1 1365.0,87.5" stroke="#008000" stroke-width="2.6"/>
<path d="M1249.5,92.5C1250.4,93.1 1253.5,96.2 1255.0,96.2C1256.5,96.2 1257.3,92.3 1258.8,92.5C1260.2,92.7 1261.9,96.0 1263.8,97.5C1265.6,99.0 1267.9,100.8 1270.0,101.2C1272.1,101.7 1274.2,100.4 1276.2,100.0C1278.3,99.6 1280.4,98.1 1282.5,98.8C1284.6,99.4 1286.7,103.5 1288.8,103.8C1290.8,104.0 1293.1,101.2 1295.0,100.0C1296.9,98.8 1298.3,96.2 1300.0,96.2C1301.7,96.2 1303.8,97.7 1305.0,100.0C1306.2,102.3 1307.1,108.3 1307.5,110.0" stroke="#2a2a2a" stroke-width="1.3"/>
<path d="M1249.5,110.0C1250.8,109.4 1254.9,107.3 1257.5,106.2C1260.1,105.2 1262.5,104.2 1265.0,103.8C1267.5,103.3 1270.0,103.3 1272.5,103.8C1275.0,104.2 1277.5,105.0 1280.0,106.2C1282.5,107.5 1285.0,109.6 1287.5,111.2C1290.0,112.9 1292.9,115.0 1295.0,116.2C1297.1,117.5 1298.3,119.2 1300.0,118.8C1301.7,118.3 1303.5,114.8 1305.0,113.8C1306.5,112.7 1308.1,112.7 1308.8,112.5" stroke="#2a2a2a" stroke-width="1.3"/>
<path d="M1249.5,110.0C1250.8,109.4 1254.9,107.3 1257.5,106.2C1260.1,105.2 1262.5,104.2 1265.0,103.8C1267.5,103.3 1270.0,103.3 1272.5,103.8C1275.0,104.2 1277.5,105.0 1280.0,106.2C1282.5,107.5 1285.0,109.6 1287.5,111.2C1290.0,112.9 1292.9,115.0 1295.0,116.2C1297.1,117.5 1299.2,118.3 1300.0,118.8" stroke="#2a2a2a" stroke-width="1.2"/>
<path d="M1249.5,110.0C1250.8,109.4 1254.9,107.3 1257.5,106.2C1260.1,105.2 1262.5,104.2 1265.0,103.8C1267.5,103.3 1270.0,103.3 1272.5,103.8C1275.0,104.2 1277.5,105.0 1280.0,106.2C1282.5,107.5 1285.0,109.6 1287.5,111.2C1290.0,112.9 1292.9,115.0 1295.0,116.2C1297.1,117.5 1299.2,118.3 1300.0,118.8" stroke="#800080" stroke-width="2.9" stroke-dasharray="0 4.4"/>
<path d="M1249.5,111.2C1250.8,111.5 1254.9,112.6 1257.5,112.5C1260.1,112.4 1262.5,111.1 1265.0,110.5C1267.5,109.9 1270.4,108.8 1272.5,108.8C1274.6,108.7 1275.8,109.0 1277.5,110.0C1279.2,111.0 1280.4,112.5 1282.5,115.0C1284.6,117.5 1287.9,122.5 1290.0,125.0C1292.1,127.5 1293.5,128.3 1295.0,130.0C1296.5,131.7 1298.1,134.2 1298.8,135.0" stroke="#2a2a2a" stroke-width="1.3"/>
<path d="M1249.5,113.8C1250.0,114.4 1251.4,115.2 1252.5,117.5C1253.6,119.8 1255.2,124.6 1256.2,127.5C1257.3,130.4 1258.3,133.8 1258.8,135.0" stroke="#2a2a2a" stroke-width="1.2"/>
<path d="M1249.5,113.8C1250.0,114.4 1251.4,115.2 1252.5,117.5C1253.6,119.8 1255.2,124.6 1256.2,127.5C1257.3,130.4 1258.3,133.8 1258.8,135.0" stroke="#0000ff" stroke-width="2.9" stroke-dasharray="0 4.4"/>
<path d="M1249.5,122.5C1250.4,124.2 1253.9,130.4 1255.0,132.5C1256.1,134.6 1256.0,134.6 1256.2,135.0" stroke="#2a2a2a" stroke-width="1.3"/>
<path d="M1307.0,111.2L1321.2,111.2" stroke="#0000ff" stroke-width="2.4"/>
<path d="M1307.0,125.0L1325.0,126.2" stroke="#0000ff" stroke-width="2.4"/>
<path d="M1305.0,135.0C1305.8,132.1 1308.3,122.9 1310.0,117.5C1311.7,112.1 1313.3,106.5 1315.0,102.5C1316.7,98.5 1318.5,95.6 1320.0,93.8C1321.5,91.9 1323.1,91.7 1323.8,91.2" stroke="#ff0000" stroke-width="2.6"/>
<path d="M1320.0,92.5C1320.8,90.4 1323.4,84.0 1325.0,80.0C1326.6,76.0 1328.0,69.8 1329.5,68.8C1331.0,67.7 1332.6,72.3 1333.8,73.8C1334.9,75.2 1335.2,75.6 1336.2,77.5C1337.3,79.4 1338.5,82.1 1340.0,85.0C1341.5,87.9 1343.8,94.2 1345.0,95.0C1346.2,95.8 1347.1,90.8 1347.5,90.0" stroke="#2a2a2a" stroke-width="1.3"/>
<path d="M1308.8,112.5C1309.8,112.2 1313.1,110.9 1315.0,110.5C1316.9,110.1 1318.5,109.7 1320.0,110.0C1321.5,110.3 1322.5,110.8 1323.8,112.5C1325.0,114.2 1326.2,117.1 1327.5,120.0C1328.8,122.9 1330.2,127.5 1331.2,130.0C1332.3,132.5 1333.3,134.2 1333.8,135.0" stroke="#800080" stroke-width="2.8"/>
<path d="M1340.0,117.5C1340.8,116.2 1343.8,110.2 1345.0,110.0C1346.2,109.8 1346.2,114.2 1347.5,116.2C1348.8,118.3 1351.7,121.5 1352.5,122.5" stroke="#2a2a2a" stroke-width="1.3"/>
<path d="M1352.5,123.8C1353.3,124.2 1355.5,125.4 1357.5,126.2C1359.5,127.1 1363.3,128.3 1364.5,128.8" stroke="#3fb2ee" stroke-width="2.4"/>
<path d="M1330.0,130.0C1331.2,129.6 1335.0,127.7 1337.5,127.5C1340.0,127.3 1342.5,128.1 1345.0,128.8C1347.5,129.4 1350.0,130.4 1352.5,131.2C1355.0,132.1 1358.8,133.3 1360.0,133.8" stroke="#ff0000" stroke-width="2.6"/>
<path d="M1370.0,125.0C1371.2,124.4 1375.0,121.9 1377.5,121.2C1380.0,120.6 1382.5,120.6 1385.0,121.2C1387.5,121.9 1391.2,124.4 1392.5,125.0" stroke="#ff0000" stroke-width="2.6"/>
<path d="M1367.5,91.2C1368.3,90.6 1371.2,87.9 1372.5,87.5C1373.8,87.1 1373.5,90.0 1375.0,88.8C1376.5,87.5 1379.2,82.1 1381.2,80.0C1383.3,77.9 1385.2,76.2 1387.5,76.2C1389.8,76.2 1393.8,79.4 1395.0,80.0" stroke="#2a2a2a" stroke-width="1.3"/>
<path d="M1380.0,80.0C1381.2,79.4 1385.0,76.2 1387.5,76.2C1390.0,76.2 1393.8,79.4 1395.0,80.0" stroke="#e69514" stroke-width="2.4"/>
<path d="M1365.0,122.5C1366.2,120.4 1370.0,109.6 1372.5,110.0C1375.0,110.4 1378.3,120.8 1380.0,125.0C1381.7,129.2 1382.1,133.3 1382.5,135.0" stroke="#2a2a2a" stroke-width="1.3"/>
<path d="M1383.8,81.2C1384.4,83.1 1386.2,88.5 1387.5,92.5C1388.8,96.5 1390.0,102.1 1391.2,105.0C1392.5,107.9 1394.4,109.2 1395.0,110.0" stroke="#2a2a2a" stroke-width="1.2"/>
<path d="M1383.8,81.2C1384.4,83.1 1386.2,88.5 1387.5,92.5C1388.8,96.5 1390.0,102.1 1391.2,105.0C1392.5,107.9 1394.4,109.2 1395.0,110.0" stroke="#0000ff" stroke-width="2.9" stroke-dasharray="0 4.4"/>
<path d="M1385.0,83.8C1385.8,86.0 1388.3,93.1 1390.0,97.5C1391.7,101.9 1394.2,107.9 1395.0,110.0" stroke="#2a2a2a" stroke-width="1.3"/>
<path d="M1395.0,110.0C1395.4,110.8 1396.5,112.9 1397.5,115.0C1398.5,117.1 1400.0,119.6 1401.2,122.5C1402.5,125.4 1404.4,130.8 1405.0,132.5" stroke="#2a2a2a" stroke-width="1.2"/>
<path d="M1395.0,110.0C1395.4,110.8 1396.5,112.9 1397.5,115.0C1398.5,117.1 1400.0,119.6 1401.2,122.5C1402.5,125.4 1404.4,130.8 1405.0,132.5" stroke="#0000ff" stroke-width="2.9" stroke-dasharray="0 4.4"/>
<path d="M1395.0,110.0C1396.7,109.8 1401.7,109.2 1405.0,108.8C1408.3,108.2 1411.7,107.6 1415.0,107.0C1418.3,106.4 1422.5,105.4 1425.0,105.0C1427.5,104.6 1429.2,104.6 1430.0,104.5" stroke="#800080" stroke-width="2.8"/>
<path d="M1395.8,85.0C1396.5,84.4 1398.5,80.8 1400.0,81.2C1401.5,81.7 1403.5,87.5 1405.0,87.5C1406.5,87.5 1407.5,80.8 1408.8,81.2C1410.0,81.7 1411.0,87.1 1412.5,90.0C1414.0,92.9 1415.8,98.5 1417.5,98.8C1419.2,99.0 1421.0,93.8 1422.5,91.2C1424.0,88.8 1424.6,85.2 1426.2,83.8C1427.9,82.3 1430.2,83.1 1432.5,82.5C1434.8,81.9 1437.5,80.2 1440.0,80.0C1442.5,79.8 1445.0,80.8 1447.5,81.2C1450.0,81.7 1452.9,82.9 1455.0,82.5C1457.1,82.1 1458.3,79.5 1460.0,78.8C1461.7,78.0 1462.5,77.6 1465.0,78.0C1467.5,78.4 1471.7,80.5 1475.0,81.2C1478.3,82.0 1482.1,82.5 1485.0,82.5C1487.9,82.5 1490.0,82.1 1492.5,81.2C1495.0,80.4 1497.5,77.9 1500.0,77.5C1502.5,77.1 1505.0,78.1 1507.5,78.8C1510.0,79.4 1512.5,81.4 1515.0,81.2C1517.5,81.1 1520.0,78.2 1522.5,78.0C1525.0,77.8 1527.5,79.2 1530.0,80.0C1532.5,80.8 1535.4,81.2 1537.5,82.5C1539.6,83.8 1541.2,86.2 1542.5,87.5C1543.8,88.8 1544.6,89.6 1545.0,90.0" stroke="#2a2a2a" stroke-width="1.3"/>
<path d="M1426.2,83.8C1427.3,83.5 1430.2,83.1 1432.5,82.5C1434.8,81.9 1437.5,80.2 1440.0,80.0C1442.5,79.8 1445.0,80.8 1447.5,81.2C1450.0,81.7 1453.8,82.3 1455.0,82.5" stroke="#e69514" stroke-width="2.4"/>
<path d="M1460.0,78.8C1461.7,79.0 1466.7,79.4 1470.0,80.0C1473.3,80.6 1477.1,82.0 1480.0,82.5C1482.9,83.0 1485.0,83.2 1487.5,83.0C1490.0,82.8 1492.5,82.1 1495.0,81.2C1497.5,80.4 1500.0,78.2 1502.5,78.0C1505.0,77.8 1507.9,79.5 1510.0,80.0C1512.1,80.5 1514.2,81.0 1515.0,81.2" stroke="#008000" stroke-width="2.6"/>
<path d="M1395.8,92.5C1396.5,93.8 1398.5,98.1 1400.0,100.0C1401.5,101.9 1403.3,101.2 1405.0,103.8C1406.7,106.2 1408.3,112.8 1410.0,115.0C1411.7,117.2 1413.3,117.4 1415.0,117.0C1416.7,116.6 1418.3,114.1 1420.0,112.5C1421.7,110.9 1423.3,109.2 1425.0,107.5C1426.7,105.8 1428.3,104.2 1430.0,102.5C1431.7,100.8 1433.3,99.0 1435.0,97.5C1436.7,96.0 1437.9,95.0 1440.0,93.8C1442.1,92.5 1445.4,91.5 1447.5,90.0C1449.6,88.5 1451.0,85.4 1452.5,85.0C1454.0,84.6 1455.6,87.1 1456.2,87.5" stroke="#2a2a2a" stroke-width="1.3"/>
<path d="M1425.0,104.5C1426.2,103.8 1430.0,101.6 1432.5,100.0C1435.0,98.4 1437.5,96.7 1440.0,95.0C1442.5,93.3 1445.4,91.7 1447.5,90.0C1449.6,88.3 1451.7,85.8 1452.5,85.0" stroke="#e69514" stroke-width="2.4"/>
<path d="M1456.2,87.5C1456.9,88.8 1458.3,91.9 1460.0,95.0C1461.7,98.1 1464.4,105.4 1466.2,106.2C1468.1,107.1 1469.6,102.3 1471.2,100.0C1472.9,97.7 1474.6,91.7 1476.2,92.5C1477.9,93.3 1479.6,100.0 1481.2,105.0C1482.9,110.0 1484.6,122.5 1486.2,122.5C1487.9,122.5 1489.6,110.0 1491.2,105.0C1492.9,100.0 1494.6,92.9 1496.2,92.5C1497.9,92.1 1499.6,99.6 1501.2,102.5C1502.9,105.4 1504.6,110.0 1506.2,110.0C1507.9,110.0 1509.6,106.2 1511.2,102.5C1512.9,98.8 1514.8,90.4 1516.2,87.5C1517.7,84.6 1518.5,84.8 1520.0,85.0C1521.5,85.2 1523.1,86.9 1525.0,88.8C1526.9,90.6 1529.2,92.7 1531.2,96.2C1533.3,99.8 1535.2,105.2 1537.5,110.0C1539.8,114.8 1543.8,122.5 1545.0,125.0" stroke="#2a2a2a" stroke-width="1.3"/>
<path d="M1435.0,97.5C1435.6,96.5 1437.1,91.9 1438.8,91.2C1440.4,90.6 1443.1,92.7 1445.0,93.8C1446.9,94.8 1448.1,98.5 1450.0,97.5C1451.9,96.5 1455.2,89.2 1456.2,87.5" stroke="#2a2a2a" stroke-width="1.3"/>
<path d="M1425.0,110.0C1425.8,109.7 1428.3,108.8 1430.0,108.0C1431.7,107.2 1434.2,105.5 1435.0,105.0" stroke="#2a2a2a" stroke-width="1.3"/>
</g>
<clipPath id="tc1"><rect x="0" y="107" width="1756" height="78"/></clipPath><g clip-path="url(#tc1)">
<path d="M1249.5,111.2C1250.8,110.5 1254.9,108.1 1257.5,107.0C1260.1,105.9 1262.5,105.0 1265.0,104.5C1267.5,104.0 1270.0,103.7 1272.5,104.0C1275.0,104.3 1277.5,105.0 1280.0,106.2C1282.5,107.5 1285.0,109.4 1287.5,111.2C1290.0,113.1 1293.1,116.0 1295.0,117.5C1296.9,119.0 1297.3,120.2 1298.8,120.0C1300.2,119.8 1302.3,117.5 1303.8,116.2C1305.2,115.0 1306.9,113.1 1307.5,112.5" stroke="#2a2a2a" stroke-width="1.3"/>
<path d="M1249.5,111.2C1250.8,110.5 1254.9,108.1 1257.5,107.0C1260.1,105.9 1262.5,105.0 1265.0,104.5C1267.5,104.0 1270.0,103.7 1272.5,104.0C1275.0,104.3 1277.5,105.0 1280.0,106.2C1282.5,107.5 1285.0,109.4 1287.5,111.2C1290.0,113.1 1293.1,116.0 1295.0,117.5C1296.9,119.0 1298.1,119.6 1298.8,120.0" stroke="#2a2a2a" stroke-width="1.2"/>
<path d="M1249.5,111.2C1250.8,110.5 1254.9,108.1 1257.5,107.0C1260.1,105.9 1262.5,105.0 1265.0,104.5C1267.5,104.0 1270.0,103.7 1272.5,104.0C1275.0,104.3 1277.5,105.0 1280.0,106.2C1282.5,107.5 1285.0,109.4 1287.5,111.2C1290.0,113.1 1293.1,116.0 1295.0,117.5C1296.9,119.0 1298.1,119.6 1298.8,120.0" stroke="#800080" stroke-width="2.9" stroke-dasharray="0 4.4"/>
<path d="M1249.5,111.2C1250.8,111.5 1254.9,113.0 1257.5,113.0C1260.1,113.0 1262.5,112.0 1265.0,111.2C1267.5,110.5 1270.2,108.6 1272.5,108.8C1274.8,108.9 1276.9,110.5 1278.8,112.0C1280.6,113.5 1282.0,115.4 1283.8,118.0C1285.5,120.6 1287.7,124.7 1289.5,127.5C1291.3,130.3 1293.1,132.9 1294.5,135.0C1295.9,137.1 1296.9,138.3 1298.0,140.0C1299.1,141.7 1300.7,144.2 1301.2,145.0" stroke="#2a2a2a" stroke-width="1.3"/>
<path d="M1249.5,111.2C1250.8,111.5 1254.9,113.0 1257.5,113.0C1260.1,113.0 1262.5,112.0 1265.0,111.2C1267.5,110.5 1270.2,108.6 1272.5,108.8C1274.8,108.9 1276.9,110.5 1278.8,112.0C1280.6,113.5 1282.0,115.4 1283.8,118.0C1285.5,120.6 1288.5,125.9 1289.5,127.5" stroke="#2a2a2a" stroke-width="1.2"/>
<path d="M1249.5,111.2C1250.8,111.5 1254.9,113.0 1257.5,113.0C1260.1,113.0 1262.5,112.0 1265.0,111.2C1267.5,110.5 1270.2,108.6 1272.5,108.8C1274.8,108.9 1276.9,110.5 1278.8,112.0C1280.6,113.5 1282.0,115.4 1283.8,118.0C1285.5,120.6 1288.5,125.9 1289.5,127.5" stroke="#e69514" stroke-width="2.9" stroke-dasharray="0 4.4"/>
<path d="M1251.2,108.8C1251.9,111.2 1253.5,119.0 1255.0,123.8C1256.5,128.5 1258.5,133.5 1260.0,137.5C1261.5,141.5 1262.5,144.2 1263.8,147.5C1265.0,150.8 1266.0,154.5 1267.5,157.5C1269.0,160.5 1270.8,163.8 1272.5,165.5C1274.2,167.2 1275.8,167.8 1277.5,168.0C1279.2,168.2 1280.8,168.1 1282.5,167.0C1284.2,165.9 1285.8,163.7 1287.5,161.2C1289.2,158.8 1290.8,155.6 1292.5,152.5C1294.2,149.4 1295.8,146.2 1297.5,142.5C1299.2,138.8 1300.9,132.9 1302.5,130.0C1304.1,127.1 1306.2,125.8 1307.0,125.0" stroke="#2a2a2a" stroke-width="1.2"/>
<path d="M1251.2,108.8C1251.9,111.2 1253.5,119.0 1255.0,123.8C1256.5,128.5 1258.5,133.5 1260.0,137.5C1261.5,141.5 1262.5,144.2 1263.8,147.5C1265.0,150.8 1266.0,154.5 1267.5,157.5C1269.0,160.5 1270.8,163.8 1272.5,165.5C1274.2,167.2 1275.8,167.8 1277.5,168.0C1279.2,168.2 1280.8,168.1 1282.5,167.0C1284.2,165.9 1285.8,163.7 1287.5,161.2C1289.2,158.8 1290.8,155.6 1292.5,152.5C1294.2,149.4 1295.8,146.2 1297.5,142.5C1299.2,138.8 1300.9,132.9 1302.5,130.0C1304.1,127.1 1306.2,125.8 1307.0,125.0" stroke="#0000ff" stroke-width="2.9" stroke-dasharray="0 4.4"/>
<path d="M1249.5,130.0C1250.4,131.9 1252.8,137.5 1255.0,141.2C1257.2,145.0 1260.0,150.0 1262.5,152.5C1265.0,155.0 1267.5,156.0 1270.0,156.2C1272.5,156.5 1275.0,154.2 1277.5,153.8C1280.0,153.3 1282.5,153.8 1285.0,153.8C1287.5,153.8 1290.4,154.4 1292.5,153.8C1294.6,153.1 1295.8,152.7 1297.5,150.0C1299.2,147.3 1300.9,141.5 1302.5,137.5C1304.1,133.5 1306.2,128.1 1307.0,126.2" stroke="#2a2a2a" stroke-width="1.3"/>
<path d="M1260.0,151.2C1261.2,152.1 1265.0,155.7 1267.5,156.2C1270.0,156.8 1272.5,154.9 1275.0,154.5C1277.5,154.1 1280.0,153.9 1282.5,153.8C1285.0,153.6 1287.5,154.4 1290.0,153.8C1292.5,153.1 1296.2,150.6 1297.5,150.0" stroke="#2a2a2a" stroke-width="1.2"/>
<path d="M1260.0,151.2C1261.2,152.1 1265.0,155.7 1267.5,156.2C1270.0,156.8 1272.5,154.9 1275.0,154.5C1277.5,154.1 1280.0,153.9 1282.5,153.8C1285.0,153.6 1287.5,154.4 1290.0,153.8C1292.5,153.1 1296.2,150.6 1297.5,150.0" stroke="#800080" stroke-width="2.9" stroke-dasharray="0 4.4"/>
<path d="M1249.5,132.5C1250.2,135.0 1252.2,142.1 1253.8,147.5C1255.3,152.9 1257.3,159.2 1258.8,165.0C1260.2,170.8 1261.7,179.0 1262.5,182.5C1263.3,186.0 1263.5,185.6 1263.8,186.2" stroke="#2a2a2a" stroke-width="1.3"/>
<path d="M1260.0,186.2C1261.2,184.4 1265.0,178.0 1267.5,175.0C1270.0,172.0 1272.5,169.0 1275.0,168.0C1277.5,167.0 1280.0,168.0 1282.5,168.8C1285.0,169.5 1287.5,171.0 1290.0,172.5C1292.5,174.0 1295.0,176.0 1297.5,177.5C1300.0,179.0 1302.5,180.2 1305.0,181.2C1307.5,182.3 1310.4,182.9 1312.5,183.8C1314.6,184.6 1316.7,185.8 1317.5,186.2" stroke="#2a2a2a" stroke-width="1.3"/>
<path d="M1275.0,168.0C1276.2,168.1 1280.0,168.0 1282.5,168.8C1285.0,169.5 1287.5,171.0 1290.0,172.5C1292.5,174.0 1295.0,176.0 1297.5,177.5C1300.0,179.0 1302.5,180.2 1305.0,181.2C1307.5,182.3 1311.2,183.3 1312.5,183.8" stroke="#2a2a2a" stroke-width="1.2"/>
<path d="M1275.0,168.0C1276.2,168.1 1280.0,168.0 1282.5,168.8C1285.0,169.5 1287.5,171.0 1290.0,172.5C1292.5,174.0 1295.0,176.0 1297.5,177.5C1300.0,179.0 1302.5,180.2 1305.0,181.2C1307.5,182.3 1311.2,183.3 1312.5,183.8" stroke="#008000" stroke-width="2.9" stroke-dasharray="0 4.4"/>
<path d="M1282.5,186.2C1283.8,184.4 1287.5,179.0 1290.0,175.0C1292.5,171.0 1295.0,167.9 1297.5,162.5C1300.0,157.1 1303.3,147.7 1305.0,142.5C1306.7,137.3 1307.1,133.1 1307.5,131.2" stroke="#2a2a2a" stroke-width="1.3"/>
<path d="M1307.5,130.0C1308.3,131.0 1310.8,134.0 1312.5,136.2C1314.2,138.5 1315.8,142.1 1317.5,143.8C1319.2,145.4 1321.7,145.8 1322.5,146.2" stroke="#2a2a2a" stroke-width="1.3"/>
<path d="M1307.5,130.0C1308.3,131.0 1310.8,134.0 1312.5,136.2C1314.2,138.5 1315.8,142.1 1317.5,143.8C1319.2,145.4 1321.7,145.8 1322.5,146.2" stroke="#ff0000" stroke-width="2.6"/>
<path d="M1322.5,146.2C1323.1,147.5 1325.0,151.0 1326.2,153.8C1327.5,156.5 1328.5,159.0 1330.0,162.5C1331.5,166.0 1333.7,171.0 1335.0,175.0C1336.3,179.0 1337.5,184.4 1338.0,186.2" stroke="#2a2a2a" stroke-width="1.2"/>
<path d="M1322.5,146.2C1323.1,147.5 1325.0,151.0 1326.2,153.8C1327.5,156.5 1328.5,159.0 1330.0,162.5C1331.5,166.0 1333.7,171.0 1335.0,175.0C1336.3,179.0 1337.5,184.4 1338.0,186.2" stroke="#0000ff" stroke-width="2.9" stroke-dasharray="0 4.4"/>
<path d="M1308.2,125.0L1322.5,125.0" stroke="#0000ff" stroke-width="2.4"/>
<path d="M1308.2,112.0L1320.0,112.0" stroke="#0000ff" stroke-width="2.4"/>
<path d="M1317.5,111.2C1318.3,111.5 1320.8,111.0 1322.5,112.5C1324.2,114.0 1325.8,117.5 1327.5,120.0C1329.2,122.5 1330.8,125.4 1332.5,127.5C1334.2,129.6 1336.0,131.2 1337.5,132.5C1339.0,133.8 1340.0,134.8 1341.2,135.0C1342.5,135.2 1344.4,134.0 1345.0,133.8" stroke="#2a2a2a" stroke-width="1.3"/>
<path d="M1317.5,111.2C1318.3,111.5 1320.8,111.0 1322.5,112.5C1324.2,114.0 1325.8,117.5 1327.5,120.0C1329.2,122.5 1330.8,125.4 1332.5,127.5C1334.2,129.6 1336.7,131.7 1337.5,132.5" stroke="#800080" stroke-width="2.8"/>
<path d="M1327.5,131.2C1329.0,130.7 1334.0,128.6 1336.2,128.0C1338.5,127.4 1339.4,127.0 1341.2,127.5C1343.1,128.0 1345.6,130.2 1347.5,131.2C1349.4,132.3 1350.4,132.9 1352.5,133.8C1354.6,134.6 1357.9,135.6 1360.0,136.2C1362.1,136.9 1364.2,137.3 1365.0,137.5" stroke="#2a2a2a" stroke-width="1.3"/>
<path d="M1330.0,130.0C1331.0,129.7 1334.4,128.4 1336.2,128.0C1338.1,127.6 1339.4,127.0 1341.2,127.5C1343.1,128.0 1345.6,130.2 1347.5,131.2C1349.4,132.3 1350.4,132.9 1352.5,133.8C1354.6,134.6 1357.9,135.6 1360.0,136.2C1362.1,136.9 1364.2,137.3 1365.0,137.5" stroke="#ff0000" stroke-width="2.6"/>
<path d="M1337.5,140.0C1338.1,138.8 1340.0,135.8 1341.2,132.5C1342.5,129.2 1344.0,122.7 1345.0,120.0C1346.0,117.3 1346.7,116.2 1347.5,116.2C1348.3,116.2 1349.2,118.5 1350.0,120.0C1350.8,121.5 1352.1,124.2 1352.5,125.0" stroke="#2a2a2a" stroke-width="1.3"/>
<path d="M1341.2,132.5C1341.9,130.4 1344.0,122.7 1345.0,120.0C1346.0,117.3 1346.7,116.2 1347.5,116.2C1348.3,116.2 1349.6,119.4 1350.0,120.0" stroke="#2a2a2a" stroke-width="1.2"/>
<path d="M1341.2,132.5C1341.9,130.4 1344.0,122.7 1345.0,120.0C1346.0,117.3 1346.7,116.2 1347.5,116.2C1348.3,116.2 1349.6,119.4 1350.0,120.0" stroke="#008000" stroke-width="2.9" stroke-dasharray="0 4.4"/>
<path d="M1352.5,125.0C1353.5,125.2 1356.8,125.6 1358.8,126.2C1360.8,126.9 1363.5,128.3 1364.5,128.8" stroke="#3fb2ee" stroke-width="2.4"/>
<path d="M1322.5,127.5C1323.3,128.5 1325.8,132.0 1327.5,133.8C1329.2,135.5 1330.6,136.6 1332.5,138.0C1334.4,139.4 1336.9,141.7 1338.8,142.0C1340.6,142.3 1342.3,141.2 1343.8,140.0C1345.2,138.8 1346.2,136.9 1347.5,135.0C1348.8,133.1 1350.6,129.8 1351.2,128.8" stroke="#2a2a2a" stroke-width="1.3"/>
<path d="M1364.5,128.8C1365.2,127.3 1367.4,122.9 1368.8,120.0C1370.1,117.1 1371.2,111.2 1372.5,111.2C1373.8,111.2 1374.8,116.9 1376.2,120.0C1377.7,123.1 1379.8,127.9 1381.2,130.0C1382.7,132.1 1383.5,133.3 1385.0,132.5C1386.5,131.7 1388.3,127.5 1390.0,125.0C1391.7,122.5 1394.2,118.8 1395.0,117.5" stroke="#2a2a2a" stroke-width="1.3"/>
<path d="M1364.5,128.8C1365.2,127.3 1367.4,122.9 1368.8,120.0C1370.1,117.1 1371.2,111.2 1372.5,111.2C1373.8,111.2 1374.8,116.9 1376.2,120.0C1377.7,123.1 1380.4,128.3 1381.2,130.0" stroke="#2a2a2a" stroke-width="1.2"/>
<path d="M1364.5,128.8C1365.2,127.3 1367.4,122.9 1368.8,120.0C1370.1,117.1 1371.2,111.2 1372.5,111.2C1373.8,111.2 1374.8,116.9 1376.2,120.0C1377.7,123.1 1380.4,128.3 1381.2,130.0" stroke="#008000" stroke-width="2.9" stroke-dasharray="0 4.4"/>
<path d="M1367.5,135.0C1368.3,133.8 1370.8,129.4 1372.5,127.5C1374.2,125.6 1375.8,124.7 1377.5,123.8C1379.2,122.8 1380.8,122.2 1382.5,122.0C1384.2,121.8 1385.8,122.0 1387.5,122.5C1389.2,123.0 1391.2,124.2 1392.5,125.0C1393.8,125.8 1394.6,127.1 1395.0,127.5" stroke="#2a2a2a" stroke-width="1.3"/>
<path d="M1367.5,135.0C1368.3,133.8 1370.8,129.4 1372.5,127.5C1374.2,125.6 1375.8,124.7 1377.5,123.8C1379.2,122.8 1380.8,122.2 1382.5,122.0C1384.2,121.8 1385.8,122.0 1387.5,122.5C1389.2,123.0 1391.2,124.2 1392.5,125.0C1393.8,125.8 1394.6,127.1 1395.0,127.5" stroke="#ff0000" stroke-width="2.6"/>
<path d="M1365.0,137.5C1365.8,138.3 1368.3,141.0 1370.0,142.5C1371.7,144.0 1373.3,145.2 1375.0,146.2C1376.7,147.3 1378.3,148.5 1380.0,148.8C1381.7,149.0 1383.3,148.5 1385.0,147.5C1386.7,146.5 1388.3,145.0 1390.0,142.5C1391.7,140.0 1394.2,134.2 1395.0,132.5" stroke="#2a2a2a" stroke-width="1.3"/>
<path d="M1365.0,140.0C1365.8,141.0 1368.3,144.4 1370.0,146.2C1371.7,148.1 1373.3,150.1 1375.0,151.2C1376.7,152.4 1378.3,153.2 1380.0,153.0C1381.7,152.8 1383.3,152.0 1385.0,150.0C1386.7,148.0 1388.3,144.6 1390.0,141.2C1391.7,137.9 1394.2,131.9 1395.0,130.0" stroke="#2a2a2a" stroke-width="1.3"/>
<path d="M1377.5,186.2C1378.3,183.5 1380.8,175.6 1382.5,170.0C1384.2,164.4 1385.8,158.8 1387.5,152.5C1389.2,146.2 1391.2,137.9 1392.5,132.5C1393.8,127.1 1394.2,123.3 1395.0,120.0C1395.8,116.7 1397.1,113.8 1397.5,112.5" stroke="#2a2a2a" stroke-width="1.2"/>
<path d="M1377.5,186.2C1378.3,183.5 1380.8,175.6 1382.5,170.0C1384.2,164.4 1385.8,158.8 1387.5,152.5C1389.2,146.2 1391.2,137.9 1392.5,132.5C1393.8,127.1 1394.2,123.3 1395.0,120.0C1395.8,116.7 1397.1,113.8 1397.5,112.5" stroke="#0000ff" stroke-width="2.9" stroke-dasharray="0 4.4"/>
<path d="M1385.0,186.2C1385.8,182.3 1388.3,170.6 1390.0,162.5C1391.7,154.4 1394.2,141.7 1395.0,137.5" stroke="#2a2a2a" stroke-width="1.3"/>
<path d="M1395.0,111.2C1396.7,111.0 1401.7,110.2 1405.0,109.5C1408.3,108.8 1411.7,107.7 1415.0,107.0C1418.3,106.3 1422.1,105.9 1425.0,105.5C1427.9,105.1 1430.0,105.2 1432.5,104.5C1435.0,103.8 1437.9,102.2 1440.0,101.2C1442.1,100.3 1444.2,99.2 1445.0,98.8" stroke="#2a2a2a" stroke-width="1.3"/>
<path d="M1395.0,111.2C1396.7,111.0 1401.7,110.2 1405.0,109.5C1408.3,108.8 1411.7,107.7 1415.0,107.0C1418.3,106.3 1422.1,105.9 1425.0,105.5C1427.9,105.1 1431.2,104.7 1432.5,104.5" stroke="#800080" stroke-width="2.8"/>
<path d="M1400.0,110.0C1401.2,111.0 1405.0,114.9 1407.5,116.2C1410.0,117.6 1412.9,118.4 1415.0,118.0C1417.1,117.6 1418.3,115.3 1420.0,113.8C1421.7,112.2 1423.3,110.2 1425.0,108.8C1426.7,107.3 1429.2,105.6 1430.0,105.0" stroke="#2a2a2a" stroke-width="1.3"/>
<path d="M1400.0,110.0C1401.2,111.0 1405.0,114.9 1407.5,116.2C1410.0,117.6 1412.9,118.4 1415.0,118.0C1417.1,117.6 1418.3,115.3 1420.0,113.8C1421.7,112.2 1424.2,109.6 1425.0,108.8" stroke="#2a2a2a" stroke-width="1.2"/>
<path d="M1400.0,110.0C1401.2,111.0 1405.0,114.9 1407.5,116.2C1410.0,117.6 1412.9,118.4 1415.0,118.0C1417.1,117.6 1418.3,115.3 1420.0,113.8C1421.7,112.2 1424.2,109.6 1425.0,108.8" stroke="#e69514" stroke-width="2.9" stroke-dasharray="0 4.4"/>
<path d="M1397.5,112.5C1398.3,114.6 1400.8,120.8 1402.5,125.0C1404.2,129.2 1405.8,133.3 1407.5,137.5C1409.2,141.7 1410.8,146.2 1412.5,150.0C1414.2,153.8 1415.8,157.3 1417.5,160.0C1419.2,162.7 1420.8,164.6 1422.5,166.2C1424.2,167.9 1425.8,169.0 1427.5,170.0C1429.2,171.0 1430.8,171.2 1432.5,172.5C1434.2,173.8 1435.8,175.8 1437.5,177.5C1439.2,179.2 1441.7,181.7 1442.5,182.5" stroke="#2a2a2a" stroke-width="1.2"/>
<path d="M1397.5,112.5C1398.3,114.6 1400.8,120.8 1402.5,125.0C1404.2,129.2 1405.8,133.3 1407.5,137.5C1409.2,141.7 1410.8,146.2 1412.5,150.0C1414.2,153.8 1415.8,157.3 1417.5,160.0C1419.2,162.7 1420.8,164.6 1422.5,166.2C1424.2,167.9 1425.8,169.0 1427.5,170.0C1429.2,171.0 1430.8,171.2 1432.5,172.5C1434.2,173.8 1435.8,175.8 1437.5,177.5C1439.2,179.2 1441.7,181.7 1442.5,182.5" stroke="#0000ff" stroke-width="2.9" stroke-dasharray="0 4.4"/>
<path d="M1395.0,145.0C1395.8,146.7 1398.3,151.2 1400.0,155.0C1401.7,158.8 1403.3,163.1 1405.0,167.5C1406.7,171.9 1408.8,178.1 1410.0,181.2C1411.2,184.4 1412.1,185.4 1412.5,186.2" stroke="#2a2a2a" stroke-width="1.3"/>
<path d="M1395.0,125.0C1395.8,126.7 1398.3,131.9 1400.0,135.0C1401.7,138.1 1403.3,140.6 1405.0,143.8C1406.7,146.9 1408.3,151.7 1410.0,153.8C1411.7,155.8 1412.5,156.1 1415.0,156.2C1417.5,156.4 1421.7,154.2 1425.0,154.5C1428.3,154.8 1432.1,156.9 1435.0,158.0C1437.9,159.1 1440.8,160.5 1442.5,161.2C1444.2,162.0 1444.6,162.3 1445.0,162.5" stroke="#2a2a2a" stroke-width="1.3"/>
<path d="M1410.0,156.2C1411.2,156.1 1415.0,155.8 1417.5,155.5C1420.0,155.2 1422.1,154.1 1425.0,154.5C1427.9,154.9 1432.1,156.9 1435.0,158.0C1437.9,159.1 1441.2,160.7 1442.5,161.2" stroke="#800080" stroke-width="2.8"/>
<path d="M1410.0,182.5C1411.2,181.0 1415.4,176.0 1417.5,173.8C1419.6,171.5 1420.4,169.8 1422.5,168.8C1424.6,167.7 1427.5,167.9 1430.0,167.5C1432.5,167.1 1435.0,166.8 1437.5,166.2C1440.0,165.8 1443.8,164.8 1445.0,164.5" stroke="#2a2a2a" stroke-width="1.3"/>
<path d="M1417.5,173.8C1418.3,172.9 1420.4,169.8 1422.5,168.8C1424.6,167.7 1427.5,167.9 1430.0,167.5C1432.5,167.1 1435.0,166.8 1437.5,166.2C1440.0,165.8 1443.8,164.8 1445.0,164.5" stroke="#008000" stroke-width="2.6"/>
<path d="M1410.0,182.5C1411.7,182.2 1416.7,180.8 1420.0,180.5C1423.3,180.2 1427.1,180.4 1430.0,180.5C1432.9,180.6 1435.0,180.9 1437.5,181.2C1440.0,181.6 1443.8,182.3 1445.0,182.5" stroke="#2a2a2a" stroke-width="1.3"/>
<path d="M1410.0,182.5C1411.7,182.2 1416.7,180.8 1420.0,180.5C1423.3,180.2 1427.1,180.4 1430.0,180.5C1432.9,180.6 1435.0,180.9 1437.5,181.2C1440.0,181.6 1443.8,182.3 1445.0,182.5" stroke="#ff0000" stroke-width="2.6"/>
<path d="M1445.0,164.5C1446.2,165.6 1450.6,169.7 1452.5,171.2C1454.4,172.8 1454.6,173.5 1456.2,173.8C1457.9,174.0 1460.2,173.5 1462.5,172.5C1464.8,171.5 1467.5,170.4 1470.0,167.5C1472.5,164.6 1475.4,159.2 1477.5,155.0C1479.6,150.8 1481.0,145.6 1482.5,142.5C1484.0,139.4 1484.8,135.4 1486.2,136.2C1487.7,137.1 1489.8,143.5 1491.2,147.5C1492.7,151.5 1493.8,156.5 1495.0,160.0C1496.2,163.5 1497.1,167.5 1498.8,168.8C1500.4,170.0 1502.7,167.3 1505.0,167.5C1507.3,167.7 1510.0,169.0 1512.5,170.0C1515.0,171.0 1517.5,174.6 1520.0,173.8C1522.5,172.9 1525.0,168.1 1527.5,165.0C1530.0,161.9 1532.5,158.5 1535.0,155.0C1537.5,151.5 1540.8,146.7 1542.5,143.8C1544.2,140.8 1544.6,138.5 1545.0,137.5" stroke="#2a2a2a" stroke-width="1.3"/>
<path d="M1445.0,180.0C1446.2,179.4 1450.6,177.1 1452.5,176.2C1454.4,175.4 1454.2,175.0 1456.2,175.0C1458.3,175.0 1462.3,175.4 1465.0,176.2C1467.7,177.1 1470.0,178.3 1472.5,180.0C1475.0,181.7 1478.8,185.2 1480.0,186.2" stroke="#2a2a2a" stroke-width="1.3"/>
<path d="M1462.5,98.8C1463.3,99.8 1465.8,105.0 1467.5,105.0C1469.2,105.0 1471.7,99.8 1472.5,98.8" stroke="#2a2a2a" stroke-width="1.3"/>
<path d="M1478.8,98.8C1479.4,101.0 1481.2,108.3 1482.5,112.5C1483.8,116.7 1485.0,123.8 1486.2,123.8C1487.5,123.8 1488.8,116.7 1490.0,112.5C1491.2,108.3 1493.1,101.0 1493.8,98.8" stroke="#2a2a2a" stroke-width="1.3"/>
<path d="M1497.5,98.8C1498.8,100.6 1502.9,109.0 1505.0,110.0C1507.1,111.0 1508.8,106.9 1510.0,105.0C1511.2,103.1 1512.1,99.8 1512.5,98.8" stroke="#2a2a2a" stroke-width="1.3"/>
<path d="M1532.5,98.8C1533.8,100.6 1537.9,107.3 1540.0,110.0C1542.1,112.7 1544.2,114.2 1545.0,115.0" stroke="#2a2a2a" stroke-width="1.3"/>
<path d="M1495.0,186.2C1495.8,185.0 1498.3,180.4 1500.0,178.8C1501.7,177.1 1502.9,176.5 1505.0,176.2C1507.1,176.0 1510.0,176.7 1512.5,177.5C1515.0,178.3 1517.9,179.8 1520.0,181.2C1522.1,182.7 1524.2,185.4 1525.0,186.2" stroke="#2a2a2a" stroke-width="1.3"/>
</g>
<clipPath id="tc2"><rect x="0" y="185" width="1756" height="75"/></clipPath><g clip-path="url(#tc2)">
<path d="M1249.5,211.2C1250.4,209.8 1253.0,205.6 1255.0,202.5C1257.0,199.4 1259.4,192.9 1261.2,192.5C1263.1,192.1 1264.4,197.1 1266.2,200.0C1268.1,202.9 1271.0,207.9 1272.5,210.0C1274.0,212.1 1273.3,213.3 1275.0,212.5C1276.7,211.7 1280.0,207.5 1282.5,205.0C1285.0,202.5 1287.9,199.0 1290.0,197.5C1292.1,196.0 1292.9,195.6 1295.0,196.2C1297.1,196.9 1300.4,198.8 1302.5,201.2C1304.6,203.8 1306.7,209.6 1307.5,211.2" stroke="#2a2a2a" stroke-width="1.3"/>
<path d="M1307.5,212.5C1308.8,212.4 1312.5,212.3 1315.0,212.0C1317.5,211.7 1320.0,211.3 1322.5,210.8C1325.0,210.2 1327.5,209.5 1330.0,208.8C1332.5,208.0 1335.0,206.9 1337.5,206.2C1340.0,205.6 1342.5,205.7 1345.0,205.0C1347.5,204.3 1350.4,202.4 1352.5,202.0C1354.6,201.6 1355.8,202.0 1357.5,202.5C1359.2,203.0 1360.8,204.0 1362.5,205.0C1364.2,206.0 1366.7,208.1 1367.5,208.8" stroke="#e69514" stroke-width="2.4"/>
<path d="M1249.5,222.5C1250.8,221.9 1254.9,219.6 1257.5,218.8C1260.1,217.9 1262.9,217.9 1265.0,217.5C1267.1,217.1 1267.9,216.2 1270.0,216.2C1272.1,216.2 1275.0,217.7 1277.5,217.5C1280.0,217.3 1282.5,215.6 1285.0,215.0C1287.5,214.4 1290.0,213.8 1292.5,213.8C1295.0,213.8 1297.5,214.6 1300.0,215.0C1302.5,215.4 1305.0,215.6 1307.5,216.2C1310.0,216.9 1312.9,217.9 1315.0,218.8C1317.1,219.6 1319.2,220.8 1320.0,221.2" stroke="#2a2a2a" stroke-width="1.3"/>
<path d="M1290.0,214.0C1291.7,214.2 1297.1,214.6 1300.0,215.0C1302.9,215.4 1305.0,215.6 1307.5,216.2C1310.0,216.9 1312.9,217.9 1315.0,218.8C1317.1,219.6 1319.2,220.8 1320.0,221.2" stroke="#008000" stroke-width="2.6"/>
<path d="M1249.5,222.5C1250.8,223.5 1254.9,226.9 1257.5,228.8C1260.1,230.6 1262.5,232.3 1265.0,233.8C1267.5,235.2 1270.0,236.5 1272.5,237.5C1275.0,238.5 1277.5,239.5 1280.0,239.5C1282.5,239.5 1285.0,238.7 1287.5,237.5C1290.0,236.3 1292.5,234.4 1295.0,232.5C1297.5,230.6 1300.0,227.7 1302.5,226.2C1305.0,224.8 1307.1,224.3 1310.0,223.8C1312.9,223.2 1318.3,223.1 1320.0,223.0" stroke="#1ec58a" stroke-width="3.0"/>
<path d="M1249.5,225.0C1250.8,226.2 1254.9,230.0 1257.5,232.5C1260.1,235.0 1262.9,237.9 1265.0,240.0C1267.1,242.1 1269.2,244.2 1270.0,245.0" stroke="#2a2a2a" stroke-width="1.3"/>
<path d="M1249.5,226.2C1250.2,226.0 1252.0,224.8 1253.8,225.0C1255.5,225.2 1257.7,226.0 1260.0,227.5C1262.3,229.0 1265.0,231.7 1267.5,233.8C1270.0,235.8 1272.7,239.5 1275.0,240.0C1277.3,240.5 1279.2,238.7 1281.2,237.0C1283.3,235.3 1285.2,232.2 1287.5,230.0C1289.8,227.8 1293.8,224.8 1295.0,223.8" stroke="#2a2a2a" stroke-width="1.3"/>
<path d="M1275.0,175.0C1276.2,174.8 1280.0,174.2 1282.5,173.8C1285.0,173.3 1287.5,172.1 1290.0,172.5C1292.5,172.9 1295.0,175.0 1297.5,176.2C1300.0,177.5 1302.9,178.8 1305.0,180.0C1307.1,181.2 1308.3,182.1 1310.0,183.8C1311.7,185.4 1313.3,188.5 1315.0,190.0C1316.7,191.5 1318.3,192.3 1320.0,192.5C1321.7,192.7 1323.1,192.1 1325.0,191.2C1326.9,190.4 1329.6,188.3 1331.2,187.5C1332.9,186.7 1333.5,185.8 1335.0,186.2C1336.5,186.7 1338.3,188.8 1340.0,190.0C1341.7,191.2 1343.3,192.3 1345.0,193.8C1346.7,195.2 1349.2,197.9 1350.0,198.8" stroke="#2a2a2a" stroke-width="1.3"/>
<path d="M1322.5,222.5C1323.3,219.2 1326.0,206.0 1327.5,202.5C1329.0,199.0 1330.0,200.8 1331.2,201.2C1332.5,201.7 1333.5,202.3 1335.0,205.0C1336.5,207.7 1338.3,212.9 1340.0,217.5C1341.7,222.1 1343.3,227.9 1345.0,232.5C1346.7,237.1 1349.2,242.9 1350.0,245.0" stroke="#2a2a2a" stroke-width="1.3"/>
<path d="M1320.0,223.0C1321.2,222.7 1325.0,221.8 1327.5,221.2C1330.0,220.8 1332.5,220.4 1335.0,220.0C1337.5,219.6 1340.0,219.4 1342.5,218.8C1345.0,218.1 1347.9,216.9 1350.0,216.2C1352.1,215.6 1354.2,215.2 1355.0,215.0" stroke="#6f7f92" stroke-width="1.6"/>
<path d="M1351.2,215.0L1367.5,215.0" stroke="#0000ff" stroke-width="2.4"/>
<path d="M1330.0,165.0C1330.8,167.1 1333.3,173.3 1335.0,177.5C1336.7,181.7 1338.3,185.8 1340.0,190.0C1341.7,194.2 1343.3,198.8 1345.0,202.5C1346.7,206.2 1348.8,210.4 1350.0,212.5C1351.2,214.6 1352.1,214.6 1352.5,215.0" stroke="#2a2a2a" stroke-width="1.2"/>
<path d="M1330.0,165.0C1330.8,167.1 1333.3,173.3 1335.0,177.5C1336.7,181.7 1338.3,185.8 1340.0,190.0C1341.7,194.2 1343.3,198.8 1345.0,202.5C1346.7,206.2 1348.8,210.4 1350.0,212.5C1351.2,214.6 1352.1,214.6 1352.5,215.0" stroke="#0000ff" stroke-width="2.9" stroke-dasharray="0 4.4"/>
<path d="M1367.5,212.5C1368.3,210.4 1370.8,204.6 1372.5,200.0C1374.2,195.4 1376.0,189.6 1377.5,185.0C1379.0,180.4 1380.0,175.8 1381.2,172.5C1382.5,169.2 1384.4,166.2 1385.0,165.0" stroke="#2a2a2a" stroke-width="1.2"/>
<path d="M1367.5,212.5C1368.3,210.4 1370.8,204.6 1372.5,200.0C1374.2,195.4 1376.0,189.6 1377.5,185.0C1379.0,180.4 1380.0,175.8 1381.2,172.5C1382.5,169.2 1384.4,166.2 1385.0,165.0" stroke="#0000ff" stroke-width="2.9" stroke-dasharray="0 4.4"/>
<path d="M1312.5,245.0C1313.3,242.9 1316.0,235.8 1317.5,232.5C1319.0,229.2 1320.0,226.7 1321.2,225.0C1322.5,223.3 1324.4,222.9 1325.0,222.5" stroke="#3fb2ee" stroke-width="1.6"/>
<path d="M1321.2,225.0C1322.3,224.0 1325.2,220.2 1327.5,218.8C1329.8,217.3 1332.9,216.5 1335.0,216.2C1337.1,216.0 1338.3,215.6 1340.0,217.5C1341.7,219.4 1343.3,223.8 1345.0,227.5C1346.7,231.2 1349.2,237.9 1350.0,240.0" stroke="#2a2a2a" stroke-width="1.3"/>
<path d="M1367.5,215.0C1368.8,215.6 1372.5,217.7 1375.0,218.8C1377.5,219.8 1380.0,220.6 1382.5,221.2C1385.0,221.9 1387.9,222.2 1390.0,222.5C1392.1,222.8 1394.2,222.9 1395.0,223.0" stroke="#2a2a2a" stroke-width="1.3"/>
<path d="M1365.0,207.5C1365.8,206.2 1368.3,202.5 1370.0,200.0C1371.7,197.5 1373.1,194.6 1375.0,192.5C1376.9,190.4 1380.2,188.3 1381.2,187.5" stroke="#2a2a2a" stroke-width="1.3"/>
<path d="M1365.0,208.8C1366.2,207.3 1370.0,202.3 1372.5,200.0C1375.0,197.7 1377.5,193.5 1380.0,195.0C1382.5,196.5 1385.0,205.0 1387.5,208.8C1390.0,212.5 1393.8,216.0 1395.0,217.5" stroke="#2a2a2a" stroke-width="1.3"/>
<path d="M1367.5,210.0C1368.8,209.8 1372.7,209.2 1375.0,208.8C1377.3,208.3 1379.2,207.3 1381.2,207.5C1383.3,207.7 1385.4,209.2 1387.5,210.0C1389.6,210.8 1392.7,212.1 1393.8,212.5" stroke="#e69514" stroke-width="2.4"/>
<path d="M1372.5,187.5C1373.8,187.1 1377.5,185.8 1380.0,185.0C1382.5,184.2 1385.0,183.0 1387.5,182.5C1390.0,182.0 1393.8,182.1 1395.0,182.0" stroke="#008000" stroke-width="1.6"/>
<path d="M1375.0,188.8C1376.0,188.1 1379.6,184.4 1381.2,185.0C1382.9,185.6 1383.5,189.2 1385.0,192.5C1386.5,195.8 1388.3,200.8 1390.0,205.0C1391.7,209.2 1394.2,215.4 1395.0,217.5" stroke="#2a2a2a" stroke-width="1.3"/>
<path d="M1352.5,245.0C1353.3,243.8 1355.8,239.8 1357.5,237.5C1359.2,235.2 1361.0,232.9 1362.5,231.2C1364.0,229.6 1365.4,228.5 1366.2,227.5C1367.1,226.5 1367.3,225.4 1367.5,225.0" stroke="#2a2a2a" stroke-width="1.3"/>
<path d="M1365.0,230.0C1365.4,231.2 1366.7,235.0 1367.5,237.5C1368.3,240.0 1369.6,243.8 1370.0,245.0" stroke="#2a2a2a" stroke-width="1.3"/>
<path d="M1385.0,245.0C1385.8,242.9 1388.3,236.9 1390.0,232.5C1391.7,228.1 1394.2,221.0 1395.0,218.8" stroke="#2a2a2a" stroke-width="1.2"/>
<path d="M1385.0,245.0C1385.8,242.9 1388.3,236.9 1390.0,232.5C1391.7,228.1 1394.2,221.0 1395.0,218.8" stroke="#1ec58a" stroke-width="2.9" stroke-dasharray="0 4.4"/>
<path d="M1395.8,222.5C1396.9,222.9 1400.1,224.0 1402.5,225.0C1404.9,226.0 1407.5,227.3 1410.0,228.8C1412.5,230.2 1415.0,232.1 1417.5,233.8C1420.0,235.4 1422.9,237.5 1425.0,238.8C1427.1,240.0 1428.8,240.2 1430.0,241.2C1431.2,242.3 1432.1,244.4 1432.5,245.0" stroke="#1ec58a" stroke-width="3.0"/>
<path d="M1395.8,220.0C1396.9,219.7 1400.1,218.4 1402.5,218.0C1404.9,217.6 1408.8,217.6 1410.0,217.5" stroke="#008000" stroke-width="2.6"/>
<path d="M1395.8,217.5C1396.9,215.0 1400.3,206.7 1402.5,202.5C1404.7,198.3 1406.7,192.9 1408.8,192.5C1410.8,192.1 1413.1,197.1 1415.0,200.0C1416.9,202.9 1418.3,207.5 1420.0,210.0C1421.7,212.5 1423.3,213.1 1425.0,215.0C1426.7,216.9 1428.3,219.6 1430.0,221.2C1431.7,222.9 1433.3,225.0 1435.0,225.0C1436.7,225.0 1438.3,222.3 1440.0,221.2C1441.7,220.2 1443.3,219.4 1445.0,218.8C1446.7,218.1 1448.3,217.1 1450.0,217.5C1451.7,217.9 1453.3,220.0 1455.0,221.2C1456.7,222.5 1459.2,224.4 1460.0,225.0" stroke="#2a2a2a" stroke-width="1.3"/>
<path d="M1395.8,191.2C1397.3,190.6 1401.8,188.8 1405.0,187.5C1408.2,186.2 1411.7,184.8 1415.0,183.8C1418.3,182.7 1421.7,181.8 1425.0,181.2C1428.3,180.7 1432.1,180.3 1435.0,180.5C1437.9,180.7 1441.2,182.2 1442.5,182.5" stroke="#2a2a2a" stroke-width="1.3"/>
<path d="M1405.0,187.5C1406.7,186.9 1411.7,184.8 1415.0,183.8C1418.3,182.7 1421.7,181.8 1425.0,181.2C1428.3,180.7 1432.1,180.3 1435.0,180.5C1437.9,180.7 1441.2,182.2 1442.5,182.5" stroke="#ff0000" stroke-width="1.6"/>
<path d="M1425.0,227.5C1425.8,227.7 1427.9,228.1 1430.0,228.8C1432.1,229.4 1435.0,230.4 1437.5,231.2C1440.0,232.1 1442.9,232.5 1445.0,233.8C1447.1,235.0 1448.3,236.9 1450.0,238.8C1451.7,240.6 1454.2,244.0 1455.0,245.0" stroke="#2a2a2a" stroke-width="1.3"/>
<path d="M1456.2,222.5C1457.3,222.7 1460.2,224.0 1462.5,223.8C1464.8,223.5 1467.5,222.1 1470.0,221.2C1472.5,220.4 1474.8,219.8 1477.5,218.8C1480.2,217.7 1483.3,214.8 1486.2,215.0C1489.2,215.2 1492.7,218.5 1495.0,220.0C1497.3,221.5 1497.9,222.5 1500.0,223.8C1502.1,225.0 1505.0,227.5 1507.5,227.5C1510.0,227.5 1512.5,225.0 1515.0,223.8C1517.5,222.5 1520.0,220.8 1522.5,220.0C1525.0,219.2 1527.5,219.2 1530.0,218.8C1532.5,218.3 1535.0,218.1 1537.5,217.5C1540.0,216.9 1543.8,215.4 1545.0,215.0" stroke="#2a2a2a" stroke-width="1.3"/>
<path d="M1456.2,178.8C1457.3,179.0 1460.2,179.2 1462.5,180.0C1464.8,180.8 1467.5,181.7 1470.0,183.8C1472.5,185.8 1474.8,189.6 1477.5,192.5C1480.2,195.4 1484.0,200.8 1486.2,201.2C1488.5,201.7 1489.8,197.3 1491.2,195.0C1492.7,192.7 1493.5,190.0 1495.0,187.5C1496.5,185.0 1498.3,181.9 1500.0,180.0C1501.7,178.1 1502.9,176.7 1505.0,176.2C1507.1,175.8 1510.0,176.9 1512.5,177.5C1515.0,178.1 1517.5,177.9 1520.0,180.0C1522.5,182.1 1525.0,186.7 1527.5,190.0C1530.0,193.3 1532.5,197.3 1535.0,200.0C1537.5,202.7 1540.8,205.1 1542.5,206.2C1544.2,207.4 1544.6,206.9 1545.0,207.0" stroke="#2a2a2a" stroke-width="1.3"/>
<path d="M1460.0,245.0C1460.8,244.4 1463.3,241.2 1465.0,241.2C1466.7,241.2 1469.2,244.4 1470.0,245.0" stroke="#2a2a2a" stroke-width="1.3"/>
<path d="M1505.0,245.0C1505.8,244.6 1508.3,242.5 1510.0,242.5C1511.7,242.5 1514.2,244.6 1515.0,245.0" stroke="#2a2a2a" stroke-width="1.3"/>
<path d="M1520.0,237.5C1521.2,236.5 1525.0,232.7 1527.5,231.2C1530.0,229.8 1532.1,229.4 1535.0,228.8C1537.9,228.1 1543.3,227.7 1545.0,227.5" stroke="#2a2a2a" stroke-width="1.3"/>
</g>
</g>
<path d="M1545.5,67.0C1545.6,67.9 1545.1,71.2 1546.0,72.5C1546.9,73.8 1546.8,74.2 1551.0,75.0C1555.2,75.8 1564.3,76.4 1571.0,77.0C1577.7,77.6 1586.2,78.0 1591.0,78.8C1595.8,79.5 1596.0,80.6 1599.8,81.2C1603.5,81.9 1613.1,82.0 1613.5,82.5C1613.9,83.0 1603.1,83.6 1602.2,84.2C1601.4,84.9 1608.7,85.7 1608.5,86.2C1608.3,86.8 1603.9,86.9 1601.0,87.5C1598.1,88.1 1594.8,89.2 1591.0,90.0C1587.2,90.8 1582.2,91.7 1578.5,92.5C1574.8,93.3 1570.6,94.0 1568.5,95.0C1566.4,96.0 1565.6,97.5 1566.0,98.8C1566.4,100.0 1568.5,101.7 1571.0,102.5C1573.5,103.3 1578.9,103.2 1581.0,103.8C1583.1,104.2 1584.8,104.9 1583.5,105.5C1582.2,106.1 1574.3,106.8 1573.5,107.5C1572.7,108.2 1572.9,108.9 1578.5,109.5C1584.1,110.1 1607.2,110.7 1607.2,111.2C1607.2,111.8 1584.5,112.3 1578.5,113.0C1572.5,113.7 1572.0,114.5 1571.0,115.5C1570.0,116.5 1570.6,117.8 1572.2,118.8C1573.9,119.7 1574.1,120.4 1581.0,121.2C1587.9,122.1 1603.7,123.0 1613.5,123.8C1623.3,124.5 1639.8,124.9 1639.8,125.5C1639.8,126.1 1622.9,126.8 1613.5,127.5C1604.1,128.2 1588.9,129.2 1583.5,130.0C1578.1,130.8 1578.1,131.6 1581.0,132.0C1583.9,132.4 1596.6,132.0 1601.0,132.5C1605.4,133.0 1608.9,134.2 1607.2,135.0C1605.6,135.8 1597.0,136.5 1591.0,137.0C1585.0,137.5 1575.2,137.5 1571.0,138.0C1566.8,138.5 1566.0,139.0 1566.0,140.0C1566.0,141.0 1571.0,142.7 1571.0,143.8C1571.0,144.8 1568.1,145.4 1566.0,146.2C1563.9,147.1 1560.2,147.9 1558.5,148.8C1556.8,149.6 1554.8,150.4 1556.0,151.2C1557.2,152.1 1564.8,152.9 1566.0,153.8C1567.2,154.6 1565.2,155.4 1563.5,156.2C1561.8,157.1 1557.7,157.9 1556.0,158.8C1554.3,159.6 1552.2,160.2 1553.5,161.2C1554.8,162.3 1559.3,164.0 1563.5,165.0C1567.7,166.0 1578.1,166.4 1578.5,167.0C1578.9,167.6 1568.9,167.8 1566.0,168.8C1563.1,169.7 1561.0,171.5 1561.0,172.5C1561.0,173.5 1562.7,174.2 1566.0,175.0C1569.3,175.8 1576.8,176.6 1581.0,177.5C1585.2,178.4 1591.4,179.7 1591.0,180.5C1590.6,181.3 1582.7,181.8 1578.5,182.5C1574.3,183.2 1568.1,184.2 1566.0,185.0C1563.9,185.8 1564.8,186.7 1566.0,187.5C1567.2,188.3 1573.5,189.2 1573.5,190.0C1573.5,190.8 1568.9,191.7 1566.0,192.5C1563.1,193.3 1557.2,194.2 1556.0,195.0C1554.8,195.8 1555.6,196.7 1558.5,197.5C1561.4,198.3 1568.9,199.2 1573.5,200.0C1578.1,200.8 1583.1,201.9 1586.0,202.5C1588.9,203.1 1591.0,203.3 1591.0,203.8C1591.0,204.2 1586.0,204.6 1586.0,205.0C1586.0,205.4 1592.7,205.6 1591.0,206.2C1589.3,206.9 1578.7,208.1 1576.0,208.8C1573.3,209.4 1570.2,209.4 1574.8,210.0C1579.3,210.6 1591.6,211.6 1603.5,212.5C1615.4,213.4 1644.3,214.7 1646.0,215.5C1647.7,216.3 1618.9,216.8 1613.5,217.5C1608.1,218.2 1611.0,218.9 1613.5,219.5C1616.0,220.1 1620.8,220.7 1628.5,221.2C1636.2,221.8 1661.8,222.5 1659.8,223.0C1657.7,223.5 1628.7,224.0 1616.0,224.5C1603.3,225.0 1589.3,225.4 1583.5,226.2C1577.7,227.1 1582.7,228.5 1581.0,229.5C1579.3,230.5 1575.6,231.1 1573.5,232.0C1571.4,232.9 1568.9,233.9 1568.5,235.0C1568.1,236.1 1569.3,237.5 1571.0,238.8C1572.7,240.0 1576.0,241.3 1578.5,242.5C1581.0,243.7 1584.8,245.4 1586.0,246.0L1545.00,246.00L1545.00,67.00Z" fill="#b4b4b4" stroke="none"/>
<path d="M1545.00,75.00 L1545.50,75.00 L1556.00,78.75 L1574.75,83.00 L1556.00,85.00 L1545.50,90.00 L1545.00,90.00Z" fill="#5a9a5a" stroke="none"/>
<path d="M1545.00,107.50 L1545.50,107.50 L1556.00,109.50 L1574.75,111.25 L1556.00,113.00 L1545.50,115.00 L1545.00,115.00Z" fill="#7070c8" stroke="none"/>
<path d="M1545.00,122.00 L1545.50,122.00 L1556.00,123.50 L1573.50,124.50 L1556.00,125.50 L1545.50,127.00 L1545.00,127.00Z" fill="#7070c8" stroke="none"/>
<path d="M1545.00,132.50 L1545.50,132.50 L1553.50,133.75 L1564.75,135.50 L1553.50,137.00 L1545.50,138.00 L1545.00,138.00Z" fill="#e06060" stroke="none"/>
<path d="M1545.00,150.00 L1545.50,150.00 L1549.75,152.50 L1552.25,155.00 L1548.50,157.50 L1545.50,160.00 L1545.00,160.00Z" fill="#9060a0" stroke="none"/>
<path d="M1545.00,213.00 L1545.50,213.00 L1556.00,214.50 L1572.25,215.50 L1556.00,216.50 L1545.50,218.00 L1545.00,218.00Z" fill="#7070c8" stroke="none"/>
<path d="M1545.00,219.50 L1545.50,219.50 L1553.50,221.00 L1562.25,222.00 L1553.50,223.00 L1545.50,224.50 L1545.00,224.50Z" fill="#60c0a0" stroke="none"/>
<path d="M1545.5,67.0C1545.6,67.9 1545.1,71.2 1546.0,72.5C1546.9,73.8 1546.8,74.2 1551.0,75.0C1555.2,75.8 1564.3,76.4 1571.0,77.0C1577.7,77.6 1586.2,78.0 1591.0,78.8C1595.8,79.5 1596.0,80.6 1599.8,81.2C1603.5,81.9 1613.1,82.0 1613.5,82.5C1613.9,83.0 1603.1,83.6 1602.2,84.2C1601.4,84.9 1608.7,85.7 1608.5,86.2C1608.3,86.8 1603.9,86.9 1601.0,87.5C1598.1,88.1 1594.8,89.2 1591.0,90.0C1587.2,90.8 1582.2,91.7 1578.5,92.5C1574.8,93.3 1570.6,94.0 1568.5,95.0C1566.4,96.0 1565.6,97.5 1566.0,98.8C1566.4,100.0 1568.5,101.7 1571.0,102.5C1573.5,103.3 1578.9,103.2 1581.0,103.8C1583.1,104.2 1584.8,104.9 1583.5,105.5C1582.2,106.1 1574.3,106.8 1573.5,107.5C1572.7,108.2 1572.9,108.9 1578.5,109.5C1584.1,110.1 1607.2,110.7 1607.2,111.2C1607.2,111.8 1584.5,112.3 1578.5,113.0C1572.5,113.7 1572.0,114.5 1571.0,115.5C1570.0,116.5 1570.6,117.8 1572.2,118.8C1573.9,119.7 1574.1,120.4 1581.0,121.2C1587.9,122.1 1603.7,123.0 1613.5,123.8C1623.3,124.5 1639.8,124.9 1639.8,125.5C1639.8,126.1 1622.9,126.8 1613.5,127.5C1604.1,128.2 1588.9,129.2 1583.5,130.0C1578.1,130.8 1578.1,131.6 1581.0,132.0C1583.9,132.4 1596.6,132.0 1601.0,132.5C1605.4,133.0 1608.9,134.2 1607.2,135.0C1605.6,135.8 1597.0,136.5 1591.0,137.0C1585.0,137.5 1575.2,137.5 1571.0,138.0C1566.8,138.5 1566.0,139.0 1566.0,140.0C1566.0,141.0 1571.0,142.7 1571.0,143.8C1571.0,144.8 1568.1,145.4 1566.0,146.2C1563.9,147.1 1560.2,147.9 1558.5,148.8C1556.8,149.6 1554.8,150.4 1556.0,151.2C1557.2,152.1 1564.8,152.9 1566.0,153.8C1567.2,154.6 1565.2,155.4 1563.5,156.2C1561.8,157.1 1557.7,157.9 1556.0,158.8C1554.3,159.6 1552.2,160.2 1553.5,161.2C1554.8,162.3 1559.3,164.0 1563.5,165.0C1567.7,166.0 1578.1,166.4 1578.5,167.0C1578.9,167.6 1568.9,167.8 1566.0,168.8C1563.1,169.7 1561.0,171.5 1561.0,172.5C1561.0,173.5 1562.7,174.2 1566.0,175.0C1569.3,175.8 1576.8,176.6 1581.0,177.5C1585.2,178.4 1591.4,179.7 1591.0,180.5C1590.6,181.3 1582.7,181.8 1578.5,182.5C1574.3,183.2 1568.1,184.2 1566.0,185.0C1563.9,185.8 1564.8,186.7 1566.0,187.5C1567.2,188.3 1573.5,189.2 1573.5,190.0C1573.5,190.8 1568.9,191.7 1566.0,192.5C1563.1,193.3 1557.2,194.2 1556.0,195.0C1554.8,195.8 1555.6,196.7 1558.5,197.5C1561.4,198.3 1568.9,199.2 1573.5,200.0C1578.1,200.8 1583.1,201.9 1586.0,202.5C1588.9,203.1 1591.0,203.3 1591.0,203.8C1591.0,204.2 1586.0,204.6 1586.0,205.0C1586.0,205.4 1592.7,205.6 1591.0,206.2C1589.3,206.9 1578.7,208.1 1576.0,208.8C1573.3,209.4 1570.2,209.4 1574.8,210.0C1579.3,210.6 1591.6,211.6 1603.5,212.5C1615.4,213.4 1644.3,214.7 1646.0,215.5C1647.7,216.3 1618.9,216.8 1613.5,217.5C1608.1,218.2 1611.0,218.9 1613.5,219.5C1616.0,220.1 1620.8,220.7 1628.5,221.2C1636.2,221.8 1661.8,222.5 1659.8,223.0C1657.7,223.5 1628.7,224.0 1616.0,224.5C1603.3,225.0 1589.3,225.4 1583.5,226.2C1577.7,227.1 1582.7,228.5 1581.0,229.5C1579.3,230.5 1575.6,231.1 1573.5,232.0C1571.4,232.9 1568.9,233.9 1568.5,235.0C1568.1,236.1 1569.3,237.5 1571.0,238.8C1572.7,240.0 1576.0,241.3 1578.5,242.5C1581.0,243.7 1584.8,245.4 1586.0,246.0" fill="none" stroke="#111" stroke-width="1.5" stroke-linejoin="round"/>
<path d="M1545.50,75.00 L1556.00,78.75 L1574.75,83.00 L1556.00,85.00 L1545.50,90.00" fill="none" stroke="#008000" stroke-width="1.3" stroke-linejoin="round"/>
<path d="M1545.50,107.50 L1556.00,109.50 L1574.75,111.25 L1556.00,113.00 L1545.50,115.00" fill="none" stroke="#0000ff" stroke-width="1.3" stroke-linejoin="round"/>
<path d="M1545.50,122.00 L1556.00,123.50 L1573.50,124.50 L1556.00,125.50 L1545.50,127.00" fill="none" stroke="#0000ff" stroke-width="1.3" stroke-linejoin="round"/>
<path d="M1545.50,130.50 L1556.00,132.00 L1566.00,133.00 L1556.00,134.00 L1545.50,135.00" fill="none" stroke="#ff0000" stroke-width="1.3" stroke-linejoin="round"/>
<path d="M1545.50,73.75 L1552.25,77.50 L1548.50,85.00 L1551.00,95.00 L1548.50,105.00 L1552.25,112.50 L1548.50,122.50 L1551.00,130.00" fill="none" stroke="#e69514" stroke-width="1.3" stroke-linejoin="round"/>
<path d="M1545.50,100.00 L1551.00,105.00 L1559.75,110.00 L1551.00,115.00 L1547.25,122.50" fill="none" stroke="#800080" stroke-width="1.3" stroke-linejoin="round"/>
<path d="M1545.50,132.50 L1553.50,133.75 L1564.75,135.50 L1553.50,137.00 L1545.50,138.00" fill="none" stroke="#ff0000" stroke-width="1.3" stroke-linejoin="round"/>
<path d="M1545.50,150.00 L1549.75,152.50 L1552.25,155.00 L1548.50,157.50 L1545.50,160.00" fill="none" stroke="#800080" stroke-width="1.3" stroke-linejoin="round"/>
<path d="M1545.50,165.00 L1548.50,167.50 L1546.00,170.00" fill="none" stroke="#008000" stroke-width="1.3" stroke-linejoin="round"/>
<path d="M1545.50,175.00 L1549.75,177.50 L1546.00,180.00" fill="none" stroke="#ff0000" stroke-width="1.3" stroke-linejoin="round"/>
<path d="M1545.50,187.50 L1549.75,191.25 L1546.00,193.75" fill="none" stroke="#e69514" stroke-width="1.3" stroke-linejoin="round"/>
<path d="M1545.50,175.00 L1549.75,178.75 L1546.00,181.25" fill="none" stroke="#ff0000" stroke-width="1.3" stroke-linejoin="round"/>
<path d="M1545.50,187.50 L1549.75,190.00 L1546.00,192.50" fill="none" stroke="#e69514" stroke-width="1.3" stroke-linejoin="round"/>
<path d="M1545.50,200.00 L1551.00,202.50 L1556.00,205.00 L1551.00,207.50 L1545.50,209.50" fill="none" stroke="#e69514" stroke-width="1.3" stroke-linejoin="round"/>
<path d="M1545.50,213.00 L1556.00,214.50 L1572.25,215.50 L1556.00,216.50 L1545.50,218.00" fill="none" stroke="#0000ff" stroke-width="1.3" stroke-linejoin="round"/>
<path d="M1545.50,219.50 L1553.50,221.00 L1562.25,222.00 L1553.50,223.00 L1545.50,224.50" fill="none" stroke="#1ec58a" stroke-width="1.3" stroke-linejoin="round"/>
<path d="M1545.50,165.00 L1547.25,190.00 L1546.00,215.00 L1547.25,246.00" fill="none" stroke="#3fb2ee" stroke-width="1.3" stroke-linejoin="round"/>
<rect x="1249.40" y="8.94" width="422.60" height="237.06" fill="none" stroke="#222" stroke-width="1.4"/>
<line x1="1545.00" y1="8.94" x2="1545.00" y2="246.00" stroke="#222" stroke-width="1.4"/>
<text x="1250.20" y="263.80" text-anchor="middle" font-size="16.5" font-style="italic">G</text>
<text x="1307.80" y="265.80" text-anchor="middle" font-size="16.5" font-style="italic">Y</text>
<text x="1322.00" y="266.00" text-anchor="middle" font-size="16.5" font-style="italic">G</text>
<text x="1350.10" y="264.80" text-anchor="middle" font-size="16.5" font-style="italic">Z</text>
<text x="1365.40" y="264.50" text-anchor="middle" font-size="16.5" font-style="italic">T</text>
<text x="1395.80" y="264.20" text-anchor="middle" font-size="16.5" font-style="italic">Y</text>
<text x="1425.80" y="265.00" text-anchor="middle" font-size="16.5" font-style="italic">G</text>
<text x="1456.40" y="262.90" text-anchor="middle" font-size="16.5" font-style="italic">R</text>
<text x="1486.20" y="262.90" text-anchor="middle" font-size="16.5" font-style="italic">Z</text>
<text x="1544.80" y="262.90" text-anchor="middle" font-size="16.5" font-style="italic">T</text>
<text x="1612.40" y="263.20" text-anchor="middle" font-size="16.8">5</text>
<text x="1398.50" y="286.50" text-anchor="middle" font-size="17">Wave Vector</text>
<text x="1608.60" y="285.10" text-anchor="middle" font-size="16.6">Density of States</text>
<text transform="translate(1204.90,127.47) rotate(-90)" text-anchor="middle" font-size="16.3" ><tspan font-style="italic">E</tspan> − <tspan font-style="italic">E</tspan><tspan font-size="11" dy="3.5" font-style="italic">F</tspan><tspan dy="-3.5"> (eV)</tspan></text>
<circle cx="1690.50" cy="21.00" r="3.3" fill="#ff0000"/>
<text x="1706.75" y="25.80" font-size="13.8"><tspan font-style="italic">W</tspan>(<tspan font-style="italic">d</tspan><tspan font-size="9.6" dy="3.2" font-style="italic">xy</tspan><tspan dy="-3.2">)</tspan></text>
<circle cx="1690.50" cy="44.25" r="3.3" fill="#0000ff"/>
<text x="1706.75" y="49.05" font-size="13.8"><tspan font-style="italic">W</tspan>(<tspan font-style="italic">d</tspan><tspan font-size="9.6" dy="3.2" font-style="italic">yz</tspan><tspan dy="-3.2">)</tspan></text>
<circle cx="1690.50" cy="67.00" r="3.3" fill="#008000"/>
<text x="1706.75" y="71.80" font-size="13.8"><tspan font-style="italic">W</tspan>(<tspan font-style="italic">d</tspan><tspan font-size="9.6" dy="3.2" font-style="italic">z</tspan><tspan font-size="6.8" dy="-4.5">2</tspan><tspan dy="1.3">)</tspan></text>
<circle cx="1690.50" cy="88.00" r="3.3" fill="#800080"/>
<text x="1706.75" y="92.80" font-size="13.8"><tspan font-style="italic">W</tspan>(<tspan font-style="italic">d</tspan><tspan font-size="9.6" dy="3.2" font-style="italic">xz</tspan><tspan dy="-3.2">)</tspan></text>
<circle cx="1690.50" cy="109.00" r="3.3" fill="#e69514"/>
<text x="1706.75" y="113.80" font-size="13.8"><tspan font-style="italic">W</tspan>(<tspan font-style="italic">d</tspan><tspan font-size="9.6" dy="3.2" font-style="italic">x</tspan><tspan font-size="6.8" dy="-4.5">2</tspan><tspan font-size="9.6" dy="4.5"> − </tspan><tspan font-size="9.6" font-style="italic">y</tspan><tspan font-size="6.8" dy="-4.5">2</tspan><tspan dy="1.3">)</tspan></text>
<circle cx="1690.50" cy="132.20" r="3.3" fill="#f0587a"/>
<text x="1706.75" y="137.00" font-size="13.8"><tspan font-style="italic">Al</tspan>(<tspan font-style="italic">s</tspan>)</text>
<circle cx="1690.50" cy="152.70" r="3.3" fill="#6f7f92"/>
<text x="1706.75" y="157.50" font-size="13.8"><tspan font-style="italic">B</tspan>(<tspan font-style="italic">p</tspan><tspan font-size="9.6" dy="3.2" font-style="italic">y</tspan><tspan dy="-3.2">)</tspan></text>
<circle cx="1690.50" cy="176.20" r="3.3" fill="#1ec58a"/>
<text x="1706.75" y="181.00" font-size="13.8"><tspan font-style="italic">B</tspan>(<tspan font-style="italic">p</tspan><tspan font-size="9.6" dy="3.2" font-style="italic">x</tspan><tspan dy="-3.2">)</tspan></text>
<circle cx="1690.50" cy="198.10" r="3.3" fill="#3fb2ee"/>
<text x="1706.75" y="202.90" font-size="13.8"><tspan font-style="italic">B</tspan>(<tspan font-style="italic">p</tspan><tspan font-size="9.6" dy="3.2" font-style="italic">z</tspan><tspan dy="-3.2">)</tspan></text>
<text x="1486.40" y="330" text-anchor="middle" style="font-family:'Liberation Sans',Arial,sans-serif;font-size:38px">(c)</text>
</svg>
</body></html>
